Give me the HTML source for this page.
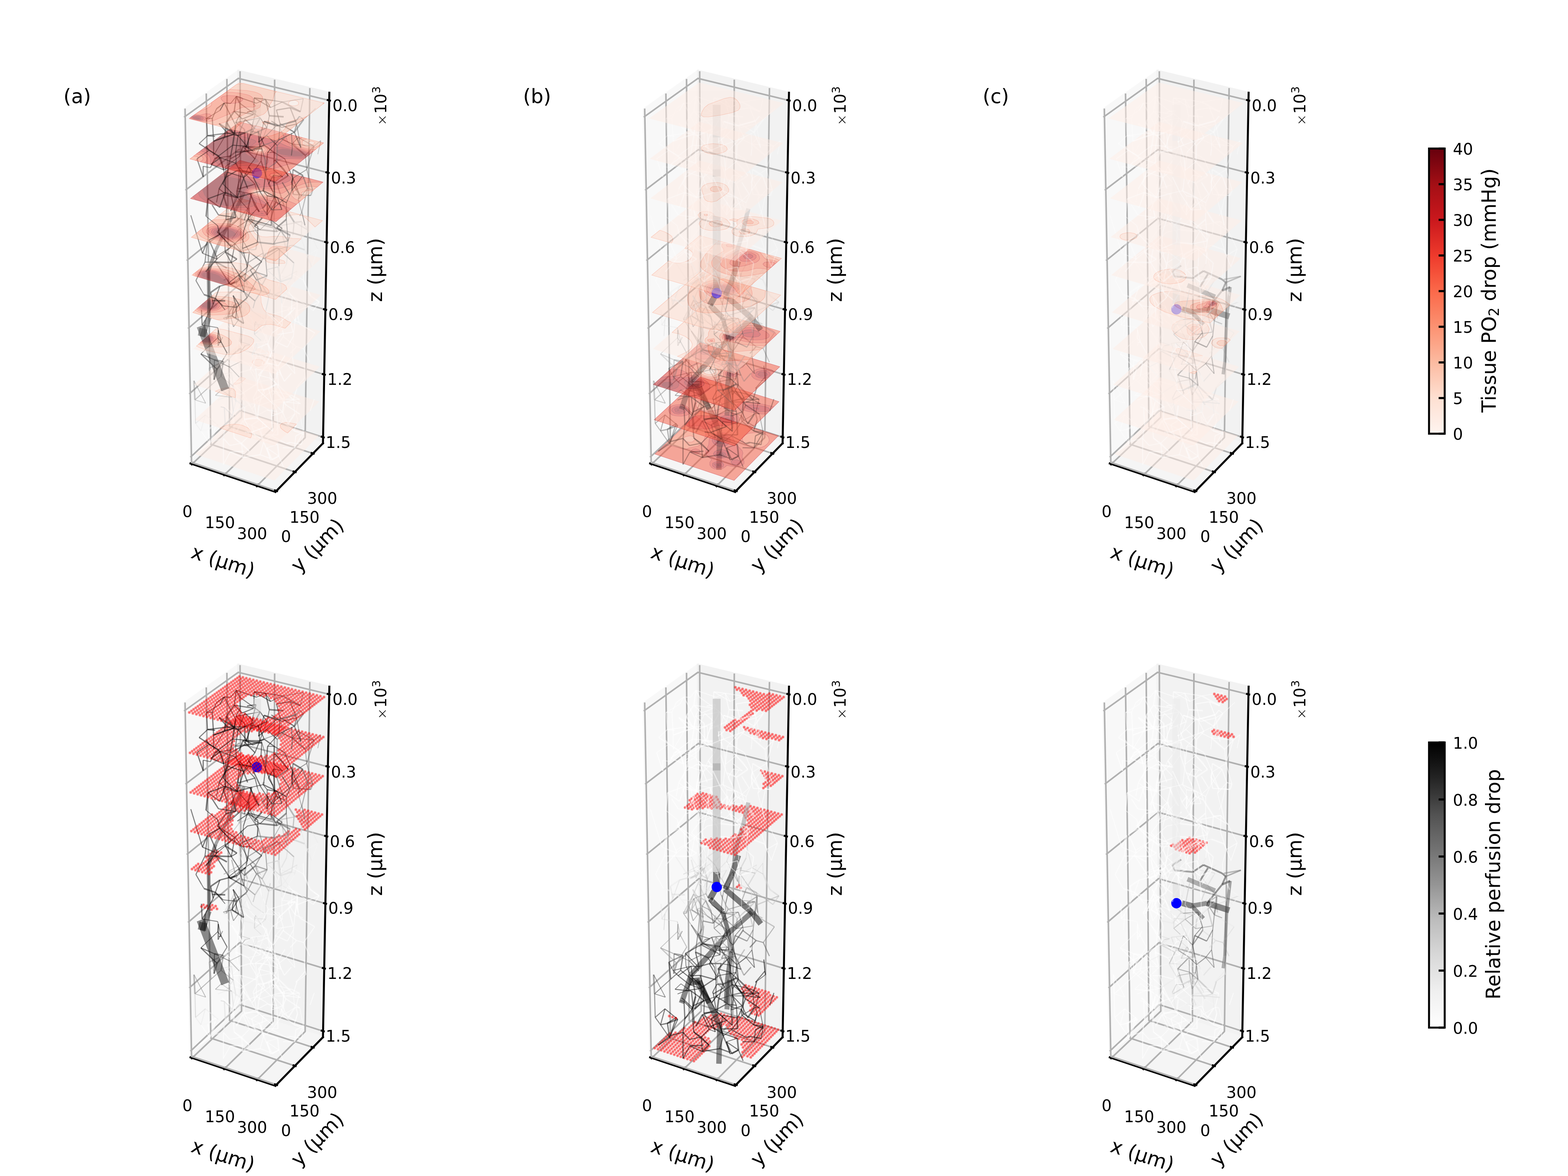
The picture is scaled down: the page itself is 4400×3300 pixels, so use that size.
<!DOCTYPE html>
<html><head><meta charset="utf-8"><title>figure</title><style>html,body{margin:0;padding:0;background:#fff}svg{display:block}</style></head><body>
<svg width="4400" height="3300" viewBox="0 0 4400 3300">
<rect width="4400" height="3300" fill="#fff"/>
<defs><marker id="dm" markerWidth="10" markerHeight="10" refX="5" refY="5" markerUnits="userSpaceOnUse" overflow="visible"><circle cx="5" cy="5" r="3.9" fill="#f00" fill-opacity="0.45"/><circle cx="5" cy="5" r="1.3" fill="#f00" fill-opacity="0.5"/></marker><g id="v0_8"><g fill="none" stroke-opacity="0.5"><g stroke="#959595" stroke-width="3.4"><path d="M592.5 1080.9L587.1 1033.3"/></g><g stroke="#7e7e7e" stroke-width="2.8"><path d="M592.5 1080.9L620.1 1056.3"/><path d="M592.5 1080.9L547 1122.1"/></g><g stroke="#ffffff" stroke-width="3.4"><path d="M674.8 1107.4L722.9 1075.6"/><path d="M674.8 1070.5L648.1 1071.7"/><path d="M742.7 1104.3L712 1122.3"/><path d="M679.9 976.7L730.7 1012.9"/><path d="M765.6 1108.3L765.5 1127.8"/><path d="M765.6 1108.3L757.9 1061.4"/><path d="M700.7 1037.6L733.8 1037.2"/><path d="M700.7 1037.6L669.6 1046.3"/><path d="M798.4 1117.8L763.2 1125.5"/><path d="M798.4 1117.8L792.6 1156.2"/><path d="M704.7 1213.1L734.7 1231.9"/><path d="M704.7 1213.1L748.7 1196.9"/><path d="M823.1 1122L833.7 1087.7"/><path d="M823.1 1122L803.2 1128.3"/><path d="M765.2 1210.5L761.8 1167.3"/><path d="M763.2 1125.5L761.8 1167.3"/><path d="M726.6 1138L738.3 1095.9"/><path d="M841.2 1161.9L802.1 1136.1"/><path d="M768.9 1135.9L761.8 1167.3"/><path d="M761.8 1167.3L792.6 1156.2"/><path d="M672.2 1048.5L648.1 1071.7"/><path d="M672.2 1048.5L661.9 1005.1"/><path d="M774.8 1097.4L793.2 1120.4"/><path d="M710.1 1117.8L712 1122.3"/></g><g stroke="#f5f5f5" stroke-width="2.8"><path d="M674.8 1107.4L634.6 1113.4"/><path d="M649.4 1044.6L669.6 1046.3"/><path d="M644.3 1095.7L613.2 1071.3"/></g><g stroke="#ffffff" stroke-width="2.8"><path d="M674.8 1107.4L644.3 1095.7"/><path d="M724.5 1125.5L765 1096.1"/><path d="M782.1 1081.9L765.6 1108.3"/><path d="M742.7 1104.3L725 1052.3"/><path d="M685.3 1176.2L686.7 1141.3"/><path d="M765.8 1074.6L774.8 1097.4"/><path d="M721.5 1096.1L738.3 1095.9"/><path d="M721.5 1096.1L710.1 1117.8"/><path d="M722.9 1075.6L700.7 1037.6"/><path d="M722.9 1075.6L733.8 1037.2"/><path d="M759 1041.6L765 1096.1"/><path d="M759 1041.6L730.1 989.6"/><path d="M759 1041.6L789.8 1053.5"/><path d="M685.8 1106.3L648.1 1071.7"/><path d="M715.4 1048.2L696.3 1020.7"/><path d="M765 1096.1L793.2 1120.4"/><path d="M749.5 1150.7L776.6 1154.5"/><path d="M730.1 989.6L730.7 1012.9"/><path d="M823.1 1122L843.4 1132.7"/><path d="M765.5 1127.8L776.6 1154.5"/><path d="M765.2 1210.5L722.3 1173"/><path d="M763.2 1125.5L792.6 1156.2"/><path d="M858.5 1068.2L856 1058.9"/><path d="M843.4 1132.7L803.2 1128.3"/><path d="M856 1058.9L830.1 1089.9"/><path d="M719.5 1167L712 1122.3"/><path d="M840.3 1120.5L793.2 1120.4"/><path d="M840.3 1120.5L817 1109"/><path d="M722.3 1173L748.7 1196.9"/><path d="M669.6 1046.3L633.3 1008.8"/><path d="M778.7 1189.5L776.6 1154.5"/><path d="M870.3 1153.4L881.8 1119.6"/></g><g stroke="#ffffff" stroke-width="2.2"><path d="M782.1 1081.9L775.6 1062.2"/><path d="M775.6 1062.2L765.8 1074.6"/><path d="M775.6 1062.2L727.4 1070.8"/><path d="M742.7 1104.3L727.4 1070.8"/><path d="M685.3 1176.2L704.7 1213.1"/><path d="M717.2 1073.2L719.7 1083"/><path d="M826.9 1161.7L823.1 1122"/><path d="M687.2 1212.3L704.7 1213.1"/><path d="M722.9 1075.6L727.4 1070.8"/><path d="M759 1041.6L733.8 1037.2"/><path d="M715.4 1048.2L719.7 1083"/><path d="M765 1096.1L817 1109"/><path d="M765.5 1127.8L803.2 1128.3"/><path d="M763.2 1125.5L726.6 1138"/><path d="M858.5 1068.2L830.1 1089.9"/><path d="M858.5 1068.2L853.5 1026.1"/><path d="M808.3 1189.5L792.6 1156.2"/><path d="M789.8 1053.5L766.7 998.5"/><path d="M856 1058.9L853.5 1026.1"/><path d="M696.3 1020.7L730.7 1012.9"/><path d="M648.1 1071.7L635.1 1043.2"/><path d="M633.3 1008.8L635.1 1043.2"/></g><g stroke="#ffffff" stroke-width="4.4"><path d="M782.1 1081.9L823.1 1122"/><path d="M685.3 1176.2L722.3 1173"/><path d="M826.9 1161.7L808.3 1189.5"/><path d="M726.6 1138L722.3 1173"/><path d="M802.1 1136.1L774.8 1097.4"/><path d="M696.3 1020.7L661.9 1005.1"/></g><g stroke="#c6c6c6" stroke-width="2.2"><path d="M587.1 1033.3L599 1056.8"/><path d="M629.6 1143.6L619.2 1141.6"/></g><g stroke="#d9d9d9" stroke-width="3.4"><path d="M654.6 1084.1L661.9 1127.2"/><path d="M629.6 1143.6L632 1192.4"/><path d="M654.9 1155.9L650.4 1114.7"/></g><g stroke="#d9d9d9" stroke-width="2.8"><path d="M654.6 1084.1L649.4 1044.6"/><path d="M651.6 1165.9L629.6 1143.6"/></g><g stroke="#959595" stroke-width="2.8"><path d="M654.6 1084.1L620.1 1056.3"/></g><g stroke="#d9d9d9" stroke-width="2.2"><path d="M654.6 1084.1L634.6 1113.4"/><path d="M649.4 1044.6L599 1056.8"/></g><g stroke="#e9e9e9" stroke-width="2.8"><path d="M651.6 1165.9L661.9 1127.2"/><path d="M649.4 1044.6L613.2 1071.3"/><path d="M613.2 1071.3L599 1056.8"/></g><g stroke="#e9e9e9" stroke-width="3.4"><path d="M651.6 1165.9L654.9 1155.9"/><path d="M651.6 1165.9L632 1192.4"/><path d="M686.7 1141.3L650.4 1114.7"/></g><g stroke="#e9e9e9" stroke-width="2.2"><path d="M611.5 1122.7L634.6 1113.4"/></g><g stroke="#b0b0b0" stroke-width="2.8"><path d="M604.5 1109.4L650.4 1114.7"/></g><g stroke="#7e7e7e" stroke-width="2.2"><path d="M604.5 1109.4L620.9 1094.1"/><path d="M544.3 1068.4L577.2 1131.5"/></g><g stroke="#f5f5f5" stroke-width="3.4"><path d="M686.7 1141.3L654.9 1155.9"/></g><g stroke="#7e7e7e" stroke-width="4.4"><path d="M547 1122.1L544.3 1068.4"/></g><g stroke="#959595" stroke-width="2.2"><path d="M547 1122.1L577.2 1131.5"/></g><g stroke="#c6c6c6" stroke-width="2.8"><path d="M547 1122.1L548.8 1188.3"/></g><g stroke="#b0b0b0" stroke-width="2.2"><path d="M650.4 1114.7L620.9 1094.1"/></g></g></g><g id="v0_4"><g fill="none" stroke-opacity="0.5"><g stroke="#333333" stroke-width="4.4"><path d="M685.5 790L716.6 763.1"/></g><g stroke="#515151" stroke-width="2.2"><path d="M685.5 790L694.2 749.2"/></g><g stroke="#333333" stroke-width="2.2"><path d="M685.5 790L669.4 772.1"/><path d="M694.3 738.2L676.6 707.8"/><path d="M749.2 603.2L766.3 634.4"/></g><g stroke="#d9d9d9" stroke-width="2.8"><path d="M807.8 707.9L803.9 740.8"/><path d="M774.7 780.9L786.8 790.5"/></g><g stroke="#000000" stroke-width="2.2"><path d="M675.5 664.8L701 708"/><path d="M645.7 686.1L610.1 651.7"/><path d="M759.3 616.5L730.1 644.5"/><path d="M680.6 710L659.4 683.4"/><path d="M607 719.6L648.6 692.8"/><path d="M632.1 707L608.7 727"/><path d="M640.8 794.6L669.4 772.1"/></g><g stroke="#000000" stroke-width="4.4"><path d="M645.7 686.1L676.6 707.8"/><path d="M600.5 735.7L649 736.8"/><path d="M664.8 727.4L632.1 707"/><path d="M607 719.6L608.7 727"/><path d="M610.1 651.7L634.1 616.7"/></g><g stroke="#515151" stroke-width="2.8"><path d="M744.2 713.6L716.6 763.1"/><path d="M695.6 585.1L711.4 631.3"/></g><g stroke="#515151" stroke-width="4.4"><path d="M744.2 713.6L778.1 695.5"/></g><g stroke="#686868" stroke-width="2.8"><path d="M744.2 713.6L749.5 774.1"/><path d="M725.2 658.1L738.4 709.9"/><path d="M682.2 597.2L652.3 584"/><path d="M694.3 738.2L738.4 709.9"/></g><g stroke="#333333" stroke-width="3.4"><path d="M759.3 616.5L777.6 649.6"/><path d="M702.2 757.8L734.6 734.7"/><path d="M652.3 584L669 615.8"/></g><g stroke="#b0b0b0" stroke-width="2.8"><path d="M650.4 670.6L670.8 643.6"/><path d="M794.5 666.8L789.8 632.8"/><path d="M846.4 621.7L825.3 623"/></g><g stroke="#181818" stroke-width="4.4"><path d="M777.6 649.6L730.1 644.5"/></g><g stroke="#515151" stroke-width="3.4"><path d="M777.6 649.6L791.8 641.3"/></g><g stroke="#333333" stroke-width="2.8"><path d="M702.2 757.8L719.9 785.7"/><path d="M695.6 585.1L669 615.8"/><path d="M696.7 617.2L725.2 658.1"/><path d="M694.2 749.2L669.4 772.1"/><path d="M652.3 584L644.7 637.6"/><path d="M685.1 819.4L669.4 772.1"/></g><g stroke="#000000" stroke-width="2.8"><path d="M674.9 777L649 736.8"/><path d="M730.1 644.5L694.3 651.4"/><path d="M696.7 617.2L666 637.5"/><path d="M680.6 710L701 708"/><path d="M568.1 710.5L547.1 642.1"/><path d="M568.1 710.5L608.7 727"/><path d="M629.9 662.5L632.1 707"/><path d="M600.5 735.7L575.2 735.6"/><path d="M694.3 651.4L659.4 683.4"/><path d="M649 736.8L664.8 727.4"/><path d="M649 736.8L632.1 707"/><path d="M649 736.8L659.4 683.4"/><path d="M582.1 677.3L575.2 735.6"/><path d="M632.1 707L659.4 683.4"/></g><g stroke="#959595" stroke-width="3.4"><path d="M782.7 746.9L784.3 698.4"/><path d="M682.2 597.2L670.8 643.6"/><path d="M778.1 695.5L824.9 738"/><path d="M822.2 658.4L825.3 623"/></g><g stroke="#e9e9e9" stroke-width="2.2"><path d="M892.1 699.2L866.4 646.9"/><path d="M818.4 780.1L793.4 815.2"/></g><g stroke="#f5f5f5" stroke-width="2.8"><path d="M892.1 699.2L874.6 748.2"/><path d="M892.1 699.2L861.9 717.2"/></g><g stroke="#686868" stroke-width="2.2"><path d="M695.6 585.1L682.2 597.2"/><path d="M725.2 658.1L711.4 631.3"/><path d="M784.3 698.4L778.1 695.5"/></g><g stroke="#7e7e7e" stroke-width="2.2"><path d="M695.6 585.1L715.6 621.8"/></g><g stroke="#000000" stroke-width="3.4"><path d="M577.2 762.5L608.7 727"/><path d="M568.1 710.5L582.1 677.3"/><path d="M586.7 673.5L607 719.6"/><path d="M610.1 651.7L659.4 683.4"/></g><g stroke="#7e7e7e" stroke-width="2.8"><path d="M716.6 763.1L733.7 815.9"/><path d="M740.5 727.1L784.3 698.4"/></g><g stroke="#686868" stroke-width="3.4"><path d="M716.6 763.1L749.5 774.1"/></g><g stroke="#7e7e7e" stroke-width="3.4"><path d="M725.2 658.1L717.9 699.9"/><path d="M749.5 774.1L719.9 785.7"/></g><g stroke="#e9e9e9" stroke-width="2.8"><path d="M845.5 668.9L861.9 717.2"/><path d="M874.6 748.2L854.7 701"/></g><g stroke="#c6c6c6" stroke-width="3.4"><path d="M845.5 668.9L846.4 621.7"/></g><g stroke="#d9d9d9" stroke-width="4.4"><path d="M818.4 780.1L786.8 790.5"/><path d="M786.8 790.5L780.2 748.8"/></g><g stroke="#d9d9d9" stroke-width="3.4"><path d="M818.4 780.1L824.9 738"/><path d="M804.8 705.3L773.2 688.8"/></g><g stroke="#181818" stroke-width="2.8"><path d="M694.2 749.2L680.5 697.4"/><path d="M694.2 749.2L699.7 708.2"/></g><g stroke="#e9e9e9" stroke-width="3.4"><path d="M790.5 851.2L786.8 790.5"/></g><g stroke="#959595" stroke-width="2.8"><path d="M682.2 597.2L715.6 621.8"/><path d="M672.4 701.2L717.9 699.9"/></g><g stroke="#b0b0b0" stroke-width="2.2"><path d="M715.6 621.8L670.8 643.6"/></g><g stroke="#181818" stroke-width="3.4"><path d="M734.6 734.7L701 708"/></g><g stroke="#7e7e7e" stroke-width="4.4"><path d="M740.5 727.1L738.4 709.9"/></g><g stroke="#959595" stroke-width="2.2"><path d="M819.5 688.1L784.3 698.4"/></g><g stroke="#c6c6c6" stroke-width="4.4"><path d="M819.5 688.1L854.7 701"/><path d="M804.8 705.3L794.5 666.8"/></g><g stroke="#d9d9d9" stroke-width="2.2"><path d="M786.8 790.5L748.9 756.7"/></g><g stroke="#c6c6c6" stroke-width="2.8"><path d="M866.4 646.9L846.4 621.7"/><path d="M748.9 756.7L780.2 748.8"/></g><g stroke="#b0b0b0" stroke-width="3.4"><path d="M866.4 646.9L825.3 623"/><path d="M789.8 632.8L846.4 621.7"/></g><g stroke="#181818" stroke-width="2.2"><path d="M644.7 637.6L669 615.8"/></g><g stroke="#515151" stroke-width="9"><path d="M644.8 622.1L605 702.9"/></g><g stroke="#181818" stroke-width="10"><path d="M605 702.9L585 760.4"/></g></g></g><g id="v0_5"><g fill="none" stroke-opacity="0.5"><g stroke="#333333" stroke-width="2.2"><path d="M685.5 790L685.1 819.4"/></g><g stroke="#000000" stroke-width="3.4"><path d="M617.1 802.9L665.8 790.2"/><path d="M605.3 838.1L625.3 858.4"/><path d="M646.4 798.9L604.6 734.3"/><path d="M654.1 829.3L670.5 854.8"/><path d="M685.1 819.4L640.8 794.6"/></g><g stroke="#000000" stroke-width="2.8"><path d="M617.1 802.9L598.2 854.1"/><path d="M674.9 777L689.6 767.8"/><path d="M565.1 814.3L549.7 787.3"/><path d="M600.5 735.7L604.6 734.3"/><path d="M654.1 829.3L663.8 862.3"/><path d="M575.2 735.6L549.7 787.3"/></g><g stroke="#000000" stroke-width="4.4"><path d="M617.1 802.9L591.2 820.6"/><path d="M595.7 843L632 844.4"/><path d="M665.8 790.2L646.4 798.9"/><path d="M572.4 826.7L605.3 838.1"/><path d="M636.7 752.1L604.6 734.3"/></g><g stroke="#f5f5f5" stroke-width="3.4"><path d="M825.9 789.8L809.2 818.2"/><path d="M825.9 789.8L829.4 783.5"/><path d="M743.8 817.7L765.1 778.9"/></g><g stroke="#e9e9e9" stroke-width="2.8"><path d="M825.9 789.8L833.7 760.4"/><path d="M809.2 818.2L787.5 786.1"/><path d="M765.4 710.5L749.2 750"/><path d="M786 774.9L829.4 783.5"/></g><g stroke="#d9d9d9" stroke-width="3.4"><path d="M790.3 817.5L753.8 834"/><path d="M803.9 740.8L786 774.9"/></g><g stroke="#d9d9d9" stroke-width="2.8"><path d="M790.3 817.5L787.5 786.1"/><path d="M758.4 811.9L750.3 854"/><path d="M657.5 776.9L695 799.1"/><path d="M657.5 776.9L688.4 772.7"/><path d="M746.4 868.8L745.9 873.1"/><path d="M746.4 868.8L750.3 854"/></g><g stroke="#e9e9e9" stroke-width="3.4"><path d="M790.3 817.5L819.7 834.1"/><path d="M665.9 684.8L698 697.2"/></g><g stroke="#ffffff" stroke-width="2.8"><path d="M779 911.3L817.7 872.9"/><path d="M851.4 786.1L851 755.5"/><path d="M791 768L779.9 807.1"/><path d="M817.7 872.9L819.7 834.1"/></g><g stroke="#f5f5f5" stroke-width="2.8"><path d="M779 911.3L745.9 873.1"/><path d="M791 768L765.1 778.9"/><path d="M820.3 768.3L804.8 705.3"/><path d="M779.9 807.1L765.1 778.9"/></g><g stroke="#e9e9e9" stroke-width="2.2"><path d="M784.1 813.9L772 777.1"/><path d="M784.1 813.9L786 774.9"/><path d="M670.7 808.6L688.4 772.7"/><path d="M765.1 778.9L772 777.1"/><path d="M665.9 684.8L671.6 734.6"/><path d="M695 799.1L688.4 772.7"/></g><g stroke="#333333" stroke-width="3.4"><path d="M693.5 835.3L663.8 862.3"/><path d="M694.3 738.2L689.6 767.8"/></g><g stroke="#515151" stroke-width="2.8"><path d="M693.5 835.3L685.1 819.4"/><path d="M693.5 835.3L719.9 785.7"/></g><g stroke="#181818" stroke-width="2.2"><path d="M661.8 891.8L663.8 862.3"/></g><g stroke="#ffffff" stroke-width="2.2"><path d="M792.1 913.3L762.7 935.1"/><path d="M792.1 913.3L760.1 884.2"/><path d="M792.1 913.3L790.5 851.2"/><path d="M834.5 849L809.2 818.2"/><path d="M851.4 786.1L820.3 768.3"/><path d="M817.7 872.9L809.9 884.1"/></g><g stroke="#c6c6c6" stroke-width="3.4"><path d="M650.4 670.6L665.9 684.8"/></g><g stroke="#000000" stroke-width="2.2"><path d="M702.2 757.8L674.9 777"/><path d="M565.1 814.3L572.4 826.7"/><path d="M605.3 838.1L631.7 869.5"/><path d="M646.4 798.9L689.6 767.8"/><path d="M663.8 862.3L625.3 858.4"/></g><g stroke="#d9d9d9" stroke-width="2.2"><path d="M705 704L698 697.2"/><path d="M753.8 834L746.4 868.8"/><path d="M833.7 760.4L787.5 786.1"/></g><g stroke="#b0b0b0" stroke-width="3.4"><path d="M705 704L717.9 699.9"/><path d="M733.7 815.9L715.6 844.4"/></g><g stroke="#ffffff" stroke-width="4.4"><path d="M851.4 786.1L870.7 829.7"/><path d="M703.2 783.6L671.6 734.6"/></g><g stroke="#c6c6c6" stroke-width="2.2"><path d="M782.7 746.9L787.5 786.1"/><path d="M753.8 834L758.4 811.9"/><path d="M657.5 776.9L650.1 746"/></g><g stroke="#b0b0b0" stroke-width="2.8"><path d="M753.8 834L735.5 799.9"/><path d="M710.2 864.6L715.6 844.4"/><path d="M716.5 760L730.4 787.7"/></g><g stroke="#181818" stroke-width="3.4"><path d="M665.8 790.2L689.6 767.8"/></g><g stroke="#f5f5f5" stroke-width="2.2"><path d="M790.5 851.2L793.4 815.2"/><path d="M765.1 778.9L749.2 750"/><path d="M728.9 771.9L749.2 750"/><path d="M861.9 717.2L851 755.5"/><path d="M829.4 783.5L851 755.5"/><path d="M698 697.2L671.6 734.6"/></g><g stroke="#959595" stroke-width="3.4"><path d="M735.5 799.9L749.5 774.1"/><path d="M663.6 798.1L650.1 746"/></g><g stroke="#7e7e7e" stroke-width="3.4"><path d="M735.5 799.9L719.9 785.7"/><path d="M694.3 738.2L716.5 760"/><path d="M715.6 844.4L685.1 819.4"/></g><g stroke="#959595" stroke-width="2.2"><path d="M663.6 798.1L676 759.5"/><path d="M676 759.5L627.6 786.5"/></g><g stroke="#7e7e7e" stroke-width="2.8"><path d="M672.4 701.2L676 759.5"/></g><g stroke="#ffffff" stroke-width="3.4"><path d="M828.1 864.3L809.9 884.1"/><path d="M703.2 783.6L728.9 771.9"/></g><g stroke="#d9d9d9" stroke-width="4.4"><path d="M765.4 710.5L773.2 688.8"/></g><g stroke="#b0b0b0" stroke-width="4.4"><path d="M676 759.5L695 799.1"/></g><g stroke="#b0b0b0" stroke-width="2.2"><path d="M627.6 786.5L657.5 776.9"/></g><g stroke="#181818" stroke-width="10"><path d="M585 760.4L586.2 835.4"/><path d="M586.2 835.4L586.2 890.4"/></g></g></g><g id="v0_7"><g fill="none" stroke-opacity="0.5"><g stroke="#959595" stroke-width="2.8"><path d="M671.4 1058.2L644.5 1029.9"/></g><g stroke="#f5f5f5" stroke-width="3.4"><path d="M717.3 1005.4L676.8 984"/></g><g stroke="#ffffff" stroke-width="2.8"><path d="M717.3 1005.4L701.9 1036.9"/><path d="M722.4 1070.3L717 1034.9"/><path d="M707.5 963.6L720.4 999.7"/><path d="M707.5 963.6L751.1 958.1"/><path d="M827.4 1048.5L820.3 998.9"/><path d="M869.2 1016.3L852 978.3"/><path d="M782.1 1081.9L777.8 1040.4"/><path d="M767.1 985.3L777.8 1040.4"/><path d="M803.6 1020.2L777.8 1040.4"/><path d="M852 978.3L883.3 934.1"/><path d="M852 978.3L831.9 972.6"/><path d="M747.8 940.9L730.1 989.6"/><path d="M747.8 940.9L751.1 958.1"/><path d="M777.8 1040.4L757.2 1019.6"/><path d="M753.7 1091.5L723.7 1093.8"/><path d="M757.9 1061.4L725 1052.3"/><path d="M726.9 1000.1L757.2 1019.6"/><path d="M773.3 1018.1L734.9 1022.8"/><path d="M650.1 929L668.6 952.2"/><path d="M768.9 1135.9L723.7 1093.8"/><path d="M766.7 998.5L720.4 999.7"/><path d="M766.7 998.5L751.1 958.1"/><path d="M694.9 903.9L676.7 880.6"/><path d="M720.4 999.7L701.9 1036.9"/><path d="M661.9 1005.1L668.6 952.2"/></g><g stroke="#ffffff" stroke-width="2.2"><path d="M722.4 1070.3L747.8 1018.3"/><path d="M722.4 1070.3L723.7 1093.8"/><path d="M701 889.3L733 922.9"/><path d="M681.6 981.9L668.6 952.2"/><path d="M827.4 1048.5L803.6 1020.2"/><path d="M823.5 942.5L820.3 998.9"/><path d="M767.1 985.3L741 959.6"/><path d="M753.3 1040.8L771.8 1074.1"/><path d="M753.3 1040.8L717 1034.9"/><path d="M803.6 1020.2L820.3 998.9"/><path d="M775.9 1077.7L798.4 1117.8"/><path d="M753.7 1091.5L763.2 1125.5"/><path d="M757.9 1061.4L757.2 1019.6"/><path d="M773.3 1018.1L788 1049.6"/><path d="M747.8 1018.3L788 1049.6"/><path d="M747.8 1018.3L717 1034.9"/><path d="M665.7 885.5L694.9 903.9"/></g><g stroke="#333333" stroke-width="2.8"><path d="M637.3 991L609.2 1036.3"/></g><g stroke="#ffffff" stroke-width="3.4"><path d="M707.5 963.6L676.8 984"/><path d="M681.6 981.9L676.8 984"/><path d="M681.6 981.9L650.1 929"/><path d="M681.6 981.9L633.3 1008.8"/><path d="M782.1 1081.9L757.9 1061.4"/><path d="M773 958.8L767.1 985.3"/><path d="M775.6 1062.2L777.8 1040.4"/><path d="M767.1 985.3L795.7 943.1"/><path d="M795.8 945.4L795.7 943.1"/><path d="M795.8 945.4L831.9 972.6"/><path d="M679.9 976.7L668.6 952.2"/><path d="M679.9 976.7L684.7 932.5"/><path d="M733 922.9L751.1 958.1"/><path d="M747.8 940.9L694.9 903.9"/><path d="M814.6 991.9L831.9 972.6"/><path d="M725 1052.3L757.2 1019.6"/><path d="M797.8 1070.1L817.8 1047.3"/><path d="M797.8 1070.1L788 1049.6"/><path d="M750.7 990.5L773.3 1018.1"/><path d="M750.7 990.5L734.9 1022.8"/><path d="M665.7 885.5L684.7 932.5"/><path d="M665.7 885.5L676.7 880.6"/><path d="M788 1049.6L781.2 1026.3"/><path d="M668.6 952.2L676.7 880.6"/></g><g stroke="#ffffff" stroke-width="4.4"><path d="M681.6 981.9L730.1 989.6"/><path d="M775.9 1077.7L753.7 1091.5"/><path d="M775.9 1077.7L738.3 1095.9"/></g><g stroke="#7e7e7e" stroke-width="3.4"><path d="M587.1 1033.3L626.7 1014.6"/></g><g stroke="#959595" stroke-width="2.2"><path d="M677.6 1013.4L644.5 1029.9"/><path d="M688 970.1L673.1 990"/></g><g stroke="#333333" stroke-width="2.2"><path d="M644.5 1029.9L601.7 1009.9"/></g><g stroke="#333333" stroke-width="4.4"><path d="M601.7 1009.9L626.7 1014.6"/><path d="M600.7 1065.7L609.2 1036.3"/></g><g stroke="#181818" stroke-width="2.8"><path d="M601.7 1009.9L600.7 1065.7"/></g><g stroke="#000000" stroke-width="2.8"><path d="M601.7 1009.9L563.7 993.3"/></g><g stroke="#d9d9d9" stroke-width="2.8"><path d="M682.9 917.7L680.1 940.1"/></g><g stroke="#f5f5f5" stroke-width="2.2"><path d="M741 959.6L726.9 1000.1"/><path d="M650.1 929L628 896.1"/></g><g stroke="#c6c6c6" stroke-width="2.8"><path d="M688 970.1L701.9 967.5"/></g><g stroke="#d9d9d9" stroke-width="4.4"><path d="M680.1 940.1L670.8 957.8"/></g><g stroke="#686868" stroke-width="3.4"><path d="M626.7 1014.6L620.1 1056.3"/></g><g stroke="#c6c6c6" stroke-width="2.2"><path d="M670.8 957.8L701.9 967.5"/></g><g stroke="#686868" stroke-width="2.8"><path d="M624.8 946L612.2 970.1"/></g><g stroke="#000000" stroke-width="3.4"><path d="M609.2 1036.3L563.7 993.3"/></g><g stroke="#000000" stroke-width="2.2"><path d="M563.7 993.3L611.1 947.9"/></g><g stroke="#181818" stroke-width="3.4"><path d="M612.5 926.3L612.2 970.1"/></g><g stroke="#181818" stroke-width="23"><path d="M586.3 975.4L609.3 1035.1"/><path d="M609.3 1035.1L632 1093.9"/></g></g></g><g id="v0_6"><g fill="none" stroke-opacity="0.5"><g stroke="#ffffff" stroke-width="3.4"><path d="M799.8 997.7L781.2 1026.3"/><path d="M701 889.3L690.6 860.6"/><path d="M751.2 964.4L721.4 976.9"/><path d="M773 958.8L806.5 974.2"/><path d="M834.5 849L807.1 866.9"/><path d="M834.5 849L833.6 872.5"/><path d="M762.5 988.8L759.1 1001.8"/><path d="M788.1 875.1L828.7 863.2"/><path d="M828.1 864.3L807.1 866.9"/><path d="M879 871.4L895.9 847.4"/><path d="M822.4 931.8L809.9 884.1"/><path d="M895.9 847.4L833.6 872.5"/><path d="M733.1 844.2L726.4 808.6"/><path d="M833.6 872.5L827.9 900.5"/><path d="M883.3 934.1L840.7 908.9"/></g><g stroke="#000000" stroke-width="2.8"><path d="M637.3 991L620.8 960.5"/><path d="M650.8 886.5L670.5 854.8"/><path d="M576.1 897.9L598.2 854.1"/><path d="M620.8 960.5L613.6 961.4"/></g><g stroke="#ffffff" stroke-width="4.4"><path d="M779 911.3L775.5 939.2"/><path d="M834.5 849L827.9 900.5"/><path d="M762.5 988.8L747.8 1018.3"/><path d="M870.7 829.7L895.9 847.4"/><path d="M728.9 771.9L726.4 808.6"/><path d="M805.3 824.4L833.9 839.1"/></g><g stroke="#ffffff" stroke-width="2.2"><path d="M779 911.3L809.9 884.1"/><path d="M751.2 964.4L762.7 935.1"/><path d="M773 958.8L794.6 933.6"/><path d="M733.2 895.8L766.2 899.4"/><path d="M792.1 860.2L828.7 863.2"/><path d="M879 871.4L833.9 839.1"/><path d="M733.1 844.2L753.1 885.5"/><path d="M795.7 943.1L794.6 933.6"/><path d="M828.7 863.2L840.7 908.9"/></g><g stroke="#d9d9d9" stroke-width="2.8"><path d="M746.2 912.9L714 938.4"/><path d="M746.2 912.9L714.7 910.3"/><path d="M746.2 912.9L746.4 868.8"/><path d="M707.4 872.5L740.9 896"/><path d="M733.6 930L717.3 902.2"/><path d="M656.5 842.6L680.6 876.5"/></g><g stroke="#f5f5f5" stroke-width="2.8"><path d="M746.2 912.9L775.5 939.2"/><path d="M707.1 995.1L750.7 990.5"/><path d="M705.1 888.6L690.6 860.6"/><path d="M705.1 888.6L711.6 924.1"/></g><g stroke="#f5f5f5" stroke-width="2.2"><path d="M746.2 912.9L781.2 892.9"/><path d="M733.2 895.8L737.2 855.5"/><path d="M782 892.9L740.9 896"/><path d="M707.1 995.1L717 1034.9"/><path d="M743.8 817.7L737.2 855.5"/><path d="M670.7 808.6L690.6 860.6"/><path d="M750.7 990.5L719.5 963.1"/></g><g stroke="#c6c6c6" stroke-width="2.8"><path d="M714 938.4L714.7 910.3"/><path d="M714.7 910.3L717.3 902.2"/><path d="M691.4 841.3L695 799.1"/></g><g stroke="#d9d9d9" stroke-width="2.2"><path d="M714 938.4L732.6 955.6"/><path d="M682.9 917.7L680.6 876.5"/></g><g stroke="#ffffff" stroke-width="2.8"><path d="M751.2 964.4L762.5 988.8"/><path d="M751.2 964.4L759.1 1001.8"/><path d="M823.5 942.5L806.5 974.2"/><path d="M823.5 942.5L827.9 900.5"/><path d="M733 922.9L753.1 885.5"/><path d="M782 892.9L794.6 933.6"/><path d="M836.6 894.1L833.6 872.5"/><path d="M836.6 894.1L833.9 839.1"/><path d="M788.1 875.1L753.1 885.5"/><path d="M792.1 860.2L805.3 824.4"/><path d="M703.2 783.6L687.4 819.3"/><path d="M822.4 931.8L775.5 939.2"/><path d="M895.9 847.4L880.4 836.7"/><path d="M747.8 1018.3L781.2 1026.3"/><path d="M807.1 866.9L827.9 900.5"/><path d="M827.9 900.5L849.8 909.1"/></g><g stroke="#e9e9e9" stroke-width="2.2"><path d="M736.2 844.9L737.2 855.5"/><path d="M705.1 888.6L680.6 876.5"/></g><g stroke="#f5f5f5" stroke-width="3.4"><path d="M733.2 895.8L711.6 924.1"/><path d="M690.6 860.6L656.5 842.6"/></g><g stroke="#181818" stroke-width="4.4"><path d="M683.9 907.7L650.8 886.5"/></g><g stroke="#333333" stroke-width="2.8"><path d="M683.9 907.7L670.5 854.8"/><path d="M657.4 855L669.6 897.2"/></g><g stroke="#000000" stroke-width="3.4"><path d="M567.2 912.2L576.1 897.9"/><path d="M567.2 912.2L565.4 869.7"/><path d="M650.8 886.5L657.4 855"/><path d="M598.2 854.1L591.2 820.6"/></g><g stroke="#000000" stroke-width="2.2"><path d="M567.2 912.2L610.8 919.3"/><path d="M626.5 893.2L650.8 886.5"/><path d="M576.1 897.9L573.3 942.9"/><path d="M620.8 960.5L610.8 919.3"/><path d="M620.8 960.5L611.1 947.9"/><path d="M612.5 926.3L611.1 947.9"/></g><g stroke="#c6c6c6" stroke-width="2.2"><path d="M707.4 872.5L691.4 841.3"/></g><g stroke="#e9e9e9" stroke-width="2.8"><path d="M707.1 995.1L719.5 963.1"/><path d="M690.6 860.6L680.6 876.5"/></g><g stroke="#e9e9e9" stroke-width="3.4"><path d="M707.1 995.1L721.4 976.9"/><path d="M682.9 917.7L711.6 924.1"/><path d="M670.7 808.6L656.5 842.6"/><path d="M719.5 963.1L721.4 976.9"/></g><g stroke="#181818" stroke-width="2.2"><path d="M650.8 886.5L669.6 897.2"/></g><g stroke="#7e7e7e" stroke-width="2.2"><path d="M691.4 841.3L657.4 855"/></g><g stroke="#515151" stroke-width="2.2"><path d="M655.2 917L669.6 897.2"/></g><g stroke="#686868" stroke-width="2.8"><path d="M655.2 917L643.7 875.7"/></g><g stroke="#c6c6c6" stroke-width="3.4"><path d="M628 896.1L635.7 896.2"/><path d="M635.7 896.2L656.5 842.6"/></g><g stroke="#d9d9d9" stroke-width="3.4"><path d="M628 896.1L656.5 842.6"/></g><g stroke="#515151" stroke-width="2.8"><path d="M657.4 855L643.7 875.7"/></g><g stroke="#7e7e7e" stroke-width="4.4"><path d="M635.7 896.2L643.7 875.7"/></g><g stroke="#181818" stroke-width="15"><path d="M586.2 890.4L567.5 945.4"/></g><g stroke="#181818" stroke-width="22"><path d="M557.5 930.4L580 935.4"/></g><g stroke="#181818" stroke-width="23"><path d="M563 914.9L586.3 975.4"/></g></g></g><g id="v0_1"><g fill="none" stroke-opacity="0.5"><g stroke="#181818" stroke-width="2.8"><path d="M740.9 340.8L774.4 353.7"/><path d="M778 408.2L747.9 379.8"/><path d="M695.1 371.9L638.5 373.5"/><path d="M695.1 371.9L697.3 424.7"/><path d="M844.3 414.4L826.1 371.3"/><path d="M792.6 286.2L745.1 278.8"/><path d="M672.7 289.7L730.2 331.1"/></g><g stroke="#000000" stroke-width="2.8"><path d="M740.9 340.8L725.4 399.4"/><path d="M832.2 347.9L790.5 357.7"/><path d="M761.5 339.7L790.5 357.7"/><path d="M723.9 367L741.3 407.6"/><path d="M723.9 367L729 411.8"/><path d="M661 427.2L668 380.8"/><path d="M661 427.2L697.3 424.7"/><path d="M713 274.7L759.4 301.7"/><path d="M663 270.4L719.4 289.8"/><path d="M679.6 334L712.5 320.9"/><path d="M668 380.8L638.5 373.5"/><path d="M668 380.8L693 410.5"/><path d="M595.7 332.1L579.3 332.5"/><path d="M595.7 332.1L607.9 304.9"/><path d="M785.8 346.8L782.5 392.7"/><path d="M785.8 346.8L775.7 308.7"/><path d="M629.2 289L647.2 290.4"/><path d="M629.2 289L661.4 351.8"/><path d="M656.2 377.1L661.4 351.8"/><path d="M656.2 377.1L599.4 396.4"/><path d="M693 410.5L704.1 368.5"/><path d="M728.1 373.1L704.1 368.5"/><path d="M653.1 407.3L688.2 410.2"/><path d="M653.1 407.3L613.7 437.5"/><path d="M749.1 358.3L730.2 331.1"/><path d="M661.5 343.8L674.3 320.1"/><path d="M657.3 312.4L712.5 320.9"/><path d="M582.6 380.7L558.8 402.9"/><path d="M704.1 368.5L718.3 310.5"/><path d="M577.1 410L587.1 421.6"/><path d="M587.1 421.6L613.7 437.5"/></g><g stroke="#515151" stroke-width="2.2"><path d="M832.2 347.9L851.9 335.4"/></g><g stroke="#333333" stroke-width="3.4"><path d="M832.2 347.9L814.3 302.4"/></g><g stroke="#333333" stroke-width="2.2"><path d="M832.2 347.9L844.3 414.4"/><path d="M774.4 353.7L781.3 352.9"/><path d="M732.9 410.2L744 448.7"/><path d="M818 373.1L820.2 416.3"/></g><g stroke="#333333" stroke-width="2.8"><path d="M832.2 347.9L826.1 371.3"/><path d="M817.7 436.5L820.2 416.3"/></g><g stroke="#000000" stroke-width="3.4"><path d="M702.8 379.3L749.1 358.3"/><path d="M702.8 379.3L730.2 331.1"/><path d="M713 274.7L712.5 320.9"/><path d="M713 274.7L745.1 278.8"/><path d="M647.2 437.7L653.1 407.3"/><path d="M663 270.4L657.3 312.4"/><path d="M679.6 334L657.3 312.4"/><path d="M595.7 332.1L599.4 396.4"/><path d="M785.8 346.8L826.1 371.3"/><path d="M630.3 383.8L656.2 377.1"/><path d="M630.3 383.8L599.4 396.4"/><path d="M629.2 289L607.9 304.9"/><path d="M638.5 373.5L582.6 380.7"/><path d="M638.5 373.5L614.8 346.8"/><path d="M661.7 458.1L662.8 452.1"/><path d="M710.1 424L688.2 410.2"/><path d="M755.8 324.8L745.1 278.8"/><path d="M582.6 380.7L603.4 382.6"/><path d="M747.9 379.8L725.4 399.4"/><path d="M693.3 314.6L718.3 310.5"/><path d="M618.5 442.7L587.1 421.6"/><path d="M618.5 442.7L592.4 461.3"/><path d="M558.8 402.9L587.1 421.6"/><path d="M687.2 334.9L715.3 359.6"/></g><g stroke="#000000" stroke-width="2.2"><path d="M774.4 353.7L747.9 379.8"/><path d="M661 427.2L662.8 452.1"/><path d="M663 270.4L647.2 290.4"/><path d="M552.8 445.5L587.1 421.6"/><path d="M668 380.8L687.2 334.9"/><path d="M661.7 458.1L618.5 442.7"/><path d="M719.4 289.8L745.1 278.8"/><path d="M749.1 358.3L755.8 324.8"/><path d="M661.5 343.8L730.2 331.1"/><path d="M579.3 332.5L582.6 380.7"/><path d="M579.3 332.5L617.4 309.6"/><path d="M782.5 392.7L751 427.5"/><path d="M782.5 392.7L826.1 371.3"/><path d="M745.1 278.8L759.4 301.7"/></g><g stroke="#515151" stroke-width="2.8"><path d="M774.4 353.7L831 338.8"/></g><g stroke="#686868" stroke-width="3.4"><path d="M778 408.2L776.6 453.2"/></g><g stroke="#686868" stroke-width="2.8"><path d="M778 408.2L798.8 386"/><path d="M732.9 410.2L798.8 386"/><path d="M851.9 335.4L840.6 326.4"/></g><g stroke="#686868" stroke-width="2.2"><path d="M776.6 453.2L745.7 478.1"/><path d="M792.6 286.2L851.1 276.8"/></g><g stroke="#181818" stroke-width="4.4"><path d="M663 270.4L672.7 289.7"/><path d="M755.8 324.8L796 327.7"/></g><g stroke="#000000" stroke-width="4.4"><path d="M668 380.8L614.8 346.8"/><path d="M668 380.8L715.3 359.6"/><path d="M630.3 383.8L635.6 342.9"/><path d="M656.2 377.1L635.6 342.9"/><path d="M693 410.5L688.2 410.2"/><path d="M653.1 407.3L661.4 351.8"/><path d="M657.3 312.4L635.6 342.9"/></g><g stroke="#181818" stroke-width="2.2"><path d="M732.9 410.2L697.3 424.7"/><path d="M792.6 286.2L759.4 301.7"/><path d="M672.7 289.7L674.3 320.1"/></g><g stroke="#515151" stroke-width="4.4"><path d="M851.9 335.4L826.1 371.3"/><path d="M814.3 302.4L843.1 313.4"/><path d="M792.6 286.2L843.1 313.4"/></g><g stroke="#959595" stroke-width="2.2"><path d="M851.9 335.4L885.7 304.1"/></g><g stroke="#181818" stroke-width="3.4"><path d="M814.3 302.4L775.7 308.7"/></g><g stroke="#7e7e7e" stroke-width="2.8"><path d="M843.1 313.4L851.1 276.8"/><path d="M781.3 352.9L798.8 386"/></g><g stroke="#515151" stroke-width="3.4"><path d="M745.7 478.1L744 448.7"/></g><g stroke="#d9d9d9" stroke-width="22"><path d="M721.2 294.2L721.2 365.4"/></g></g></g><g id="v0_0"><g fill="none" stroke-opacity="0.5"><g stroke="#333333" stroke-width="4.4"><path d="M740.9 340.8L781.3 352.9"/></g><g stroke="#000000" stroke-width="2.8"><path d="M629.2 289L617.4 309.6"/></g><g stroke="#7e7e7e" stroke-width="3.4"><path d="M840.6 326.4L831 338.8"/></g><g stroke="#686868" stroke-width="4.4"><path d="M781.3 352.9L831 338.8"/></g></g></g><g id="v0_3"><g fill="none" stroke-opacity="0.5"><g stroke="#686868" stroke-width="2.8"><path d="M808.4 676L803.4 615.6"/><path d="M862.9 529.2L847.5 593.2"/><path d="M862.9 529.2L877.3 533.2"/></g><g stroke="#7e7e7e" stroke-width="3.4"><path d="M808.4 676L774.6 682.6"/><path d="M808.4 676L788.1 647.8"/></g><g stroke="#7e7e7e" stroke-width="2.2"><path d="M808.4 676L814.3 660.2"/><path d="M847.5 593.2L855.9 632.1"/><path d="M767.4 684.7L788.1 647.8"/></g><g stroke="#959595" stroke-width="2.8"><path d="M808.4 676L803.9 705.8"/></g><g stroke="#000000" stroke-width="2.2"><path d="M665.3 555.2L663.9 535.7"/><path d="M665.3 555.2L668.8 516.8"/><path d="M695.6 586.6L666.1 554.1"/><path d="M695.6 586.6L685.3 618.3"/><path d="M749.4 595.1L749.6 549.4"/><path d="M720.7 586.5L695 614.1"/><path d="M666.1 554.1L647 592.1"/><path d="M654.7 574.8L647 592.1"/><path d="M730.1 644.5L714.3 635.1"/><path d="M578.3 607.3L610.5 633.2"/><path d="M663.9 535.7L701.7 543.4"/><path d="M663.9 535.7L668.8 516.8"/><path d="M680.5 697.4L683.1 650.9"/><path d="M765.6 537.5L752.9 516.8"/><path d="M668.8 516.8L671.3 468.8"/></g><g stroke="#000000" stroke-width="2.8"><path d="M665.3 555.2L626.4 545.6"/><path d="M749.4 595.1L770.9 551.2"/><path d="M759.3 616.5L773.9 567.5"/><path d="M715 577.1L701.7 543.4"/><path d="M695 614.1L723.6 635.3"/><path d="M695 614.1L683.1 650.9"/><path d="M696.7 617.2L699.1 582.5"/><path d="M727.4 594.6L701.7 543.4"/><path d="M770.9 551.2L780.8 575.1"/><path d="M633.5 544.6L634 497.3"/><path d="M633.5 544.6L614.8 529.8"/><path d="M661.5 610.3L613.1 603.1"/><path d="M616.7 658.1L610.5 633.2"/><path d="M616.7 658.1L586.7 673.5"/><path d="M616.7 658.1L648.6 692.8"/><path d="M547.1 642.1L535.4 604.1"/><path d="M680.9 478.9L668.8 516.8"/><path d="M680.9 478.9L671.3 468.8"/><path d="M636.3 578.6L634.1 616.7"/><path d="M607.6 568L614.8 529.8"/><path d="M671.3 468.8L715.5 516.8"/></g><g stroke="#515151" stroke-width="2.8"><path d="M862.9 529.2L836.8 559.6"/><path d="M652.3 584L668.2 530.5"/></g><g stroke="#181818" stroke-width="3.4"><path d="M840.5 546.8L821.8 500"/><path d="M695 614.1L761.3 632.5"/><path d="M668.2 530.5L668.8 516.8"/><path d="M668.2 530.5L715.5 516.8"/></g><g stroke="#686868" stroke-width="2.2"><path d="M840.5 546.8L872 548.6"/><path d="M847.5 593.2L841.3 605.9"/><path d="M788.1 647.8L761.3 632.5"/><path d="M836.8 559.6L855.9 632.1"/></g><g stroke="#333333" stroke-width="2.8"><path d="M840.5 546.8L836.8 559.6"/></g><g stroke="#333333" stroke-width="3.4"><path d="M840.5 546.8L818.3 513.2"/><path d="M797.5 578.3L773.9 567.5"/><path d="M823.1 545.6L818.3 513.2"/></g><g stroke="#000000" stroke-width="4.4"><path d="M695.6 586.6L706.2 542.4"/><path d="M749.2 502L776.4 514.2"/><path d="M715 577.1L727.4 594.6"/><path d="M578.3 607.3L583.6 557.8"/><path d="M636.3 578.6L626.4 545.6"/><path d="M735.8 611.2L714.3 635.1"/></g><g stroke="#000000" stroke-width="3.4"><path d="M646.6 537.5L654.7 574.8"/><path d="M749.2 502L765.6 537.5"/><path d="M654.7 574.8L661.5 610.3"/><path d="M616.9 582.1L583.6 557.8"/><path d="M661.5 610.3L634.1 616.7"/><path d="M613.1 603.1L595.1 574.9"/><path d="M765.6 537.5L773.9 567.5"/></g><g stroke="#181818" stroke-width="2.8"><path d="M759.3 616.5L791.8 641.3"/><path d="M803.4 615.6L803.8 568.9"/><path d="M723.6 635.3L722.6 679.8"/><path d="M680.5 697.4L722.6 679.8"/><path d="M773.9 567.5L749.2 603.2"/><path d="M722.7 545.3L715.5 516.8"/></g><g stroke="#333333" stroke-width="4.4"><path d="M803.4 615.6L776.3 639.2"/><path d="M776.4 514.2L808.8 492.8"/><path d="M751.9 567L737 584.3"/></g><g stroke="#515151" stroke-width="4.4"><path d="M762.7 589.1L761.3 632.5"/><path d="M788.1 647.8L776.3 639.2"/><path d="M814.3 660.2L776.3 639.2"/></g><g stroke="#7e7e7e" stroke-width="4.4"><path d="M877.3 533.2L872 548.6"/><path d="M774.6 682.6L767.4 684.7"/><path d="M797.5 578.3L825.3 623"/></g><g stroke="#515151" stroke-width="3.4"><path d="M797.5 578.3L776.4 514.2"/></g><g stroke="#686868" stroke-width="4.4"><path d="M722.6 679.8L767.4 684.7"/></g><g stroke="#515151" stroke-width="2.2"><path d="M722.7 545.3L737 584.3"/></g><g stroke="#181818" stroke-width="4.4"><path d="M749.2 603.2L751.9 567"/></g><g stroke="#333333" stroke-width="2.2"><path d="M749.2 603.2L737 584.3"/></g><g stroke="#686868" stroke-width="3.4"><path d="M872 548.6L823.1 545.6"/></g><g stroke="#515151" stroke-width="9"><path d="M685 540.4L644.8 622.1"/></g></g></g><g id="v0_2"><g fill="none" stroke-opacity="0.5"><g stroke="#181818" stroke-width="2.8"><path d="M836.8 385.8L819.7 404.1"/><path d="M795.3 472.9L808.8 492.8"/><path d="M762.7 589.1L731.9 541.6"/><path d="M818.7 535.1L822.2 475.7"/></g><g stroke="#515151" stroke-width="2.8"><path d="M836.8 385.8L881.3 410.2"/><path d="M819.7 404.1L881.3 410.2"/></g><g stroke="#000000" stroke-width="2.2"><path d="M713.3 486.7L709.8 484.9"/><path d="M702.8 379.3L686 423.8"/><path d="M738.6 535.2L749.6 549.4"/><path d="M738.6 535.2L706.2 542.4"/><path d="M646.6 537.5L666.1 554.1"/><path d="M628.1 476.8L661.7 458.1"/><path d="M630.3 383.8L599.3 436.2"/><path d="M741.3 407.6L710.1 424"/><path d="M749.1 358.3L729 411.8"/><path d="M590.5 470.7L570.2 466.6"/><path d="M671.1 439.9L633.4 466.5"/><path d="M767.6 477L769.6 427.8"/><path d="M709.8 484.9L732.6 451.8"/><path d="M767.6 491.1L793.2 496.4"/><path d="M769.6 427.8L751 427.5"/><path d="M697.6 468L684.3 498"/><path d="M613.7 437.5L592.4 461.3"/></g><g stroke="#000000" stroke-width="4.4"><path d="M713.3 486.7L666.4 477.9"/><path d="M631.6 540.1L666.1 554.1"/><path d="M738.6 535.2L740.5 527.8"/><path d="M625.5 516.1L638.4 483.3"/><path d="M628.1 476.8L618.5 442.7"/><path d="M647.2 437.7L638.4 483.3"/><path d="M687.4 412.7L734.6 417.5"/><path d="M741.3 407.6L729 411.8"/><path d="M821.8 500L818.3 513.2"/></g><g stroke="#000000" stroke-width="2.8"><path d="M713.3 486.7L697.6 468"/><path d="M795.3 472.9L771.6 448.9"/><path d="M631.6 540.1L630.8 499.9"/><path d="M646.6 537.5L625.5 516.1"/><path d="M790.6 389.9L819.7 404.1"/><path d="M715.5 445.5L697.6 468"/><path d="M715.5 445.5L729 411.8"/><path d="M628.1 476.8L630.8 499.9"/><path d="M628.1 476.8L613.7 437.5"/><path d="M647.2 437.7L602.4 444.9"/><path d="M768.2 452.8L771.6 448.9"/><path d="M747.9 462.7L740.5 527.8"/><path d="M638.4 483.3L684.3 498"/><path d="M590.5 470.7L602.4 444.9"/><path d="M704 480.2L684.3 498"/><path d="M771.6 448.9L808.8 492.8"/><path d="M821.8 500L799.1 445.7"/><path d="M767.6 477L793.2 496.4"/><path d="M709.8 484.9L680.9 478.9"/><path d="M749.6 549.4L778.5 554.6"/><path d="M767.6 491.1L752.9 516.8"/><path d="M769.6 427.8L799.1 445.7"/><path d="M732.6 451.8L734.6 417.5"/><path d="M778.5 554.6L790.9 588.2"/><path d="M778.5 554.6L803.8 568.9"/><path d="M681.7 411.2L729 411.8"/><path d="M602.4 444.9L613.7 437.5"/></g><g stroke="#000000" stroke-width="3.4"><path d="M631.6 540.1L616.9 582.1"/><path d="M631.6 540.1L583.6 557.8"/><path d="M738.6 535.2L778.5 554.6"/><path d="M749.2 502L732.6 451.8"/><path d="M715.5 445.5L681.7 411.2"/><path d="M628.1 476.8L592.4 461.3"/><path d="M694.9 528.8L680.1 491.3"/><path d="M666.1 554.1L706.2 542.4"/><path d="M666.1 554.1L684.3 498"/><path d="M747.9 462.7L751 427.5"/><path d="M552.8 445.5L570.1 496.2"/><path d="M741.3 407.6L769.6 427.8"/><path d="M661.7 458.1L680.1 491.3"/><path d="M770.9 551.2L767.6 491.1"/><path d="M731.9 541.6L710.7 496.9"/><path d="M661.5 343.8L686.1 363.1"/><path d="M704 480.2L697.6 468"/><path d="M671.1 439.9L681.7 411.2"/><path d="M634 497.3L666.4 477.9"/><path d="M634 497.3L633.4 466.5"/><path d="M634 497.3L614.8 529.8"/><path d="M570.1 496.2L570.2 466.6"/><path d="M646.8 445.5L686 423.8"/><path d="M599.3 436.2L599.4 396.4"/><path d="M734.6 417.5L686 423.8"/></g><g stroke="#515151" stroke-width="3.4"><path d="M862.9 529.2L849.6 492.4"/></g><g stroke="#333333" stroke-width="3.4"><path d="M791.9 511.7L812 544.5"/></g><g stroke="#686868" stroke-width="2.2"><path d="M784.5 493.4L771 513.1"/></g><g stroke="#333333" stroke-width="2.2"><path d="M762.7 589.1L812 544.5"/><path d="M762.7 589.1L790.9 588.2"/><path d="M821.8 500L860.5 475.7"/></g><g stroke="#515151" stroke-width="2.2"><path d="M762.7 589.1L762.5 576.5"/><path d="M860.5 475.7L857 436.2"/></g><g stroke="#181818" stroke-width="4.4"><path d="M687.4 412.7L686.1 363.1"/><path d="M822.2 475.7L849.6 492.4"/></g><g stroke="#686868" stroke-width="2.8"><path d="M877.3 533.2L860.5 475.7"/><path d="M860.5 475.7L881.3 410.2"/></g><g stroke="#181818" stroke-width="2.2"><path d="M818.7 535.1L849.6 492.4"/><path d="M818.7 535.1L803.8 568.9"/></g><g stroke="#333333" stroke-width="4.4"><path d="M819.7 404.1L857 436.2"/></g><g stroke="#7e7e7e" stroke-width="2.2"><path d="M891.8 432.8L900.1 394.8"/></g><g stroke="#7e7e7e" stroke-width="2.8"><path d="M900.1 394.8L881.3 410.2"/></g><g stroke="#686868" stroke-width="3.4"><path d="M881.3 410.2L857 436.2"/></g></g></g><g id="v0_9"><g fill="none" stroke-opacity="0.5"><g stroke="#ffffff" stroke-width="2.8"><path d="M758.5 1290.6L748.6 1256.7"/><path d="M763.4 1223.2L803.9 1244.9"/><path d="M681 1181L700 1221.7"/><path d="M724.5 1125.5L707.9 1146.6"/><path d="M830.3 1159.9L841.2 1161.9"/><path d="M830.3 1159.9L840.3 1120.5"/><path d="M763.9 1290.6L748.6 1256.7"/><path d="M678.1 1243.6L644.9 1250.2"/><path d="M678.1 1243.6L700 1221.7"/><path d="M678.1 1243.6L657.1 1229.3"/><path d="M678.1 1243.6L681.1 1284"/><path d="M678.1 1243.6L699.5 1266"/><path d="M829.8 1198.5L834.9 1177.3"/><path d="M830.1 1223L826.4 1257"/><path d="M738.1 1182.5L732.9 1220.7"/><path d="M738.1 1182.5L778.7 1189.5"/><path d="M685.8 1106.3L703.8 1142.3"/><path d="M764 1159.1L741.4 1142.5"/><path d="M626.8 1303.6L645.9 1268.4"/><path d="M785.5 1178.7L778.7 1189.5"/><path d="M826.4 1257L851.5 1212.9"/><path d="M826.4 1257L793.9 1256.4"/><path d="M732.9 1220.7L728.8 1205.4"/><path d="M739.8 1240.3L729.9 1276"/><path d="M834.9 1177.3L825.1 1209.1"/><path d="M795.5 1310.3L782.5 1279.9"/><path d="M645.9 1268.4L681.1 1284"/><path d="M748.6 1256.7L782.5 1279.9"/><path d="M589.1 1245.3L557.4 1266.6"/><path d="M589.1 1245.3L563.8 1209"/><path d="M825.1 1209.1L851.5 1212.9"/><path d="M654.9 1162.8L658.9 1206"/><path d="M719.7 1083L719.2 1129.6"/><path d="M725.6 1180.6L703.8 1142.3"/></g><g stroke="#ffffff" stroke-width="3.4"><path d="M758.5 1290.6L782.5 1279.9"/><path d="M681 1181L719.5 1167"/><path d="M724.5 1125.5L719.2 1129.6"/><path d="M683.5 1142.5L685.8 1106.3"/><path d="M814.5 1241.7L846.4 1247.6"/><path d="M674.8 1070.5L685.8 1106.3"/><path d="M674.8 1070.5L719.7 1083"/><path d="M659 1164.9L682.1 1113.3"/><path d="M830.3 1159.9L834.9 1177.3"/><path d="M652.4 1166.8L657.1 1229.3"/><path d="M652.4 1166.8L654.9 1162.8"/><path d="M763.9 1290.6L782.5 1279.9"/><path d="M790.5 1165.7L792.5 1182.4"/><path d="M790.5 1165.7L797.2 1178.5"/><path d="M792.5 1182.4L825.1 1209.1"/><path d="M829.8 1198.5L797.2 1178.5"/><path d="M830.1 1223L851.5 1212.9"/><path d="M749.5 1150.7L719.5 1167"/><path d="M626.8 1303.6L626.9 1230.2"/><path d="M785.5 1178.7L802.1 1136.1"/><path d="M732.9 1220.7L779.8 1220.3"/><path d="M644.9 1250.2L626.9 1230.2"/><path d="M739.8 1240.3L728.8 1205.4"/><path d="M739.8 1240.3L759 1286.7"/><path d="M741.4 1142.5L719.2 1129.6"/><path d="M684.4 1266.3L645.9 1268.4"/><path d="M583 1204.9L589.1 1245.3"/><path d="M583 1204.9L607.8 1188.2"/><path d="M852.8 1219.3L825.1 1209.1"/><path d="M623.2 1133.4L654.9 1162.8"/><path d="M591.9 1239L557.4 1266.6"/><path d="M706 1192.1L725.6 1180.6"/><path d="M706 1192.1L717.5 1229"/><path d="M734.7 1231.9L779.1 1247"/><path d="M657.1 1229.3L699.5 1266"/><path d="M589.1 1245.3L607.8 1188.2"/><path d="M759 1286.7L729.9 1276"/><path d="M681.1 1284L729.9 1276"/></g><g stroke="#ffffff" stroke-width="2.2"><path d="M763.4 1223.2L792.5 1182.4"/><path d="M763.4 1223.2L739.8 1240.3"/><path d="M681 1181L728.8 1205.4"/><path d="M683.5 1142.5L719.2 1129.6"/><path d="M830.3 1159.9L792.5 1182.4"/><path d="M790.5 1165.7L764 1159.1"/><path d="M846.4 1247.6L851.5 1212.9"/><path d="M700 1221.7L717.5 1229"/><path d="M841.2 1161.9L851.5 1212.9"/><path d="M748.6 1256.7L779.1 1247"/><path d="M797.2 1178.5L794 1116.3"/><path d="M817 1109L794 1116.3"/><path d="M707.9 1146.6L719.2 1129.6"/></g><g stroke="#ffffff" stroke-width="4.4"><path d="M681 1181L662.9 1213.4"/><path d="M683.5 1142.5L659 1164.9"/><path d="M814.5 1241.7L803.9 1244.9"/><path d="M662.4 1129.5L654.9 1162.8"/><path d="M732.9 1220.7L739.8 1240.3"/><path d="M779.1 1247L782.5 1279.9"/><path d="M682.1 1113.3L703.8 1142.3"/><path d="M778.7 1189.5L779.8 1220.3"/></g><g stroke="#f5f5f5" stroke-width="4.4"><path d="M583 1204.9L612.1 1193.6"/></g><g stroke="#f5f5f5" stroke-width="3.4"><path d="M583 1204.9L563.8 1209"/><path d="M626.9 1230.2L591.9 1239"/><path d="M626.9 1230.2L632 1192.4"/></g><g stroke="#e9e9e9" stroke-width="2.8"><path d="M576.1 1164.2L612.1 1193.6"/><path d="M576.1 1164.2L563.8 1209"/><path d="M563.8 1209L548.8 1188.3"/></g><g stroke="#d9d9d9" stroke-width="2.8"><path d="M576.1 1164.2L548.8 1188.3"/></g><g stroke="#f5f5f5" stroke-width="2.8"><path d="M591.9 1239L612.1 1193.6"/></g></g></g><g id="v0_10"><g fill="none" stroke-opacity="0.5"><g stroke="#ffffff" stroke-width="4.4"><path d="M681.1 1284L699.5 1266"/></g></g></g><g id="v1_8"><g fill="none" stroke-opacity="0.5"><g stroke="#181818" stroke-width="3.4"><path d="M592.5 1080.9L587.1 1033.3"/><path d="M798.4 1117.8L763.2 1125.5"/><path d="M798.4 1117.8L792.6 1156.2"/><path d="M765.2 1210.5L761.8 1167.3"/><path d="M763.2 1125.5L761.8 1167.3"/><path d="M726.6 1138L738.3 1095.9"/><path d="M761.8 1167.3L792.6 1156.2"/></g><g stroke="#181818" stroke-width="2.8"><path d="M592.5 1080.9L620.1 1056.3"/><path d="M730.1 989.6L730.7 1012.9"/><path d="M858.5 1068.2L856 1058.9"/></g><g stroke="#333333" stroke-width="2.8"><path d="M592.5 1080.9L547 1122.1"/><path d="M547 1122.1L548.8 1188.3"/></g><g stroke="#000000" stroke-width="3.4"><path d="M674.8 1107.4L722.9 1075.6"/><path d="M674.8 1070.5L648.1 1071.7"/><path d="M742.7 1104.3L712 1122.3"/><path d="M654.6 1084.1L661.9 1127.2"/><path d="M651.6 1165.9L654.9 1155.9"/><path d="M651.6 1165.9L632 1192.4"/><path d="M765.6 1108.3L765.5 1127.8"/><path d="M765.6 1108.3L757.9 1061.4"/><path d="M629.6 1143.6L632 1192.4"/><path d="M700.7 1037.6L733.8 1037.2"/><path d="M700.7 1037.6L669.6 1046.3"/><path d="M704.7 1213.1L734.7 1231.9"/><path d="M704.7 1213.1L748.7 1196.9"/><path d="M823.1 1122L833.7 1087.7"/><path d="M823.1 1122L803.2 1128.3"/><path d="M686.7 1141.3L654.9 1155.9"/><path d="M686.7 1141.3L650.4 1114.7"/><path d="M654.9 1155.9L650.4 1114.7"/><path d="M841.2 1161.9L802.1 1136.1"/><path d="M672.2 1048.5L648.1 1071.7"/><path d="M672.2 1048.5L661.9 1005.1"/><path d="M774.8 1097.4L793.2 1120.4"/><path d="M710.1 1117.8L712 1122.3"/></g><g stroke="#000000" stroke-width="2.8"><path d="M674.8 1107.4L634.6 1113.4"/><path d="M674.8 1107.4L644.3 1095.7"/><path d="M724.5 1125.5L765 1096.1"/><path d="M782.1 1081.9L765.6 1108.3"/><path d="M742.7 1104.3L725 1052.3"/><path d="M685.3 1176.2L686.7 1141.3"/><path d="M654.6 1084.1L649.4 1044.6"/><path d="M654.6 1084.1L620.1 1056.3"/><path d="M651.6 1165.9L661.9 1127.2"/><path d="M651.6 1165.9L629.6 1143.6"/><path d="M765.8 1074.6L774.8 1097.4"/><path d="M721.5 1096.1L738.3 1095.9"/><path d="M721.5 1096.1L710.1 1117.8"/><path d="M604.5 1109.4L650.4 1114.7"/><path d="M722.9 1075.6L700.7 1037.6"/><path d="M722.9 1075.6L733.8 1037.2"/><path d="M759 1041.6L765 1096.1"/><path d="M759 1041.6L730.1 989.6"/><path d="M759 1041.6L789.8 1053.5"/><path d="M685.8 1106.3L648.1 1071.7"/><path d="M715.4 1048.2L696.3 1020.7"/><path d="M765 1096.1L793.2 1120.4"/><path d="M749.5 1150.7L776.6 1154.5"/><path d="M823.1 1122L843.4 1132.7"/><path d="M765.5 1127.8L776.6 1154.5"/><path d="M765.2 1210.5L722.3 1173"/><path d="M763.2 1125.5L792.6 1156.2"/><path d="M843.4 1132.7L803.2 1128.3"/><path d="M856 1058.9L830.1 1089.9"/><path d="M719.5 1167L712 1122.3"/><path d="M649.4 1044.6L669.6 1046.3"/><path d="M649.4 1044.6L613.2 1071.3"/><path d="M840.3 1120.5L793.2 1120.4"/><path d="M840.3 1120.5L817 1109"/><path d="M722.3 1173L748.7 1196.9"/><path d="M669.6 1046.3L633.3 1008.8"/><path d="M778.7 1189.5L776.6 1154.5"/><path d="M870.3 1153.4L881.8 1119.6"/><path d="M644.3 1095.7L613.2 1071.3"/><path d="M613.2 1071.3L599 1056.8"/></g><g stroke="#000000" stroke-width="2.2"><path d="M782.1 1081.9L775.6 1062.2"/><path d="M775.6 1062.2L765.8 1074.6"/><path d="M775.6 1062.2L727.4 1070.8"/><path d="M742.7 1104.3L727.4 1070.8"/><path d="M685.3 1176.2L704.7 1213.1"/><path d="M654.6 1084.1L634.6 1113.4"/><path d="M717.2 1073.2L719.7 1083"/><path d="M611.5 1122.7L634.6 1113.4"/><path d="M826.9 1161.7L823.1 1122"/><path d="M687.2 1212.3L704.7 1213.1"/><path d="M722.9 1075.6L727.4 1070.8"/><path d="M759 1041.6L733.8 1037.2"/><path d="M715.4 1048.2L719.7 1083"/><path d="M765 1096.1L817 1109"/><path d="M629.6 1143.6L619.2 1141.6"/><path d="M765.5 1127.8L803.2 1128.3"/><path d="M858.5 1068.2L830.1 1089.9"/><path d="M808.3 1189.5L792.6 1156.2"/><path d="M789.8 1053.5L766.7 998.5"/><path d="M649.4 1044.6L599 1056.8"/><path d="M648.1 1071.7L635.1 1043.2"/></g><g stroke="#000000" stroke-width="4.4"><path d="M782.1 1081.9L823.1 1122"/><path d="M685.3 1176.2L722.3 1173"/><path d="M826.9 1161.7L808.3 1189.5"/><path d="M726.6 1138L722.3 1173"/><path d="M802.1 1136.1L774.8 1097.4"/></g><g stroke="#181818" stroke-width="2.2"><path d="M587.1 1033.3L599 1056.8"/><path d="M604.5 1109.4L620.9 1094.1"/><path d="M763.2 1125.5L726.6 1138"/><path d="M858.5 1068.2L853.5 1026.1"/><path d="M856 1058.9L853.5 1026.1"/><path d="M696.3 1020.7L730.7 1012.9"/><path d="M633.3 1008.8L635.1 1043.2"/><path d="M650.4 1114.7L620.9 1094.1"/></g><g stroke="#333333" stroke-width="3.4"><path d="M679.9 976.7L730.7 1012.9"/><path d="M768.9 1135.9L761.8 1167.3"/></g><g stroke="#515151" stroke-width="4.4"><path d="M547 1122.1L544.3 1068.4"/></g><g stroke="#333333" stroke-width="2.2"><path d="M547 1122.1L577.2 1131.5"/><path d="M544.3 1068.4L577.2 1131.5"/></g><g stroke="#181818" stroke-width="4.4"><path d="M696.3 1020.7L661.9 1005.1"/></g><g stroke="#181818" stroke-width="13"><path d="M751.2 1083.4L747.5 1148.2"/></g><g stroke="#181818" stroke-width="15"><path d="M650 1068.4L622.5 1148.2"/><path d="M662.5 1083.4L700 1145.9"/></g><g stroke="#000000" stroke-width="20"><path d="M645 1088.4L675 1085.9"/></g><g stroke="#000000" stroke-width="15"><path d="M672.5 1085.9L700 1148.1"/></g><g stroke="#333333" stroke-width="14"><path d="M757.5 1083.4L750 1165.9"/></g></g></g><g id="v1_4"><g fill="none" stroke-opacity="0.5"><g stroke="#ffffff" stroke-width="4.4"><path d="M685.5 790L716.6 763.1"/><path d="M744.2 713.6L778.1 695.5"/><path d="M777.6 649.6L730.1 644.5"/><path d="M818.4 780.1L786.8 790.5"/><path d="M600.5 735.7L649 736.8"/><path d="M819.5 688.1L854.7 701"/><path d="M786.8 790.5L780.2 748.8"/><path d="M664.8 727.4L632.1 707"/><path d="M607 719.6L608.7 727"/><path d="M610.1 651.7L634.1 616.7"/></g><g stroke="#ffffff" stroke-width="2.2"><path d="M685.5 790L694.2 749.2"/><path d="M685.5 790L669.4 772.1"/><path d="M675.5 664.8L701 708"/><path d="M645.7 686.1L610.1 651.7"/><path d="M759.3 616.5L730.1 644.5"/><path d="M892.1 699.2L866.4 646.9"/><path d="M695.6 585.1L682.2 597.2"/><path d="M695.6 585.1L715.6 621.8"/><path d="M680.6 710L659.4 683.4"/><path d="M725.2 658.1L711.4 631.3"/><path d="M715.6 621.8L670.8 643.6"/><path d="M749.2 603.2L766.3 634.4"/><path d="M786.8 790.5L748.9 756.7"/><path d="M784.3 698.4L778.1 695.5"/><path d="M644.7 637.6L669 615.8"/><path d="M607 719.6L648.6 692.8"/><path d="M632.1 707L608.7 727"/><path d="M640.8 794.6L669.4 772.1"/></g><g stroke="#d9d9d9" stroke-width="2.8"><path d="M807.8 707.9L803.9 740.8"/><path d="M694.3 738.2L738.4 709.9"/></g><g stroke="#f5f5f5" stroke-width="4.4"><path d="M645.7 686.1L676.6 707.8"/><path d="M804.8 705.3L794.5 666.8"/></g><g stroke="#ffffff" stroke-width="2.8"><path d="M744.2 713.6L716.6 763.1"/><path d="M650.4 670.6L670.8 643.6"/><path d="M774.7 780.9L786.8 790.5"/><path d="M892.1 699.2L874.6 748.2"/><path d="M892.1 699.2L861.9 717.2"/><path d="M730.1 644.5L694.3 651.4"/><path d="M695.6 585.1L711.4 631.3"/><path d="M695.6 585.1L669 615.8"/><path d="M696.7 617.2L725.2 658.1"/><path d="M696.7 617.2L666 637.5"/><path d="M680.6 710L701 708"/><path d="M568.1 710.5L547.1 642.1"/><path d="M568.1 710.5L608.7 727"/><path d="M716.6 763.1L733.7 815.9"/><path d="M845.5 668.9L861.9 717.2"/><path d="M694.2 749.2L680.5 697.4"/><path d="M694.2 749.2L699.7 708.2"/><path d="M694.2 749.2L669.4 772.1"/><path d="M682.2 597.2L715.6 621.8"/><path d="M682.2 597.2L652.3 584"/><path d="M629.9 662.5L632.1 707"/><path d="M600.5 735.7L575.2 735.6"/><path d="M694.3 651.4L659.4 683.4"/><path d="M652.3 584L644.7 637.6"/><path d="M649 736.8L664.8 727.4"/><path d="M649 736.8L632.1 707"/><path d="M649 736.8L659.4 683.4"/><path d="M866.4 646.9L846.4 621.7"/><path d="M874.6 748.2L854.7 701"/><path d="M582.1 677.3L575.2 735.6"/><path d="M632.1 707L659.4 683.4"/><path d="M685.1 819.4L669.4 772.1"/><path d="M794.5 666.8L789.8 632.8"/><path d="M748.9 756.7L780.2 748.8"/><path d="M846.4 621.7L825.3 623"/></g><g stroke="#f5f5f5" stroke-width="2.8"><path d="M744.2 713.6L749.5 774.1"/><path d="M725.2 658.1L738.4 709.9"/><path d="M672.4 701.2L717.9 699.9"/></g><g stroke="#ffffff" stroke-width="3.4"><path d="M759.3 616.5L777.6 649.6"/><path d="M777.6 649.6L791.8 641.3"/><path d="M577.2 762.5L608.7 727"/><path d="M568.1 710.5L582.1 677.3"/><path d="M845.5 668.9L846.4 621.7"/><path d="M818.4 780.1L824.9 738"/><path d="M790.5 851.2L786.8 790.5"/><path d="M682.2 597.2L670.8 643.6"/><path d="M652.3 584L669 615.8"/><path d="M866.4 646.9L825.3 623"/><path d="M586.7 673.5L607 719.6"/><path d="M778.1 695.5L824.9 738"/><path d="M822.2 658.4L825.3 623"/><path d="M610.1 651.7L659.4 683.4"/><path d="M789.8 632.8L846.4 621.7"/></g><g stroke="#e9e9e9" stroke-width="3.4"><path d="M702.2 757.8L734.6 734.7"/><path d="M782.7 746.9L784.3 698.4"/><path d="M749.5 774.1L719.9 785.7"/><path d="M804.8 705.3L773.2 688.8"/></g><g stroke="#e9e9e9" stroke-width="2.8"><path d="M702.2 757.8L719.9 785.7"/><path d="M674.9 777L649 736.8"/><path d="M740.5 727.1L784.3 698.4"/></g><g stroke="#f5f5f5" stroke-width="3.4"><path d="M716.6 763.1L749.5 774.1"/><path d="M725.2 658.1L717.9 699.9"/><path d="M734.6 734.7L701 708"/></g><g stroke="#f5f5f5" stroke-width="2.2"><path d="M818.4 780.1L793.4 815.2"/><path d="M819.5 688.1L784.3 698.4"/></g><g stroke="#e9e9e9" stroke-width="2.2"><path d="M694.3 738.2L676.6 707.8"/></g><g stroke="#d9d9d9" stroke-width="4.4"><path d="M740.5 727.1L738.4 709.9"/></g><g stroke="#b0b0b0" stroke-width="22"><path d="M721.2 687.1L721.2 780.4"/></g><g stroke="#7e7e7e" stroke-width="12"><path d="M795 650.4L775 715.4"/></g></g></g><g id="v1_5"><g fill="none" stroke-opacity="0.5"><g stroke="#f5f5f5" stroke-width="2.2"><path d="M685.5 790L685.1 819.4"/><path d="M792.1 913.3L790.5 851.2"/><path d="M705 704L698 697.2"/><path d="M790.5 851.2L793.4 815.2"/></g><g stroke="#d9d9d9" stroke-width="3.4"><path d="M617.1 802.9L665.8 790.2"/><path d="M790.3 817.5L819.7 834.1"/><path d="M693.5 835.3L663.8 862.3"/><path d="M735.5 799.9L749.5 774.1"/><path d="M663.6 798.1L650.1 746"/><path d="M703.2 783.6L728.9 771.9"/></g><g stroke="#d9d9d9" stroke-width="2.8"><path d="M617.1 802.9L598.2 854.1"/><path d="M693.5 835.3L719.9 785.7"/><path d="M851.4 786.1L851 755.5"/><path d="M817.7 872.9L819.7 834.1"/><path d="M820.3 768.3L804.8 705.3"/><path d="M765.4 710.5L749.2 750"/><path d="M654.1 829.3L663.8 862.3"/><path d="M657.5 776.9L688.4 772.7"/></g><g stroke="#e9e9e9" stroke-width="4.4"><path d="M617.1 802.9L591.2 820.6"/><path d="M765.4 710.5L773.2 688.8"/><path d="M703.2 783.6L671.6 734.6"/></g><g stroke="#c6c6c6" stroke-width="3.4"><path d="M825.9 789.8L809.2 818.2"/><path d="M825.9 789.8L829.4 783.5"/><path d="M803.9 740.8L786 774.9"/><path d="M665.8 790.2L689.6 767.8"/><path d="M735.5 799.9L719.9 785.7"/><path d="M694.3 738.2L689.6 767.8"/><path d="M694.3 738.2L716.5 760"/><path d="M654.1 829.3L670.5 854.8"/></g><g stroke="#e9e9e9" stroke-width="2.8"><path d="M825.9 789.8L833.7 760.4"/><path d="M693.5 835.3L685.1 819.4"/><path d="M672.4 701.2L676 759.5"/><path d="M710.2 864.6L715.6 844.4"/></g><g stroke="#b0b0b0" stroke-width="3.4"><path d="M790.3 817.5L753.8 834"/><path d="M828.1 864.3L809.9 884.1"/></g><g stroke="#c6c6c6" stroke-width="2.8"><path d="M790.3 817.5L787.5 786.1"/><path d="M779 911.3L817.7 872.9"/><path d="M674.9 777L689.6 767.8"/><path d="M657.5 776.9L695 799.1"/></g><g stroke="#b0b0b0" stroke-width="2.8"><path d="M779 911.3L745.9 873.1"/><path d="M791 768L779.9 807.1"/><path d="M791 768L765.1 778.9"/><path d="M753.8 834L735.5 799.9"/><path d="M809.2 818.2L787.5 786.1"/><path d="M786 774.9L829.4 783.5"/></g><g stroke="#7e7e7e" stroke-width="2.2"><path d="M784.1 813.9L772 777.1"/></g><g stroke="#959595" stroke-width="2.2"><path d="M784.1 813.9L786 774.9"/><path d="M834.5 849L809.2 818.2"/><path d="M753.8 834L758.4 811.9"/><path d="M753.8 834L746.4 868.8"/><path d="M765.1 778.9L772 777.1"/></g><g stroke="#d9d9d9" stroke-width="2.2"><path d="M661.8 891.8L663.8 862.3"/><path d="M702.2 757.8L674.9 777"/><path d="M782.7 746.9L787.5 786.1"/><path d="M833.7 760.4L787.5 786.1"/><path d="M676 759.5L627.6 786.5"/><path d="M728.9 771.9L749.2 750"/><path d="M627.6 786.5L657.5 776.9"/><path d="M829.4 783.5L851 755.5"/></g><g stroke="#e9e9e9" stroke-width="2.2"><path d="M792.1 913.3L762.7 935.1"/><path d="M792.1 913.3L760.1 884.2"/><path d="M605.3 838.1L631.7 869.5"/><path d="M663.8 862.3L625.3 858.4"/><path d="M861.9 717.2L851 755.5"/><path d="M657.5 776.9L650.1 746"/></g><g stroke="#ffffff" stroke-width="3.4"><path d="M650.4 670.6L665.9 684.8"/><path d="M665.9 684.8L698 697.2"/></g><g stroke="#e9e9e9" stroke-width="3.4"><path d="M705 704L717.9 699.9"/><path d="M646.4 798.9L604.6 734.3"/><path d="M715.6 844.4L685.1 819.4"/></g><g stroke="#c6c6c6" stroke-width="2.2"><path d="M851.4 786.1L820.3 768.3"/><path d="M817.7 872.9L809.9 884.1"/><path d="M670.7 808.6L688.4 772.7"/><path d="M663.6 798.1L676 759.5"/><path d="M646.4 798.9L689.6 767.8"/><path d="M765.1 778.9L749.2 750"/><path d="M695 799.1L688.4 772.7"/></g><g stroke="#d9d9d9" stroke-width="4.4"><path d="M851.4 786.1L870.7 829.7"/><path d="M595.7 843L632 844.4"/></g><g stroke="#ffffff" stroke-width="2.2"><path d="M565.1 814.3L572.4 826.7"/><path d="M665.9 684.8L671.6 734.6"/><path d="M698 697.2L671.6 734.6"/></g><g stroke="#ffffff" stroke-width="2.8"><path d="M565.1 814.3L549.7 787.3"/><path d="M600.5 735.7L604.6 734.3"/><path d="M575.2 735.6L549.7 787.3"/></g><g stroke="#c6c6c6" stroke-width="4.4"><path d="M665.8 790.2L646.4 798.9"/><path d="M676 759.5L695 799.1"/></g><g stroke="#f5f5f5" stroke-width="4.4"><path d="M572.4 826.7L605.3 838.1"/><path d="M636.7 752.1L604.6 734.3"/></g><g stroke="#686868" stroke-width="2.8"><path d="M758.4 811.9L750.3 854"/><path d="M746.4 868.8L750.3 854"/></g><g stroke="#959595" stroke-width="3.4"><path d="M743.8 817.7L765.1 778.9"/></g><g stroke="#959595" stroke-width="2.8"><path d="M779.9 807.1L765.1 778.9"/><path d="M716.5 760L730.4 787.7"/><path d="M746.4 868.8L745.9 873.1"/></g><g stroke="#f5f5f5" stroke-width="3.4"><path d="M605.3 838.1L625.3 858.4"/><path d="M733.7 815.9L715.6 844.4"/><path d="M685.1 819.4L640.8 794.6"/></g><g stroke="#000000" stroke-width="20"><path d="M721.2 780.4L721.2 810.4"/></g><g stroke="#000000" stroke-width="17"><path d="M715 833.4L702.5 855.9"/></g><g stroke="#000000" stroke-width="15"><path d="M782.5 733.4L762.5 790.9"/><path d="M762.5 790.9L745 828.4"/></g><g stroke="#7e7e7e" stroke-width="12"><path d="M775 715.4L767.5 780.4"/></g></g></g><g id="v1_7"><g fill="none" stroke-opacity="0.5"><g stroke="#333333" stroke-width="2.8"><path d="M671.4 1058.2L644.5 1029.9"/><path d="M707.5 963.6L751.1 958.1"/><path d="M827.4 1048.5L820.3 998.9"/><path d="M747.8 940.9L730.1 989.6"/><path d="M688 970.1L701.9 967.5"/><path d="M661.9 1005.1L668.6 952.2"/></g><g stroke="#181818" stroke-width="3.4"><path d="M717.3 1005.4L676.8 984"/><path d="M681.6 981.9L676.8 984"/><path d="M681.6 981.9L633.3 1008.8"/><path d="M626.7 1014.6L620.1 1056.3"/></g><g stroke="#000000" stroke-width="2.8"><path d="M717.3 1005.4L701.9 1036.9"/><path d="M782.1 1081.9L777.8 1040.4"/><path d="M803.6 1020.2L777.8 1040.4"/><path d="M777.8 1040.4L757.2 1019.6"/><path d="M757.9 1061.4L725 1052.3"/><path d="M766.7 998.5L720.4 999.7"/><path d="M720.4 999.7L701.9 1036.9"/></g><g stroke="#7e7e7e" stroke-width="2.2"><path d="M722.4 1070.3L747.8 1018.3"/><path d="M650.1 929L628 896.1"/></g><g stroke="#686868" stroke-width="2.2"><path d="M722.4 1070.3L723.7 1093.8"/><path d="M701 889.3L733 922.9"/><path d="M773.3 1018.1L788 1049.6"/></g><g stroke="#7e7e7e" stroke-width="2.8"><path d="M722.4 1070.3L717 1034.9"/><path d="M637.3 991L609.2 1036.3"/><path d="M601.7 1009.9L563.7 993.3"/><path d="M852 978.3L883.3 934.1"/></g><g stroke="#333333" stroke-width="3.4"><path d="M707.5 963.6L676.8 984"/><path d="M587.1 1033.3L626.7 1014.6"/><path d="M773 958.8L767.1 985.3"/><path d="M767.1 985.3L795.7 943.1"/><path d="M733 922.9L751.1 958.1"/><path d="M814.6 991.9L831.9 972.6"/></g><g stroke="#181818" stroke-width="2.8"><path d="M707.5 963.6L720.4 999.7"/><path d="M767.1 985.3L777.8 1040.4"/><path d="M726.9 1000.1L757.2 1019.6"/><path d="M766.7 998.5L751.1 958.1"/></g><g stroke="#181818" stroke-width="4.4"><path d="M681.6 981.9L730.1 989.6"/><path d="M775.9 1077.7L738.3 1095.9"/></g><g stroke="#515151" stroke-width="3.4"><path d="M681.6 981.9L650.1 929"/><path d="M795.8 945.4L795.7 943.1"/><path d="M795.8 945.4L831.9 972.6"/><path d="M679.9 976.7L668.6 952.2"/></g><g stroke="#333333" stroke-width="2.2"><path d="M681.6 981.9L668.6 952.2"/><path d="M677.6 1013.4L644.5 1029.9"/><path d="M803.6 1020.2L820.3 998.9"/><path d="M753.7 1091.5L763.2 1125.5"/><path d="M670.8 957.8L701.9 967.5"/></g><g stroke="#181818" stroke-width="2.2"><path d="M827.4 1048.5L803.6 1020.2"/><path d="M767.1 985.3L741 959.6"/><path d="M775.9 1077.7L798.4 1117.8"/><path d="M741 959.6L726.9 1000.1"/></g><g stroke="#515151" stroke-width="2.8"><path d="M869.2 1016.3L852 978.3"/><path d="M601.7 1009.9L600.7 1065.7"/><path d="M852 978.3L831.9 972.6"/><path d="M747.8 940.9L751.1 958.1"/><path d="M682.9 917.7L680.1 940.1"/><path d="M753.7 1091.5L723.7 1093.8"/><path d="M773.3 1018.1L734.9 1022.8"/><path d="M768.9 1135.9L723.7 1093.8"/></g><g stroke="#000000" stroke-width="3.4"><path d="M782.1 1081.9L757.9 1061.4"/><path d="M775.6 1062.2L777.8 1040.4"/><path d="M725 1052.3L757.2 1019.6"/></g><g stroke="#515151" stroke-width="2.2"><path d="M823.5 942.5L820.3 998.9"/><path d="M644.5 1029.9L601.7 1009.9"/><path d="M688 970.1L673.1 990"/></g><g stroke="#b0b0b0" stroke-width="2.2"><path d="M753.3 1040.8L771.8 1074.1"/></g><g stroke="#959595" stroke-width="2.2"><path d="M753.3 1040.8L717 1034.9"/><path d="M747.8 1018.3L788 1049.6"/><path d="M747.8 1018.3L717 1034.9"/><path d="M665.7 885.5L694.9 903.9"/><path d="M563.7 993.3L611.1 947.9"/></g><g stroke="#686868" stroke-width="3.4"><path d="M679.9 976.7L684.7 932.5"/><path d="M747.8 940.9L694.9 903.9"/><path d="M797.8 1070.1L817.8 1047.3"/><path d="M750.7 990.5L773.3 1018.1"/><path d="M750.7 990.5L734.9 1022.8"/></g><g stroke="#515151" stroke-width="4.4"><path d="M601.7 1009.9L626.7 1014.6"/><path d="M680.1 940.1L670.8 957.8"/></g><g stroke="#333333" stroke-width="4.4"><path d="M775.9 1077.7L753.7 1091.5"/></g><g stroke="#000000" stroke-width="2.2"><path d="M757.9 1061.4L757.2 1019.6"/></g><g stroke="#686868" stroke-width="2.8"><path d="M624.8 946L612.2 970.1"/><path d="M650.1 929L668.6 952.2"/></g><g stroke="#7e7e7e" stroke-width="3.4"><path d="M797.8 1070.1L788 1049.6"/><path d="M612.5 926.3L612.2 970.1"/><path d="M668.6 952.2L676.7 880.6"/></g><g stroke="#686868" stroke-width="4.4"><path d="M600.7 1065.7L609.2 1036.3"/></g><g stroke="#959595" stroke-width="3.4"><path d="M665.7 885.5L684.7 932.5"/><path d="M609.2 1036.3L563.7 993.3"/><path d="M788 1049.6L781.2 1026.3"/></g><g stroke="#b0b0b0" stroke-width="3.4"><path d="M665.7 885.5L676.7 880.6"/></g><g stroke="#959595" stroke-width="2.8"><path d="M694.9 903.9L676.7 880.6"/></g><g stroke="#181818" stroke-width="13"><path d="M755 950.9L761.2 1008.4"/><path d="M761.2 1008.4L751.2 1083.4"/></g><g stroke="#181818" stroke-width="15"><path d="M755 950.9L702.3 1009.8"/><path d="M702.3 1009.8L650 1068.4"/></g></g></g><g id="v1_6"><g fill="none" stroke-opacity="0.5"><g stroke="#959595" stroke-width="3.4"><path d="M799.8 997.7L781.2 1026.3"/><path d="M701 889.3L690.6 860.6"/><path d="M834.5 849L833.6 872.5"/><path d="M707.1 995.1L721.4 976.9"/><path d="M788.1 875.1L828.7 863.2"/><path d="M650.8 886.5L657.4 855"/><path d="M733.1 844.2L726.4 808.6"/><path d="M628 896.1L635.7 896.2"/><path d="M719.5 963.1L721.4 976.9"/><path d="M883.3 934.1L840.7 908.9"/></g><g stroke="#959595" stroke-width="2.8"><path d="M637.3 991L620.8 960.5"/><path d="M683.9 907.7L670.5 854.8"/><path d="M707.1 995.1L719.5 963.1"/><path d="M836.6 894.1L833.9 839.1"/><path d="M691.4 841.3L695 799.1"/><path d="M747.8 1018.3L781.2 1026.3"/><path d="M657.4 855L643.7 875.7"/><path d="M827.9 900.5L849.8 909.1"/><path d="M656.5 842.6L680.6 876.5"/></g><g stroke="#959595" stroke-width="4.4"><path d="M779 911.3L775.5 939.2"/><path d="M683.9 907.7L650.8 886.5"/><path d="M635.7 896.2L643.7 875.7"/><path d="M805.3 824.4L833.9 839.1"/></g><g stroke="#b0b0b0" stroke-width="2.2"><path d="M779 911.3L809.9 884.1"/><path d="M626.5 893.2L650.8 886.5"/><path d="M670.7 808.6L690.6 860.6"/><path d="M879 871.4L833.9 839.1"/><path d="M620.8 960.5L610.8 919.3"/></g><g stroke="#686868" stroke-width="2.8"><path d="M746.2 912.9L714 938.4"/><path d="M746.2 912.9L775.5 939.2"/><path d="M823.5 942.5L806.5 974.2"/><path d="M823.5 942.5L827.9 900.5"/><path d="M733 922.9L753.1 885.5"/></g><g stroke="#7e7e7e" stroke-width="2.8"><path d="M746.2 912.9L714.7 910.3"/><path d="M746.2 912.9L746.4 868.8"/><path d="M714 938.4L714.7 910.3"/><path d="M707.1 995.1L750.7 990.5"/><path d="M705.1 888.6L690.6 860.6"/><path d="M836.6 894.1L833.6 872.5"/><path d="M788.1 875.1L753.1 885.5"/><path d="M792.1 860.2L805.3 824.4"/><path d="M655.2 917L643.7 875.7"/><path d="M822.4 931.8L775.5 939.2"/><path d="M690.6 860.6L680.6 876.5"/><path d="M807.1 866.9L827.9 900.5"/><path d="M657.4 855L669.6 897.2"/></g><g stroke="#686868" stroke-width="2.2"><path d="M746.2 912.9L781.2 892.9"/><path d="M707.4 872.5L691.4 841.3"/><path d="M682.9 917.7L680.6 876.5"/><path d="M705.1 888.6L680.6 876.5"/><path d="M743.8 817.7L737.2 855.5"/></g><g stroke="#515151" stroke-width="2.2"><path d="M714 938.4L732.6 955.6"/><path d="M736.2 844.9L737.2 855.5"/><path d="M733.2 895.8L766.2 899.4"/><path d="M733.2 895.8L737.2 855.5"/><path d="M782 892.9L740.9 896"/><path d="M795.7 943.1L794.6 933.6"/></g><g stroke="#c6c6c6" stroke-width="2.8"><path d="M751.2 964.4L762.5 988.8"/><path d="M733.6 930L717.3 902.2"/></g><g stroke="#e9e9e9" stroke-width="2.2"><path d="M751.2 964.4L762.7 935.1"/></g><g stroke="#d9d9d9" stroke-width="2.8"><path d="M751.2 964.4L759.1 1001.8"/><path d="M703.2 783.6L687.4 819.3"/><path d="M895.9 847.4L880.4 836.7"/><path d="M576.1 897.9L598.2 854.1"/></g><g stroke="#c6c6c6" stroke-width="3.4"><path d="M751.2 964.4L721.4 976.9"/><path d="M762.5 988.8L759.1 1001.8"/><path d="M670.7 808.6L656.5 842.6"/><path d="M879 871.4L895.9 847.4"/></g><g stroke="#515151" stroke-width="3.4"><path d="M773 958.8L806.5 974.2"/><path d="M733.2 895.8L711.6 924.1"/><path d="M682.9 917.7L711.6 924.1"/></g><g stroke="#333333" stroke-width="2.2"><path d="M773 958.8L794.6 933.6"/></g><g stroke="#7e7e7e" stroke-width="3.4"><path d="M834.5 849L807.1 866.9"/><path d="M828.1 864.3L807.1 866.9"/><path d="M833.6 872.5L827.9 900.5"/></g><g stroke="#7e7e7e" stroke-width="4.4"><path d="M834.5 849L827.9 900.5"/></g><g stroke="#b0b0b0" stroke-width="4.4"><path d="M762.5 988.8L747.8 1018.3"/></g><g stroke="#d9d9d9" stroke-width="3.4"><path d="M567.2 912.2L576.1 897.9"/><path d="M598.2 854.1L591.2 820.6"/></g><g stroke="#e9e9e9" stroke-width="3.4"><path d="M567.2 912.2L565.4 869.7"/></g><g stroke="#d9d9d9" stroke-width="2.2"><path d="M567.2 912.2L610.8 919.3"/></g><g stroke="#515151" stroke-width="2.8"><path d="M707.4 872.5L740.9 896"/><path d="M782 892.9L794.6 933.6"/><path d="M705.1 888.6L711.6 924.1"/></g><g stroke="#959595" stroke-width="2.2"><path d="M707.1 995.1L717 1034.9"/><path d="M620.8 960.5L611.1 947.9"/><path d="M612.5 926.3L611.1 947.9"/><path d="M828.7 863.2L840.7 908.9"/></g><g stroke="#d9d9d9" stroke-width="4.4"><path d="M870.7 829.7L895.9 847.4"/></g><g stroke="#b0b0b0" stroke-width="2.8"><path d="M650.8 886.5L670.5 854.8"/><path d="M714.7 910.3L717.3 902.2"/><path d="M620.8 960.5L613.6 961.4"/></g><g stroke="#7e7e7e" stroke-width="2.2"><path d="M650.8 886.5L669.6 897.2"/><path d="M792.1 860.2L828.7 863.2"/><path d="M750.7 990.5L719.5 963.1"/><path d="M691.4 841.3L657.4 855"/><path d="M655.2 917L669.6 897.2"/><path d="M733.1 844.2L753.1 885.5"/></g><g stroke="#b0b0b0" stroke-width="3.4"><path d="M822.4 931.8L809.9 884.1"/><path d="M895.9 847.4L833.6 872.5"/><path d="M690.6 860.6L656.5 842.6"/><path d="M628 896.1L656.5 842.6"/><path d="M635.7 896.2L656.5 842.6"/></g><g stroke="#c6c6c6" stroke-width="2.2"><path d="M576.1 897.9L573.3 942.9"/></g><g stroke="#c6c6c6" stroke-width="4.4"><path d="M728.9 771.9L726.4 808.6"/></g><g stroke="#000000" stroke-width="15"><path d="M702.5 855.9L737.5 890.9"/></g><g stroke="#000000" stroke-width="12"><path d="M737.5 890.9L755 950.9"/></g><g stroke="#000000" stroke-width="16"><path d="M745 828.4L820 893.4"/><path d="M820 893.4L845 925.9"/></g><g stroke="#181818" stroke-width="15"><path d="M820 893.4L755 950.9"/></g></g></g><g id="v1_1"><g fill="none" stroke-opacity="0.5"><g stroke="#ffffff" stroke-width="2.8"><path d="M740.9 340.8L774.4 353.7"/><path d="M740.9 340.8L725.4 399.4"/><path d="M832.2 347.9L790.5 357.7"/><path d="M832.2 347.9L826.1 371.3"/><path d="M761.5 339.7L790.5 357.7"/><path d="M774.4 353.7L831 338.8"/><path d="M723.9 367L741.3 407.6"/><path d="M723.9 367L729 411.8"/><path d="M661 427.2L668 380.8"/><path d="M661 427.2L697.3 424.7"/><path d="M778 408.2L747.9 379.8"/><path d="M778 408.2L798.8 386"/><path d="M713 274.7L759.4 301.7"/><path d="M663 270.4L719.4 289.8"/><path d="M679.6 334L712.5 320.9"/><path d="M668 380.8L638.5 373.5"/><path d="M668 380.8L693 410.5"/><path d="M595.7 332.1L579.3 332.5"/><path d="M595.7 332.1L607.9 304.9"/><path d="M785.8 346.8L782.5 392.7"/><path d="M785.8 346.8L775.7 308.7"/><path d="M629.2 289L647.2 290.4"/><path d="M629.2 289L661.4 351.8"/><path d="M732.9 410.2L798.8 386"/><path d="M851.9 335.4L840.6 326.4"/><path d="M695.1 371.9L638.5 373.5"/><path d="M695.1 371.9L697.3 424.7"/><path d="M656.2 377.1L661.4 351.8"/><path d="M656.2 377.1L599.4 396.4"/><path d="M693 410.5L704.1 368.5"/><path d="M728.1 373.1L704.1 368.5"/><path d="M653.1 407.3L688.2 410.2"/><path d="M653.1 407.3L613.7 437.5"/><path d="M749.1 358.3L730.2 331.1"/><path d="M661.5 343.8L674.3 320.1"/><path d="M844.3 414.4L826.1 371.3"/><path d="M817.7 436.5L820.2 416.3"/><path d="M657.3 312.4L712.5 320.9"/><path d="M582.6 380.7L558.8 402.9"/><path d="M792.6 286.2L745.1 278.8"/><path d="M843.1 313.4L851.1 276.8"/><path d="M704.1 368.5L718.3 310.5"/><path d="M577.1 410L587.1 421.6"/><path d="M672.7 289.7L730.2 331.1"/><path d="M587.1 421.6L613.7 437.5"/><path d="M781.3 352.9L798.8 386"/></g><g stroke="#ffffff" stroke-width="2.2"><path d="M832.2 347.9L851.9 335.4"/><path d="M832.2 347.9L844.3 414.4"/><path d="M774.4 353.7L747.9 379.8"/><path d="M774.4 353.7L781.3 352.9"/><path d="M661 427.2L662.8 452.1"/><path d="M776.6 453.2L745.7 478.1"/><path d="M663 270.4L647.2 290.4"/><path d="M552.8 445.5L587.1 421.6"/><path d="M668 380.8L687.2 334.9"/><path d="M732.9 410.2L697.3 424.7"/><path d="M732.9 410.2L744 448.7"/><path d="M851.9 335.4L885.7 304.1"/><path d="M661.7 458.1L618.5 442.7"/><path d="M719.4 289.8L745.1 278.8"/><path d="M749.1 358.3L755.8 324.8"/><path d="M661.5 343.8L730.2 331.1"/><path d="M579.3 332.5L582.6 380.7"/><path d="M579.3 332.5L617.4 309.6"/><path d="M792.6 286.2L759.4 301.7"/><path d="M792.6 286.2L851.1 276.8"/><path d="M782.5 392.7L751 427.5"/><path d="M782.5 392.7L826.1 371.3"/><path d="M745.1 278.8L759.4 301.7"/><path d="M672.7 289.7L674.3 320.1"/><path d="M818 373.1L820.2 416.3"/></g><g stroke="#ffffff" stroke-width="3.4"><path d="M832.2 347.9L814.3 302.4"/><path d="M702.8 379.3L749.1 358.3"/><path d="M702.8 379.3L730.2 331.1"/><path d="M778 408.2L776.6 453.2"/><path d="M713 274.7L712.5 320.9"/><path d="M713 274.7L745.1 278.8"/><path d="M647.2 437.7L653.1 407.3"/><path d="M663 270.4L657.3 312.4"/><path d="M679.6 334L657.3 312.4"/><path d="M595.7 332.1L599.4 396.4"/><path d="M785.8 346.8L826.1 371.3"/><path d="M630.3 383.8L656.2 377.1"/><path d="M630.3 383.8L599.4 396.4"/><path d="M629.2 289L607.9 304.9"/><path d="M638.5 373.5L582.6 380.7"/><path d="M638.5 373.5L614.8 346.8"/><path d="M661.7 458.1L662.8 452.1"/><path d="M710.1 424L688.2 410.2"/><path d="M814.3 302.4L775.7 308.7"/><path d="M755.8 324.8L745.1 278.8"/><path d="M582.6 380.7L603.4 382.6"/><path d="M747.9 379.8L725.4 399.4"/><path d="M693.3 314.6L718.3 310.5"/><path d="M618.5 442.7L587.1 421.6"/><path d="M618.5 442.7L592.4 461.3"/><path d="M558.8 402.9L587.1 421.6"/><path d="M745.7 478.1L744 448.7"/><path d="M687.2 334.9L715.3 359.6"/></g><g stroke="#ffffff" stroke-width="4.4"><path d="M663 270.4L672.7 289.7"/><path d="M668 380.8L614.8 346.8"/><path d="M668 380.8L715.3 359.6"/><path d="M630.3 383.8L635.6 342.9"/><path d="M851.9 335.4L826.1 371.3"/><path d="M656.2 377.1L635.6 342.9"/><path d="M693 410.5L688.2 410.2"/><path d="M814.3 302.4L843.1 313.4"/><path d="M653.1 407.3L661.4 351.8"/><path d="M755.8 324.8L796 327.7"/><path d="M657.3 312.4L635.6 342.9"/><path d="M792.6 286.2L843.1 313.4"/></g><g stroke="#b0b0b0" stroke-width="22"><path d="M721.2 294.2L721.2 385.5"/></g></g></g><g id="v1_0"><g fill="none" stroke-opacity="0.5"><g stroke="#ffffff" stroke-width="4.4"><path d="M740.9 340.8L781.3 352.9"/><path d="M781.3 352.9L831 338.8"/></g><g stroke="#ffffff" stroke-width="2.8"><path d="M629.2 289L617.4 309.6"/></g><g stroke="#ffffff" stroke-width="3.4"><path d="M840.6 326.4L831 338.8"/></g></g></g><g id="v1_3"><g fill="none" stroke-opacity="0.5"><g stroke="#ffffff" stroke-width="2.8"><path d="M808.4 676L803.4 615.6"/><path d="M808.4 676L803.9 705.8"/><path d="M665.3 555.2L626.4 545.6"/><path d="M862.9 529.2L847.5 593.2"/><path d="M862.9 529.2L877.3 533.2"/><path d="M862.9 529.2L836.8 559.6"/><path d="M840.5 546.8L836.8 559.6"/><path d="M749.4 595.1L770.9 551.2"/><path d="M759.3 616.5L791.8 641.3"/><path d="M759.3 616.5L773.9 567.5"/><path d="M803.4 615.6L803.8 568.9"/><path d="M715 577.1L701.7 543.4"/><path d="M695 614.1L723.6 635.3"/><path d="M695 614.1L683.1 650.9"/><path d="M696.7 617.2L699.1 582.5"/><path d="M727.4 594.6L701.7 543.4"/><path d="M770.9 551.2L780.8 575.1"/><path d="M723.6 635.3L722.6 679.8"/><path d="M633.5 544.6L634 497.3"/><path d="M633.5 544.6L614.8 529.8"/><path d="M680.5 697.4L722.6 679.8"/><path d="M661.5 610.3L613.1 603.1"/><path d="M616.7 658.1L610.5 633.2"/><path d="M616.7 658.1L586.7 673.5"/><path d="M616.7 658.1L648.6 692.8"/><path d="M547.1 642.1L535.4 604.1"/><path d="M773.9 567.5L749.2 603.2"/><path d="M722.7 545.3L715.5 516.8"/><path d="M652.3 584L668.2 530.5"/><path d="M680.9 478.9L668.8 516.8"/><path d="M680.9 478.9L671.3 468.8"/><path d="M636.3 578.6L634.1 616.7"/><path d="M607.6 568L614.8 529.8"/><path d="M671.3 468.8L715.5 516.8"/></g><g stroke="#ffffff" stroke-width="3.4"><path d="M808.4 676L774.6 682.6"/><path d="M808.4 676L788.1 647.8"/><path d="M840.5 546.8L821.8 500"/><path d="M840.5 546.8L818.3 513.2"/><path d="M646.6 537.5L654.7 574.8"/><path d="M749.2 502L765.6 537.5"/><path d="M695 614.1L761.3 632.5"/><path d="M654.7 574.8L661.5 610.3"/><path d="M616.9 582.1L583.6 557.8"/><path d="M661.5 610.3L634.1 616.7"/><path d="M613.1 603.1L595.1 574.9"/><path d="M765.6 537.5L773.9 567.5"/><path d="M797.5 578.3L776.4 514.2"/><path d="M797.5 578.3L773.9 567.5"/><path d="M668.2 530.5L668.8 516.8"/><path d="M668.2 530.5L715.5 516.8"/><path d="M872 548.6L823.1 545.6"/><path d="M823.1 545.6L818.3 513.2"/></g><g stroke="#ffffff" stroke-width="2.2"><path d="M808.4 676L814.3 660.2"/><path d="M665.3 555.2L663.9 535.7"/><path d="M665.3 555.2L668.8 516.8"/><path d="M840.5 546.8L872 548.6"/><path d="M695.6 586.6L666.1 554.1"/><path d="M695.6 586.6L685.3 618.3"/><path d="M749.4 595.1L749.6 549.4"/><path d="M720.7 586.5L695 614.1"/><path d="M666.1 554.1L647 592.1"/><path d="M654.7 574.8L647 592.1"/><path d="M730.1 644.5L714.3 635.1"/><path d="M578.3 607.3L610.5 633.2"/><path d="M847.5 593.2L841.3 605.9"/><path d="M847.5 593.2L855.9 632.1"/><path d="M663.9 535.7L701.7 543.4"/><path d="M663.9 535.7L668.8 516.8"/><path d="M680.5 697.4L683.1 650.9"/><path d="M765.6 537.5L752.9 516.8"/><path d="M722.7 545.3L737 584.3"/><path d="M749.2 603.2L737 584.3"/><path d="M767.4 684.7L788.1 647.8"/><path d="M788.1 647.8L761.3 632.5"/><path d="M836.8 559.6L855.9 632.1"/><path d="M668.8 516.8L671.3 468.8"/></g><g stroke="#ffffff" stroke-width="4.4"><path d="M695.6 586.6L706.2 542.4"/><path d="M749.2 502L776.4 514.2"/><path d="M803.4 615.6L776.3 639.2"/><path d="M715 577.1L727.4 594.6"/><path d="M762.7 589.1L761.3 632.5"/><path d="M578.3 607.3L583.6 557.8"/><path d="M877.3 533.2L872 548.6"/><path d="M774.6 682.6L767.4 684.7"/><path d="M797.5 578.3L825.3 623"/><path d="M722.6 679.8L767.4 684.7"/><path d="M776.4 514.2L808.8 492.8"/><path d="M749.2 603.2L751.9 567"/><path d="M751.9 567L737 584.3"/><path d="M636.3 578.6L626.4 545.6"/><path d="M735.8 611.2L714.3 635.1"/><path d="M788.1 647.8L776.3 639.2"/><path d="M814.3 660.2L776.3 639.2"/></g><g stroke="#b0b0b0" stroke-width="22"><path d="M721.2 495.4L721.2 592.1"/><path d="M721.2 592.1L721.2 687.1"/></g><g stroke="#959595" stroke-width="12"><path d="M810 585.4L795 650.4"/></g></g></g><g id="v1_2"><g fill="none" stroke-opacity="0.5"><g stroke="#ffffff" stroke-width="2.8"><path d="M836.8 385.8L819.7 404.1"/><path d="M836.8 385.8L881.3 410.2"/><path d="M713.3 486.7L697.6 468"/><path d="M795.3 472.9L771.6 448.9"/><path d="M795.3 472.9L808.8 492.8"/><path d="M631.6 540.1L630.8 499.9"/><path d="M646.6 537.5L625.5 516.1"/><path d="M790.6 389.9L819.7 404.1"/><path d="M715.5 445.5L697.6 468"/><path d="M715.5 445.5L729 411.8"/><path d="M628.1 476.8L630.8 499.9"/><path d="M628.1 476.8L613.7 437.5"/><path d="M647.2 437.7L602.4 444.9"/><path d="M768.2 452.8L771.6 448.9"/><path d="M762.7 589.1L731.9 541.6"/><path d="M747.9 462.7L740.5 527.8"/><path d="M638.4 483.3L684.3 498"/><path d="M877.3 533.2L860.5 475.7"/><path d="M590.5 470.7L602.4 444.9"/><path d="M704 480.2L684.3 498"/><path d="M818.7 535.1L822.2 475.7"/><path d="M771.6 448.9L808.8 492.8"/><path d="M819.7 404.1L881.3 410.2"/><path d="M821.8 500L799.1 445.7"/><path d="M767.6 477L793.2 496.4"/><path d="M709.8 484.9L680.9 478.9"/><path d="M749.6 549.4L778.5 554.6"/><path d="M767.6 491.1L752.9 516.8"/><path d="M769.6 427.8L799.1 445.7"/><path d="M732.6 451.8L734.6 417.5"/><path d="M778.5 554.6L790.9 588.2"/><path d="M778.5 554.6L803.8 568.9"/><path d="M860.5 475.7L881.3 410.2"/><path d="M681.7 411.2L729 411.8"/><path d="M602.4 444.9L613.7 437.5"/><path d="M900.1 394.8L881.3 410.2"/></g><g stroke="#ffffff" stroke-width="2.2"><path d="M713.3 486.7L709.8 484.9"/><path d="M702.8 379.3L686 423.8"/><path d="M738.6 535.2L749.6 549.4"/><path d="M738.6 535.2L706.2 542.4"/><path d="M646.6 537.5L666.1 554.1"/><path d="M784.5 493.4L771 513.1"/><path d="M628.1 476.8L661.7 458.1"/><path d="M762.7 589.1L812 544.5"/><path d="M762.7 589.1L790.9 588.2"/><path d="M762.7 589.1L762.5 576.5"/><path d="M630.3 383.8L599.3 436.2"/><path d="M741.3 407.6L710.1 424"/><path d="M749.1 358.3L729 411.8"/><path d="M590.5 470.7L570.2 466.6"/><path d="M818.7 535.1L849.6 492.4"/><path d="M818.7 535.1L803.8 568.9"/><path d="M671.1 439.9L633.4 466.5"/><path d="M821.8 500L860.5 475.7"/><path d="M891.8 432.8L900.1 394.8"/><path d="M767.6 477L769.6 427.8"/><path d="M709.8 484.9L732.6 451.8"/><path d="M767.6 491.1L793.2 496.4"/><path d="M769.6 427.8L751 427.5"/><path d="M860.5 475.7L857 436.2"/><path d="M697.6 468L684.3 498"/><path d="M613.7 437.5L592.4 461.3"/></g><g stroke="#ffffff" stroke-width="4.4"><path d="M713.3 486.7L666.4 477.9"/><path d="M631.6 540.1L666.1 554.1"/><path d="M738.6 535.2L740.5 527.8"/><path d="M625.5 516.1L638.4 483.3"/><path d="M628.1 476.8L618.5 442.7"/><path d="M647.2 437.7L638.4 483.3"/><path d="M687.4 412.7L686.1 363.1"/><path d="M687.4 412.7L734.6 417.5"/><path d="M741.3 407.6L729 411.8"/><path d="M819.7 404.1L857 436.2"/><path d="M821.8 500L818.3 513.2"/><path d="M822.2 475.7L849.6 492.4"/></g><g stroke="#ffffff" stroke-width="3.4"><path d="M631.6 540.1L616.9 582.1"/><path d="M631.6 540.1L583.6 557.8"/><path d="M862.9 529.2L849.6 492.4"/><path d="M738.6 535.2L778.5 554.6"/><path d="M791.9 511.7L812 544.5"/><path d="M749.2 502L732.6 451.8"/><path d="M715.5 445.5L681.7 411.2"/><path d="M628.1 476.8L592.4 461.3"/><path d="M694.9 528.8L680.1 491.3"/><path d="M666.1 554.1L706.2 542.4"/><path d="M666.1 554.1L684.3 498"/><path d="M747.9 462.7L751 427.5"/><path d="M552.8 445.5L570.1 496.2"/><path d="M741.3 407.6L769.6 427.8"/><path d="M661.7 458.1L680.1 491.3"/><path d="M770.9 551.2L767.6 491.1"/><path d="M731.9 541.6L710.7 496.9"/><path d="M661.5 343.8L686.1 363.1"/><path d="M704 480.2L697.6 468"/><path d="M671.1 439.9L681.7 411.2"/><path d="M634 497.3L666.4 477.9"/><path d="M634 497.3L633.4 466.5"/><path d="M634 497.3L614.8 529.8"/><path d="M570.1 496.2L570.2 466.6"/><path d="M646.8 445.5L686 423.8"/><path d="M881.3 410.2L857 436.2"/><path d="M599.3 436.2L599.4 396.4"/><path d="M734.6 417.5L686 423.8"/></g><g stroke="#b0b0b0" stroke-width="22"><path d="M721.2 385.5L721.2 475.4"/></g><g stroke="#7e7e7e" stroke-width="22"><path d="M721.2 475.4L721.2 495.4"/></g></g></g><g id="v1_9"><g fill="none" stroke-opacity="0.5"><g stroke="#000000" stroke-width="2.8"><path d="M758.5 1290.6L748.6 1256.7"/><path d="M763.4 1223.2L803.9 1244.9"/><path d="M681 1181L700 1221.7"/><path d="M724.5 1125.5L707.9 1146.6"/><path d="M830.3 1159.9L841.2 1161.9"/><path d="M830.3 1159.9L840.3 1120.5"/><path d="M763.9 1290.6L748.6 1256.7"/><path d="M678.1 1243.6L644.9 1250.2"/><path d="M678.1 1243.6L700 1221.7"/><path d="M678.1 1243.6L657.1 1229.3"/><path d="M678.1 1243.6L681.1 1284"/><path d="M678.1 1243.6L699.5 1266"/><path d="M829.8 1198.5L834.9 1177.3"/><path d="M830.1 1223L826.4 1257"/><path d="M738.1 1182.5L732.9 1220.7"/><path d="M738.1 1182.5L778.7 1189.5"/><path d="M685.8 1106.3L703.8 1142.3"/><path d="M764 1159.1L741.4 1142.5"/><path d="M626.8 1303.6L645.9 1268.4"/><path d="M785.5 1178.7L778.7 1189.5"/><path d="M826.4 1257L851.5 1212.9"/><path d="M826.4 1257L793.9 1256.4"/><path d="M732.9 1220.7L728.8 1205.4"/><path d="M739.8 1240.3L729.9 1276"/><path d="M834.9 1177.3L825.1 1209.1"/><path d="M576.1 1164.2L612.1 1193.6"/><path d="M576.1 1164.2L563.8 1209"/><path d="M795.5 1310.3L782.5 1279.9"/><path d="M645.9 1268.4L681.1 1284"/><path d="M748.6 1256.7L782.5 1279.9"/><path d="M591.9 1239L612.1 1193.6"/><path d="M825.1 1209.1L851.5 1212.9"/><path d="M654.9 1162.8L658.9 1206"/><path d="M719.7 1083L719.2 1129.6"/><path d="M725.6 1180.6L703.8 1142.3"/></g><g stroke="#000000" stroke-width="3.4"><path d="M758.5 1290.6L782.5 1279.9"/><path d="M681 1181L719.5 1167"/><path d="M724.5 1125.5L719.2 1129.6"/><path d="M683.5 1142.5L685.8 1106.3"/><path d="M814.5 1241.7L846.4 1247.6"/><path d="M674.8 1070.5L685.8 1106.3"/><path d="M674.8 1070.5L719.7 1083"/><path d="M830.3 1159.9L834.9 1177.3"/><path d="M652.4 1166.8L657.1 1229.3"/><path d="M652.4 1166.8L654.9 1162.8"/><path d="M763.9 1290.6L782.5 1279.9"/><path d="M790.5 1165.7L792.5 1182.4"/><path d="M790.5 1165.7L797.2 1178.5"/><path d="M792.5 1182.4L825.1 1209.1"/><path d="M829.8 1198.5L797.2 1178.5"/><path d="M830.1 1223L851.5 1212.9"/><path d="M749.5 1150.7L719.5 1167"/><path d="M626.8 1303.6L626.9 1230.2"/><path d="M785.5 1178.7L802.1 1136.1"/><path d="M732.9 1220.7L779.8 1220.3"/><path d="M644.9 1250.2L626.9 1230.2"/><path d="M739.8 1240.3L728.8 1205.4"/><path d="M739.8 1240.3L759 1286.7"/><path d="M741.4 1142.5L719.2 1129.6"/><path d="M684.4 1266.3L645.9 1268.4"/><path d="M583 1204.9L589.1 1245.3"/><path d="M583 1204.9L607.8 1188.2"/><path d="M583 1204.9L563.8 1209"/><path d="M852.8 1219.3L825.1 1209.1"/><path d="M626.9 1230.2L591.9 1239"/><path d="M626.9 1230.2L632 1192.4"/><path d="M623.2 1133.4L654.9 1162.8"/><path d="M706 1192.1L725.6 1180.6"/><path d="M706 1192.1L717.5 1229"/><path d="M734.7 1231.9L779.1 1247"/><path d="M657.1 1229.3L699.5 1266"/><path d="M589.1 1245.3L607.8 1188.2"/><path d="M759 1286.7L729.9 1276"/><path d="M681.1 1284L729.9 1276"/></g><g stroke="#000000" stroke-width="2.2"><path d="M763.4 1223.2L792.5 1182.4"/><path d="M763.4 1223.2L739.8 1240.3"/><path d="M681 1181L728.8 1205.4"/><path d="M683.5 1142.5L719.2 1129.6"/><path d="M830.3 1159.9L792.5 1182.4"/><path d="M790.5 1165.7L764 1159.1"/><path d="M846.4 1247.6L851.5 1212.9"/><path d="M700 1221.7L717.5 1229"/><path d="M841.2 1161.9L851.5 1212.9"/><path d="M748.6 1256.7L779.1 1247"/><path d="M797.2 1178.5L794 1116.3"/><path d="M817 1109L794 1116.3"/><path d="M707.9 1146.6L719.2 1129.6"/></g><g stroke="#000000" stroke-width="4.4"><path d="M681 1181L662.9 1213.4"/><path d="M683.5 1142.5L659 1164.9"/><path d="M814.5 1241.7L803.9 1244.9"/><path d="M662.4 1129.5L654.9 1162.8"/><path d="M732.9 1220.7L739.8 1240.3"/><path d="M583 1204.9L612.1 1193.6"/><path d="M779.1 1247L782.5 1279.9"/><path d="M778.7 1189.5L779.8 1220.3"/></g><g stroke="#181818" stroke-width="3.4"><path d="M659 1164.9L682.1 1113.3"/><path d="M591.9 1239L557.4 1266.6"/></g><g stroke="#181818" stroke-width="2.8"><path d="M576.1 1164.2L548.8 1188.3"/><path d="M589.1 1245.3L557.4 1266.6"/><path d="M589.1 1245.3L563.8 1209"/><path d="M563.8 1209L548.8 1188.3"/></g><g stroke="#181818" stroke-width="4.4"><path d="M682.1 1113.3L703.8 1142.3"/></g><g stroke="#181818" stroke-width="15"><path d="M700 1145.9L730 1213.4"/><path d="M730 1213.4L728.7 1266.2"/></g></g></g><g id="v1_10"><g fill="none" stroke-opacity="0.5"><g stroke="#000000" stroke-width="4.4"><path d="M681.1 1284L699.5 1266"/></g><g stroke="#181818" stroke-width="15"><path d="M728.7 1266.2L727.5 1318.4"/></g></g></g><g id="v2_8"><g fill="none" stroke-opacity="0.5"><g stroke="#ffffff" stroke-width="3.4"><path d="M592.5 1080.9L587.1 1033.3"/><path d="M674.8 1070.5L648.1 1071.7"/><path d="M679.9 976.7L730.7 1012.9"/><path d="M651.6 1165.9L654.9 1155.9"/><path d="M651.6 1165.9L632 1192.4"/><path d="M629.6 1143.6L632 1192.4"/><path d="M704.7 1213.1L734.7 1231.9"/><path d="M704.7 1213.1L748.7 1196.9"/><path d="M765.2 1210.5L761.8 1167.3"/><path d="M686.7 1141.3L654.9 1155.9"/><path d="M686.7 1141.3L650.4 1114.7"/><path d="M763.2 1125.5L761.8 1167.3"/><path d="M654.9 1155.9L650.4 1114.7"/><path d="M768.9 1135.9L761.8 1167.3"/><path d="M761.8 1167.3L792.6 1156.2"/><path d="M672.2 1048.5L648.1 1071.7"/><path d="M672.2 1048.5L661.9 1005.1"/></g><g stroke="#ffffff" stroke-width="2.8"><path d="M592.5 1080.9L620.1 1056.3"/><path d="M592.5 1080.9L547 1122.1"/><path d="M674.8 1107.4L634.6 1113.4"/><path d="M674.8 1107.4L644.3 1095.7"/><path d="M724.5 1125.5L765 1096.1"/><path d="M685.3 1176.2L686.7 1141.3"/><path d="M654.6 1084.1L620.1 1056.3"/><path d="M651.6 1165.9L661.9 1127.2"/><path d="M651.6 1165.9L629.6 1143.6"/><path d="M604.5 1109.4L650.4 1114.7"/><path d="M685.8 1106.3L648.1 1071.7"/><path d="M715.4 1048.2L696.3 1020.7"/><path d="M730.1 989.6L730.7 1012.9"/><path d="M765.2 1210.5L722.3 1173"/><path d="M649.4 1044.6L669.6 1046.3"/><path d="M649.4 1044.6L613.2 1071.3"/><path d="M547 1122.1L548.8 1188.3"/><path d="M840.3 1120.5L793.2 1120.4"/><path d="M840.3 1120.5L817 1109"/><path d="M722.3 1173L748.7 1196.9"/><path d="M669.6 1046.3L633.3 1008.8"/><path d="M870.3 1153.4L881.8 1119.6"/><path d="M644.3 1095.7L613.2 1071.3"/><path d="M613.2 1071.3L599 1056.8"/></g><g stroke="#e9e9e9" stroke-width="3.4"><path d="M674.8 1107.4L722.9 1075.6"/><path d="M798.4 1117.8L763.2 1125.5"/><path d="M774.8 1097.4L793.2 1120.4"/></g><g stroke="#7e7e7e" stroke-width="2.2"><path d="M782.1 1081.9L775.6 1062.2"/></g><g stroke="#959595" stroke-width="2.8"><path d="M782.1 1081.9L765.6 1108.3"/><path d="M742.7 1104.3L725 1052.3"/></g><g stroke="#b0b0b0" stroke-width="4.4"><path d="M782.1 1081.9L823.1 1122"/></g><g stroke="#ffffff" stroke-width="2.2"><path d="M587.1 1033.3L599 1056.8"/><path d="M685.3 1176.2L704.7 1213.1"/><path d="M654.6 1084.1L634.6 1113.4"/><path d="M717.2 1073.2L719.7 1083"/><path d="M611.5 1122.7L634.6 1113.4"/><path d="M604.5 1109.4L620.9 1094.1"/><path d="M687.2 1212.3L704.7 1213.1"/><path d="M715.4 1048.2L719.7 1083"/><path d="M765 1096.1L817 1109"/><path d="M629.6 1143.6L619.2 1141.6"/><path d="M808.3 1189.5L792.6 1156.2"/><path d="M649.4 1044.6L599 1056.8"/><path d="M547 1122.1L577.2 1131.5"/><path d="M544.3 1068.4L577.2 1131.5"/><path d="M696.3 1020.7L730.7 1012.9"/><path d="M648.1 1071.7L635.1 1043.2"/><path d="M633.3 1008.8L635.1 1043.2"/><path d="M650.4 1114.7L620.9 1094.1"/></g><g stroke="#959595" stroke-width="2.2"><path d="M775.6 1062.2L765.8 1074.6"/><path d="M775.6 1062.2L727.4 1070.8"/></g><g stroke="#b0b0b0" stroke-width="2.2"><path d="M742.7 1104.3L727.4 1070.8"/></g><g stroke="#c6c6c6" stroke-width="3.4"><path d="M742.7 1104.3L712 1122.3"/><path d="M765.6 1108.3L765.5 1127.8"/><path d="M823.1 1122L833.7 1087.7"/></g><g stroke="#ffffff" stroke-width="4.4"><path d="M685.3 1176.2L722.3 1173"/><path d="M826.9 1161.7L808.3 1189.5"/><path d="M726.6 1138L722.3 1173"/><path d="M547 1122.1L544.3 1068.4"/><path d="M696.3 1020.7L661.9 1005.1"/></g><g stroke="#f5f5f5" stroke-width="3.4"><path d="M654.6 1084.1L661.9 1127.2"/><path d="M700.7 1037.6L669.6 1046.3"/><path d="M798.4 1117.8L792.6 1156.2"/><path d="M726.6 1138L738.3 1095.9"/><path d="M841.2 1161.9L802.1 1136.1"/></g><g stroke="#f5f5f5" stroke-width="2.8"><path d="M654.6 1084.1L649.4 1044.6"/><path d="M759 1041.6L765 1096.1"/><path d="M759 1041.6L730.1 989.6"/><path d="M765 1096.1L793.2 1120.4"/><path d="M763.2 1125.5L792.6 1156.2"/><path d="M778.7 1189.5L776.6 1154.5"/></g><g stroke="#c6c6c6" stroke-width="2.8"><path d="M765.8 1074.6L774.8 1097.4"/><path d="M721.5 1096.1L738.3 1095.9"/><path d="M721.5 1096.1L710.1 1117.8"/></g><g stroke="#959595" stroke-width="3.4"><path d="M765.6 1108.3L757.9 1061.4"/></g><g stroke="#e9e9e9" stroke-width="2.2"><path d="M826.9 1161.7L823.1 1122"/><path d="M759 1041.6L733.8 1037.2"/><path d="M858.5 1068.2L853.5 1026.1"/></g><g stroke="#d9d9d9" stroke-width="2.8"><path d="M722.9 1075.6L700.7 1037.6"/><path d="M722.9 1075.6L733.8 1037.2"/><path d="M765.5 1127.8L776.6 1154.5"/><path d="M843.4 1132.7L803.2 1128.3"/></g><g stroke="#c6c6c6" stroke-width="2.2"><path d="M722.9 1075.6L727.4 1070.8"/><path d="M765.5 1127.8L803.2 1128.3"/></g><g stroke="#e9e9e9" stroke-width="2.8"><path d="M759 1041.6L789.8 1053.5"/><path d="M749.5 1150.7L776.6 1154.5"/><path d="M823.1 1122L843.4 1132.7"/><path d="M858.5 1068.2L856 1058.9"/><path d="M856 1058.9L830.1 1089.9"/><path d="M719.5 1167L712 1122.3"/></g><g stroke="#d9d9d9" stroke-width="3.4"><path d="M700.7 1037.6L733.8 1037.2"/><path d="M823.1 1122L803.2 1128.3"/><path d="M710.1 1117.8L712 1122.3"/></g><g stroke="#f5f5f5" stroke-width="2.2"><path d="M763.2 1125.5L726.6 1138"/><path d="M856 1058.9L853.5 1026.1"/></g><g stroke="#d9d9d9" stroke-width="2.2"><path d="M858.5 1068.2L830.1 1089.9"/><path d="M789.8 1053.5L766.7 998.5"/></g><g stroke="#d9d9d9" stroke-width="4.4"><path d="M802.1 1136.1L774.8 1097.4"/></g></g></g><g id="v2_4"><g fill="none" stroke-opacity="0.5"><g stroke="#ffffff" stroke-width="4.4"><path d="M685.5 790L716.6 763.1"/><path d="M645.7 686.1L676.6 707.8"/><path d="M744.2 713.6L778.1 695.5"/><path d="M777.6 649.6L730.1 644.5"/><path d="M818.4 780.1L786.8 790.5"/><path d="M740.5 727.1L738.4 709.9"/><path d="M600.5 735.7L649 736.8"/><path d="M819.5 688.1L854.7 701"/><path d="M786.8 790.5L780.2 748.8"/><path d="M664.8 727.4L632.1 707"/><path d="M607 719.6L608.7 727"/><path d="M610.1 651.7L634.1 616.7"/><path d="M804.8 705.3L794.5 666.8"/></g><g stroke="#ffffff" stroke-width="2.2"><path d="M685.5 790L694.2 749.2"/><path d="M685.5 790L669.4 772.1"/><path d="M675.5 664.8L701 708"/><path d="M645.7 686.1L610.1 651.7"/><path d="M759.3 616.5L730.1 644.5"/><path d="M892.1 699.2L866.4 646.9"/><path d="M695.6 585.1L682.2 597.2"/><path d="M695.6 585.1L715.6 621.8"/><path d="M680.6 710L659.4 683.4"/><path d="M725.2 658.1L711.4 631.3"/><path d="M818.4 780.1L793.4 815.2"/><path d="M715.6 621.8L670.8 643.6"/><path d="M694.3 738.2L676.6 707.8"/><path d="M819.5 688.1L784.3 698.4"/><path d="M749.2 603.2L766.3 634.4"/><path d="M786.8 790.5L748.9 756.7"/><path d="M784.3 698.4L778.1 695.5"/><path d="M644.7 637.6L669 615.8"/><path d="M607 719.6L648.6 692.8"/><path d="M632.1 707L608.7 727"/><path d="M640.8 794.6L669.4 772.1"/></g><g stroke="#ffffff" stroke-width="2.8"><path d="M807.8 707.9L803.9 740.8"/><path d="M744.2 713.6L716.6 763.1"/><path d="M744.2 713.6L749.5 774.1"/><path d="M650.4 670.6L670.8 643.6"/><path d="M774.7 780.9L786.8 790.5"/><path d="M702.2 757.8L719.9 785.7"/><path d="M674.9 777L649 736.8"/><path d="M892.1 699.2L874.6 748.2"/><path d="M892.1 699.2L861.9 717.2"/><path d="M730.1 644.5L694.3 651.4"/><path d="M695.6 585.1L711.4 631.3"/><path d="M695.6 585.1L669 615.8"/><path d="M696.7 617.2L725.2 658.1"/><path d="M696.7 617.2L666 637.5"/><path d="M680.6 710L701 708"/><path d="M568.1 710.5L547.1 642.1"/><path d="M568.1 710.5L608.7 727"/><path d="M716.6 763.1L733.7 815.9"/><path d="M725.2 658.1L738.4 709.9"/><path d="M845.5 668.9L861.9 717.2"/><path d="M694.2 749.2L680.5 697.4"/><path d="M694.2 749.2L699.7 708.2"/><path d="M694.2 749.2L669.4 772.1"/><path d="M682.2 597.2L715.6 621.8"/><path d="M682.2 597.2L652.3 584"/><path d="M672.4 701.2L717.9 699.9"/><path d="M694.3 738.2L738.4 709.9"/><path d="M740.5 727.1L784.3 698.4"/><path d="M629.9 662.5L632.1 707"/><path d="M600.5 735.7L575.2 735.6"/><path d="M694.3 651.4L659.4 683.4"/><path d="M652.3 584L644.7 637.6"/><path d="M649 736.8L664.8 727.4"/><path d="M649 736.8L632.1 707"/><path d="M649 736.8L659.4 683.4"/><path d="M866.4 646.9L846.4 621.7"/><path d="M874.6 748.2L854.7 701"/><path d="M582.1 677.3L575.2 735.6"/><path d="M632.1 707L659.4 683.4"/><path d="M685.1 819.4L669.4 772.1"/><path d="M794.5 666.8L789.8 632.8"/><path d="M748.9 756.7L780.2 748.8"/><path d="M846.4 621.7L825.3 623"/></g><g stroke="#ffffff" stroke-width="3.4"><path d="M759.3 616.5L777.6 649.6"/><path d="M777.6 649.6L791.8 641.3"/><path d="M702.2 757.8L734.6 734.7"/><path d="M782.7 746.9L784.3 698.4"/><path d="M577.2 762.5L608.7 727"/><path d="M568.1 710.5L582.1 677.3"/><path d="M716.6 763.1L749.5 774.1"/><path d="M725.2 658.1L717.9 699.9"/><path d="M845.5 668.9L846.4 621.7"/><path d="M818.4 780.1L824.9 738"/><path d="M790.5 851.2L786.8 790.5"/><path d="M682.2 597.2L670.8 643.6"/><path d="M734.6 734.7L701 708"/><path d="M652.3 584L669 615.8"/><path d="M866.4 646.9L825.3 623"/><path d="M586.7 673.5L607 719.6"/><path d="M778.1 695.5L824.9 738"/><path d="M749.5 774.1L719.9 785.7"/><path d="M822.2 658.4L825.3 623"/><path d="M610.1 651.7L659.4 683.4"/><path d="M804.8 705.3L773.2 688.8"/><path d="M789.8 632.8L846.4 621.7"/></g><g stroke="#e9e9e9" stroke-width="22"><path d="M721.2 686.6L721.2 780.4"/></g></g></g><g id="v2_5"><g fill="none" stroke-opacity="0.5"><g stroke="#ffffff" stroke-width="2.2"><path d="M685.5 790L685.1 819.4"/><path d="M661.8 891.8L663.8 862.3"/><path d="M792.1 913.3L762.7 935.1"/><path d="M792.1 913.3L760.1 884.2"/><path d="M792.1 913.3L790.5 851.2"/><path d="M702.2 757.8L674.9 777"/><path d="M705 704L698 697.2"/><path d="M851.4 786.1L820.3 768.3"/><path d="M565.1 814.3L572.4 826.7"/><path d="M790.5 851.2L793.4 815.2"/><path d="M670.7 808.6L688.4 772.7"/><path d="M663.6 798.1L676 759.5"/><path d="M605.3 838.1L631.7 869.5"/><path d="M646.4 798.9L689.6 767.8"/><path d="M765.1 778.9L749.2 750"/><path d="M676 759.5L627.6 786.5"/><path d="M665.9 684.8L671.6 734.6"/><path d="M728.9 771.9L749.2 750"/><path d="M663.8 862.3L625.3 858.4"/><path d="M627.6 786.5L657.5 776.9"/><path d="M861.9 717.2L851 755.5"/><path d="M657.5 776.9L650.1 746"/><path d="M698 697.2L671.6 734.6"/><path d="M695 799.1L688.4 772.7"/></g><g stroke="#ffffff" stroke-width="3.4"><path d="M617.1 802.9L665.8 790.2"/><path d="M693.5 835.3L663.8 862.3"/><path d="M650.4 670.6L665.9 684.8"/><path d="M705 704L717.9 699.9"/><path d="M665.8 790.2L689.6 767.8"/><path d="M735.5 799.9L749.5 774.1"/><path d="M735.5 799.9L719.9 785.7"/><path d="M663.6 798.1L650.1 746"/><path d="M605.3 838.1L625.3 858.4"/><path d="M646.4 798.9L604.6 734.3"/><path d="M694.3 738.2L689.6 767.8"/><path d="M694.3 738.2L716.5 760"/><path d="M703.2 783.6L728.9 771.9"/><path d="M733.7 815.9L715.6 844.4"/><path d="M665.9 684.8L698 697.2"/><path d="M654.1 829.3L670.5 854.8"/><path d="M715.6 844.4L685.1 819.4"/><path d="M685.1 819.4L640.8 794.6"/></g><g stroke="#ffffff" stroke-width="2.8"><path d="M617.1 802.9L598.2 854.1"/><path d="M693.5 835.3L685.1 819.4"/><path d="M693.5 835.3L719.9 785.7"/><path d="M851.4 786.1L851 755.5"/><path d="M674.9 777L689.6 767.8"/><path d="M791 768L779.9 807.1"/><path d="M791 768L765.1 778.9"/><path d="M565.1 814.3L549.7 787.3"/><path d="M820.3 768.3L804.8 705.3"/><path d="M672.4 701.2L676 759.5"/><path d="M765.4 710.5L749.2 750"/><path d="M710.2 864.6L715.6 844.4"/><path d="M600.5 735.7L604.6 734.3"/><path d="M654.1 829.3L663.8 862.3"/><path d="M575.2 735.6L549.7 787.3"/><path d="M716.5 760L730.4 787.7"/><path d="M657.5 776.9L695 799.1"/><path d="M657.5 776.9L688.4 772.7"/></g><g stroke="#ffffff" stroke-width="4.4"><path d="M617.1 802.9L591.2 820.6"/><path d="M595.7 843L632 844.4"/><path d="M665.8 790.2L646.4 798.9"/><path d="M572.4 826.7L605.3 838.1"/><path d="M765.4 710.5L773.2 688.8"/><path d="M703.2 783.6L671.6 734.6"/><path d="M676 759.5L695 799.1"/><path d="M636.7 752.1L604.6 734.3"/></g><g stroke="#d9d9d9" stroke-width="3.4"><path d="M825.9 789.8L809.2 818.2"/><path d="M825.9 789.8L829.4 783.5"/></g><g stroke="#f5f5f5" stroke-width="2.8"><path d="M825.9 789.8L833.7 760.4"/><path d="M817.7 872.9L819.7 834.1"/><path d="M779.9 807.1L765.1 778.9"/></g><g stroke="#e9e9e9" stroke-width="3.4"><path d="M790.3 817.5L753.8 834"/><path d="M803.9 740.8L786 774.9"/></g><g stroke="#e9e9e9" stroke-width="2.8"><path d="M790.3 817.5L787.5 786.1"/><path d="M779 911.3L817.7 872.9"/><path d="M779 911.3L745.9 873.1"/><path d="M753.8 834L735.5 799.9"/><path d="M746.4 868.8L745.9 873.1"/></g><g stroke="#f5f5f5" stroke-width="3.4"><path d="M790.3 817.5L819.7 834.1"/><path d="M743.8 817.7L765.1 778.9"/></g><g stroke="#d9d9d9" stroke-width="2.2"><path d="M784.1 813.9L772 777.1"/><path d="M784.1 813.9L786 774.9"/><path d="M753.8 834L758.4 811.9"/><path d="M753.8 834L746.4 868.8"/><path d="M817.7 872.9L809.9 884.1"/></g><g stroke="#b0b0b0" stroke-width="2.2"><path d="M834.5 849L809.2 818.2"/></g><g stroke="#f5f5f5" stroke-width="4.4"><path d="M851.4 786.1L870.7 829.7"/></g><g stroke="#f5f5f5" stroke-width="2.2"><path d="M782.7 746.9L787.5 786.1"/><path d="M765.1 778.9L772 777.1"/><path d="M829.4 783.5L851 755.5"/></g><g stroke="#d9d9d9" stroke-width="2.8"><path d="M809.2 818.2L787.5 786.1"/><path d="M786 774.9L829.4 783.5"/></g><g stroke="#e9e9e9" stroke-width="2.2"><path d="M833.7 760.4L787.5 786.1"/></g><g stroke="#c6c6c6" stroke-width="2.8"><path d="M758.4 811.9L750.3 854"/><path d="M746.4 868.8L750.3 854"/></g><g stroke="#b0b0b0" stroke-width="3.4"><path d="M828.1 864.3L809.9 884.1"/></g><g stroke="#d9d9d9" stroke-width="20"><path d="M721.2 812.9L721.2 852.9"/></g><g stroke="#686868" stroke-width="13"><path d="M752.5 800.4L830 832.9"/></g><g stroke="#333333" stroke-width="5"><path d="M850 815.4L860 792.9"/><path d="M860 792.9L850 784.1"/><path d="M850 784.1L797.5 760.4"/><path d="M797.5 760.4L767.5 780.4"/><path d="M787.5 805.4L810 769.1"/></g><g stroke="#515151" stroke-width="5"><path d="M767.5 780.4L715 775.4"/></g><g stroke="#686868" stroke-width="5"><path d="M715 775.4L711.2 760.4"/><path d="M711.2 760.4L735 745.4"/></g><g stroke="#686868" stroke-width="4"><path d="M860 792.9L902.5 775.4"/></g><g stroke="#7e7e7e" stroke-width="4"><path d="M902.5 775.4L855 784.1"/></g><g stroke="#333333" stroke-width="6"><path d="M850 815.4L872.5 805.4"/></g></g></g><g id="v2_7"><g fill="none" stroke-opacity="0.5"><g stroke="#f5f5f5" stroke-width="2.8"><path d="M671.4 1058.2L644.5 1029.9"/><path d="M747.8 940.9L751.1 958.1"/><path d="M682.9 917.7L680.1 940.1"/></g><g stroke="#c6c6c6" stroke-width="3.4"><path d="M717.3 1005.4L676.8 984"/><path d="M750.7 990.5L734.9 1022.8"/></g><g stroke="#b0b0b0" stroke-width="2.8"><path d="M717.3 1005.4L701.9 1036.9"/><path d="M773.3 1018.1L734.9 1022.8"/></g><g stroke="#ffffff" stroke-width="2.2"><path d="M722.4 1070.3L747.8 1018.3"/><path d="M722.4 1070.3L723.7 1093.8"/><path d="M701 889.3L733 922.9"/><path d="M681.6 981.9L668.6 952.2"/><path d="M753.3 1040.8L771.8 1074.1"/><path d="M753.3 1040.8L717 1034.9"/><path d="M644.5 1029.9L601.7 1009.9"/><path d="M650.1 929L628 896.1"/><path d="M747.8 1018.3L717 1034.9"/><path d="M665.7 885.5L694.9 903.9"/><path d="M563.7 993.3L611.1 947.9"/></g><g stroke="#ffffff" stroke-width="2.8"><path d="M722.4 1070.3L717 1034.9"/><path d="M637.3 991L609.2 1036.3"/><path d="M601.7 1009.9L600.7 1065.7"/><path d="M601.7 1009.9L563.7 993.3"/><path d="M747.8 940.9L730.1 989.6"/><path d="M753.7 1091.5L723.7 1093.8"/><path d="M624.8 946L612.2 970.1"/><path d="M650.1 929L668.6 952.2"/><path d="M768.9 1135.9L723.7 1093.8"/><path d="M694.9 903.9L676.7 880.6"/><path d="M661.9 1005.1L668.6 952.2"/></g><g stroke="#e9e9e9" stroke-width="3.4"><path d="M707.5 963.6L676.8 984"/></g><g stroke="#d9d9d9" stroke-width="2.8"><path d="M707.5 963.6L720.4 999.7"/><path d="M707.5 963.6L751.1 958.1"/><path d="M852 978.3L883.3 934.1"/></g><g stroke="#f5f5f5" stroke-width="3.4"><path d="M681.6 981.9L676.8 984"/><path d="M797.8 1070.1L788 1049.6"/><path d="M788 1049.6L781.2 1026.3"/></g><g stroke="#ffffff" stroke-width="4.4"><path d="M681.6 981.9L730.1 989.6"/><path d="M601.7 1009.9L626.7 1014.6"/><path d="M600.7 1065.7L609.2 1036.3"/></g><g stroke="#ffffff" stroke-width="3.4"><path d="M681.6 981.9L650.1 929"/><path d="M681.6 981.9L633.3 1008.8"/><path d="M587.1 1033.3L626.7 1014.6"/><path d="M679.9 976.7L668.6 952.2"/><path d="M679.9 976.7L684.7 932.5"/><path d="M747.8 940.9L694.9 903.9"/><path d="M626.7 1014.6L620.1 1056.3"/><path d="M665.7 885.5L684.7 932.5"/><path d="M665.7 885.5L676.7 880.6"/><path d="M609.2 1036.3L563.7 993.3"/><path d="M612.5 926.3L612.2 970.1"/><path d="M668.6 952.2L676.7 880.6"/></g><g stroke="#686868" stroke-width="2.2"><path d="M827.4 1048.5L803.6 1020.2"/><path d="M741 959.6L726.9 1000.1"/><path d="M757.9 1061.4L757.2 1019.6"/></g><g stroke="#686868" stroke-width="2.8"><path d="M827.4 1048.5L820.3 998.9"/><path d="M782.1 1081.9L777.8 1040.4"/><path d="M726.9 1000.1L757.2 1019.6"/></g><g stroke="#c6c6c6" stroke-width="2.8"><path d="M869.2 1016.3L852 978.3"/><path d="M852 978.3L831.9 972.6"/><path d="M688 970.1L701.9 967.5"/><path d="M766.7 998.5L720.4 999.7"/><path d="M766.7 998.5L751.1 958.1"/><path d="M720.4 999.7L701.9 1036.9"/></g><g stroke="#7e7e7e" stroke-width="3.4"><path d="M782.1 1081.9L757.9 1061.4"/></g><g stroke="#333333" stroke-width="3.4"><path d="M773 958.8L767.1 985.3"/></g><g stroke="#686868" stroke-width="3.4"><path d="M775.6 1062.2L777.8 1040.4"/><path d="M725 1052.3L757.2 1019.6"/></g><g stroke="#515151" stroke-width="2.2"><path d="M823.5 942.5L820.3 998.9"/><path d="M767.1 985.3L741 959.6"/><path d="M803.6 1020.2L820.3 998.9"/></g><g stroke="#e9e9e9" stroke-width="2.2"><path d="M677.6 1013.4L644.5 1029.9"/></g><g stroke="#333333" stroke-width="2.8"><path d="M767.1 985.3L777.8 1040.4"/></g><g stroke="#515151" stroke-width="3.4"><path d="M767.1 985.3L795.7 943.1"/></g><g stroke="#515151" stroke-width="2.8"><path d="M803.6 1020.2L777.8 1040.4"/><path d="M777.8 1040.4L757.2 1019.6"/></g><g stroke="#b0b0b0" stroke-width="3.4"><path d="M795.8 945.4L795.7 943.1"/><path d="M750.7 990.5L773.3 1018.1"/></g><g stroke="#d9d9d9" stroke-width="3.4"><path d="M795.8 945.4L831.9 972.6"/><path d="M733 922.9L751.1 958.1"/><path d="M814.6 991.9L831.9 972.6"/><path d="M797.8 1070.1L817.8 1047.3"/></g><g stroke="#d9d9d9" stroke-width="2.2"><path d="M775.9 1077.7L798.4 1117.8"/><path d="M688 970.1L673.1 990"/><path d="M670.8 957.8L701.9 967.5"/><path d="M773.3 1018.1L788 1049.6"/></g><g stroke="#d9d9d9" stroke-width="4.4"><path d="M775.9 1077.7L753.7 1091.5"/></g><g stroke="#c6c6c6" stroke-width="4.4"><path d="M775.9 1077.7L738.3 1095.9"/></g><g stroke="#f5f5f5" stroke-width="2.2"><path d="M753.7 1091.5L763.2 1125.5"/><path d="M747.8 1018.3L788 1049.6"/></g><g stroke="#e9e9e9" stroke-width="4.4"><path d="M680.1 940.1L670.8 957.8"/></g><g stroke="#7e7e7e" stroke-width="2.8"><path d="M757.9 1061.4L725 1052.3"/></g><g stroke="#515151" stroke-width="9"><path d="M860 953.3L857.5 1015.4"/></g><g stroke="#686868" stroke-width="9"><path d="M857.5 1015.4L852.5 1050.4"/></g></g></g><g id="v2_6"><g fill="none" stroke-opacity="0.5"><g stroke="#f5f5f5" stroke-width="3.4"><path d="M799.8 997.7L781.2 1026.3"/><path d="M788.1 875.1L828.7 863.2"/><path d="M879 871.4L895.9 847.4"/></g><g stroke="#ffffff" stroke-width="2.8"><path d="M637.3 991L620.8 960.5"/><path d="M751.2 964.4L762.5 988.8"/><path d="M751.2 964.4L759.1 1001.8"/><path d="M683.9 907.7L670.5 854.8"/><path d="M705.1 888.6L690.6 860.6"/><path d="M650.8 886.5L670.5 854.8"/><path d="M714.7 910.3L717.3 902.2"/><path d="M691.4 841.3L695 799.1"/><path d="M655.2 917L643.7 875.7"/><path d="M733.6 930L717.3 902.2"/><path d="M703.2 783.6L687.4 819.3"/><path d="M576.1 897.9L598.2 854.1"/><path d="M747.8 1018.3L781.2 1026.3"/><path d="M690.6 860.6L680.6 876.5"/><path d="M620.8 960.5L613.6 961.4"/><path d="M657.4 855L669.6 897.2"/><path d="M657.4 855L643.7 875.7"/><path d="M656.5 842.6L680.6 876.5"/></g><g stroke="#ffffff" stroke-width="3.4"><path d="M701 889.3L690.6 860.6"/><path d="M751.2 964.4L721.4 976.9"/><path d="M762.5 988.8L759.1 1001.8"/><path d="M567.2 912.2L576.1 897.9"/><path d="M567.2 912.2L565.4 869.7"/><path d="M707.1 995.1L721.4 976.9"/><path d="M670.7 808.6L656.5 842.6"/><path d="M650.8 886.5L657.4 855"/><path d="M733.1 844.2L726.4 808.6"/><path d="M690.6 860.6L656.5 842.6"/><path d="M628 896.1L635.7 896.2"/><path d="M628 896.1L656.5 842.6"/><path d="M719.5 963.1L721.4 976.9"/><path d="M635.7 896.2L656.5 842.6"/><path d="M598.2 854.1L591.2 820.6"/></g><g stroke="#c6c6c6" stroke-width="4.4"><path d="M779 911.3L775.5 939.2"/><path d="M805.3 824.4L833.9 839.1"/></g><g stroke="#d9d9d9" stroke-width="2.2"><path d="M779 911.3L809.9 884.1"/><path d="M736.2 844.9L737.2 855.5"/><path d="M733.2 895.8L737.2 855.5"/><path d="M792.1 860.2L828.7 863.2"/><path d="M750.7 990.5L719.5 963.1"/></g><g stroke="#b0b0b0" stroke-width="2.8"><path d="M746.2 912.9L714 938.4"/></g><g stroke="#d9d9d9" stroke-width="2.8"><path d="M746.2 912.9L714.7 910.3"/><path d="M714 938.4L714.7 910.3"/></g><g stroke="#959595" stroke-width="2.8"><path d="M746.2 912.9L775.5 939.2"/><path d="M836.6 894.1L833.6 872.5"/><path d="M822.4 931.8L775.5 939.2"/></g><g stroke="#959595" stroke-width="2.2"><path d="M746.2 912.9L781.2 892.9"/></g><g stroke="#c6c6c6" stroke-width="2.8"><path d="M746.2 912.9L746.4 868.8"/><path d="M707.4 872.5L740.9 896"/><path d="M836.6 894.1L833.9 839.1"/><path d="M792.1 860.2L805.3 824.4"/></g><g stroke="#b0b0b0" stroke-width="2.2"><path d="M714 938.4L732.6 955.6"/></g><g stroke="#ffffff" stroke-width="2.2"><path d="M751.2 964.4L762.7 935.1"/><path d="M567.2 912.2L610.8 919.3"/><path d="M626.5 893.2L650.8 886.5"/><path d="M707.1 995.1L717 1034.9"/><path d="M705.1 888.6L680.6 876.5"/><path d="M670.7 808.6L690.6 860.6"/><path d="M650.8 886.5L669.6 897.2"/><path d="M691.4 841.3L657.4 855"/><path d="M655.2 917L669.6 897.2"/><path d="M733.1 844.2L753.1 885.5"/><path d="M576.1 897.9L573.3 942.9"/><path d="M620.8 960.5L610.8 919.3"/><path d="M620.8 960.5L611.1 947.9"/><path d="M612.5 926.3L611.1 947.9"/></g><g stroke="#333333" stroke-width="3.4"><path d="M773 958.8L806.5 974.2"/></g><g stroke="#333333" stroke-width="2.2"><path d="M773 958.8L794.6 933.6"/></g><g stroke="#959595" stroke-width="3.4"><path d="M834.5 849L807.1 866.9"/><path d="M834.5 849L833.6 872.5"/></g><g stroke="#7e7e7e" stroke-width="4.4"><path d="M834.5 849L827.9 900.5"/></g><g stroke="#515151" stroke-width="2.8"><path d="M823.5 942.5L806.5 974.2"/><path d="M782 892.9L794.6 933.6"/></g><g stroke="#686868" stroke-width="2.8"><path d="M823.5 942.5L827.9 900.5"/><path d="M807.1 866.9L827.9 900.5"/></g><g stroke="#ffffff" stroke-width="4.4"><path d="M762.5 988.8L747.8 1018.3"/><path d="M683.9 907.7L650.8 886.5"/><path d="M728.9 771.9L726.4 808.6"/><path d="M635.7 896.2L643.7 875.7"/></g><g stroke="#c6c6c6" stroke-width="2.2"><path d="M733.2 895.8L766.2 899.4"/></g><g stroke="#d9d9d9" stroke-width="3.4"><path d="M733.2 895.8L711.6 924.1"/><path d="M895.9 847.4L833.6 872.5"/></g><g stroke="#f5f5f5" stroke-width="2.2"><path d="M707.4 872.5L691.4 841.3"/><path d="M682.9 917.7L680.6 876.5"/></g><g stroke="#e9e9e9" stroke-width="2.8"><path d="M733 922.9L753.1 885.5"/><path d="M707.1 995.1L750.7 990.5"/><path d="M705.1 888.6L711.6 924.1"/></g><g stroke="#686868" stroke-width="2.2"><path d="M782 892.9L740.9 896"/></g><g stroke="#f5f5f5" stroke-width="2.8"><path d="M707.1 995.1L719.5 963.1"/><path d="M788.1 875.1L753.1 885.5"/><path d="M895.9 847.4L880.4 836.7"/></g><g stroke="#e9e9e9" stroke-width="3.4"><path d="M682.9 917.7L711.6 924.1"/><path d="M883.3 934.1L840.7 908.9"/></g><g stroke="#f5f5f5" stroke-width="4.4"><path d="M870.7 829.7L895.9 847.4"/></g><g stroke="#e9e9e9" stroke-width="2.2"><path d="M743.8 817.7L737.2 855.5"/><path d="M879 871.4L833.9 839.1"/><path d="M828.7 863.2L840.7 908.9"/></g><g stroke="#7e7e7e" stroke-width="3.4"><path d="M828.1 864.3L807.1 866.9"/><path d="M833.6 872.5L827.9 900.5"/></g><g stroke="#b0b0b0" stroke-width="3.4"><path d="M822.4 931.8L809.9 884.1"/></g><g stroke="#515151" stroke-width="2.2"><path d="M795.7 943.1L794.6 933.6"/></g><g stroke="#7e7e7e" stroke-width="2.8"><path d="M827.9 900.5L849.8 909.1"/></g><g stroke="#181818" stroke-width="16"><path d="M737.5 867.9L765 875.4"/></g><g stroke="#333333" stroke-width="13"><path d="M765 875.4L807.5 867.9"/></g><g stroke="#181818" stroke-width="17"><path d="M807.5 867.9L870 887.9"/></g><g stroke="#333333" stroke-width="11"><path d="M765 875.4L797.5 910.4"/></g><g stroke="#515151" stroke-width="9"><path d="M872.5 805.4L862.5 890.4"/><path d="M862.5 890.4L860 953.3"/></g><g stroke="#333333" stroke-width="5"><path d="M807.5 867.9L850 815.4"/></g></g></g><g id="v2_1"><g fill="none" stroke-opacity="0.5"><g stroke="#ffffff" stroke-width="2.8"><path d="M740.9 340.8L774.4 353.7"/><path d="M740.9 340.8L725.4 399.4"/><path d="M832.2 347.9L790.5 357.7"/><path d="M832.2 347.9L826.1 371.3"/><path d="M761.5 339.7L790.5 357.7"/><path d="M774.4 353.7L831 338.8"/><path d="M723.9 367L741.3 407.6"/><path d="M723.9 367L729 411.8"/><path d="M661 427.2L668 380.8"/><path d="M661 427.2L697.3 424.7"/><path d="M778 408.2L747.9 379.8"/><path d="M778 408.2L798.8 386"/><path d="M713 274.7L759.4 301.7"/><path d="M663 270.4L719.4 289.8"/><path d="M679.6 334L712.5 320.9"/><path d="M668 380.8L638.5 373.5"/><path d="M668 380.8L693 410.5"/><path d="M595.7 332.1L579.3 332.5"/><path d="M595.7 332.1L607.9 304.9"/><path d="M785.8 346.8L782.5 392.7"/><path d="M785.8 346.8L775.7 308.7"/><path d="M629.2 289L647.2 290.4"/><path d="M629.2 289L661.4 351.8"/><path d="M732.9 410.2L798.8 386"/><path d="M851.9 335.4L840.6 326.4"/><path d="M695.1 371.9L638.5 373.5"/><path d="M695.1 371.9L697.3 424.7"/><path d="M656.2 377.1L661.4 351.8"/><path d="M656.2 377.1L599.4 396.4"/><path d="M693 410.5L704.1 368.5"/><path d="M728.1 373.1L704.1 368.5"/><path d="M653.1 407.3L688.2 410.2"/><path d="M653.1 407.3L613.7 437.5"/><path d="M749.1 358.3L730.2 331.1"/><path d="M661.5 343.8L674.3 320.1"/><path d="M844.3 414.4L826.1 371.3"/><path d="M817.7 436.5L820.2 416.3"/><path d="M657.3 312.4L712.5 320.9"/><path d="M582.6 380.7L558.8 402.9"/><path d="M792.6 286.2L745.1 278.8"/><path d="M843.1 313.4L851.1 276.8"/><path d="M704.1 368.5L718.3 310.5"/><path d="M577.1 410L587.1 421.6"/><path d="M672.7 289.7L730.2 331.1"/><path d="M587.1 421.6L613.7 437.5"/><path d="M781.3 352.9L798.8 386"/></g><g stroke="#ffffff" stroke-width="2.2"><path d="M832.2 347.9L851.9 335.4"/><path d="M832.2 347.9L844.3 414.4"/><path d="M774.4 353.7L747.9 379.8"/><path d="M774.4 353.7L781.3 352.9"/><path d="M661 427.2L662.8 452.1"/><path d="M776.6 453.2L745.7 478.1"/><path d="M663 270.4L647.2 290.4"/><path d="M552.8 445.5L587.1 421.6"/><path d="M668 380.8L687.2 334.9"/><path d="M732.9 410.2L697.3 424.7"/><path d="M732.9 410.2L744 448.7"/><path d="M851.9 335.4L885.7 304.1"/><path d="M661.7 458.1L618.5 442.7"/><path d="M719.4 289.8L745.1 278.8"/><path d="M749.1 358.3L755.8 324.8"/><path d="M661.5 343.8L730.2 331.1"/><path d="M579.3 332.5L582.6 380.7"/><path d="M579.3 332.5L617.4 309.6"/><path d="M792.6 286.2L759.4 301.7"/><path d="M792.6 286.2L851.1 276.8"/><path d="M782.5 392.7L751 427.5"/><path d="M782.5 392.7L826.1 371.3"/><path d="M745.1 278.8L759.4 301.7"/><path d="M672.7 289.7L674.3 320.1"/><path d="M818 373.1L820.2 416.3"/></g><g stroke="#ffffff" stroke-width="3.4"><path d="M832.2 347.9L814.3 302.4"/><path d="M702.8 379.3L749.1 358.3"/><path d="M702.8 379.3L730.2 331.1"/><path d="M778 408.2L776.6 453.2"/><path d="M713 274.7L712.5 320.9"/><path d="M713 274.7L745.1 278.8"/><path d="M647.2 437.7L653.1 407.3"/><path d="M663 270.4L657.3 312.4"/><path d="M679.6 334L657.3 312.4"/><path d="M595.7 332.1L599.4 396.4"/><path d="M785.8 346.8L826.1 371.3"/><path d="M630.3 383.8L656.2 377.1"/><path d="M630.3 383.8L599.4 396.4"/><path d="M629.2 289L607.9 304.9"/><path d="M638.5 373.5L582.6 380.7"/><path d="M638.5 373.5L614.8 346.8"/><path d="M661.7 458.1L662.8 452.1"/><path d="M710.1 424L688.2 410.2"/><path d="M814.3 302.4L775.7 308.7"/><path d="M755.8 324.8L745.1 278.8"/><path d="M582.6 380.7L603.4 382.6"/><path d="M747.9 379.8L725.4 399.4"/><path d="M693.3 314.6L718.3 310.5"/><path d="M618.5 442.7L587.1 421.6"/><path d="M618.5 442.7L592.4 461.3"/><path d="M558.8 402.9L587.1 421.6"/><path d="M745.7 478.1L744 448.7"/><path d="M687.2 334.9L715.3 359.6"/></g><g stroke="#ffffff" stroke-width="4.4"><path d="M663 270.4L672.7 289.7"/><path d="M668 380.8L614.8 346.8"/><path d="M668 380.8L715.3 359.6"/><path d="M630.3 383.8L635.6 342.9"/><path d="M851.9 335.4L826.1 371.3"/><path d="M656.2 377.1L635.6 342.9"/><path d="M693 410.5L688.2 410.2"/><path d="M814.3 302.4L843.1 313.4"/><path d="M653.1 407.3L661.4 351.8"/><path d="M755.8 324.8L796 327.7"/><path d="M657.3 312.4L635.6 342.9"/><path d="M792.6 286.2L843.1 313.4"/></g><g stroke="#e9e9e9" stroke-width="22"><path d="M721.2 294.2L721.2 394.9"/></g></g></g><g id="v2_0"><g fill="none" stroke-opacity="0.5"><g stroke="#ffffff" stroke-width="4.4"><path d="M740.9 340.8L781.3 352.9"/><path d="M781.3 352.9L831 338.8"/></g><g stroke="#ffffff" stroke-width="2.8"><path d="M629.2 289L617.4 309.6"/></g><g stroke="#ffffff" stroke-width="3.4"><path d="M840.6 326.4L831 338.8"/></g></g></g><g id="v2_3"><g fill="none" stroke-opacity="0.5"><g stroke="#ffffff" stroke-width="2.8"><path d="M808.4 676L803.4 615.6"/><path d="M808.4 676L803.9 705.8"/><path d="M665.3 555.2L626.4 545.6"/><path d="M862.9 529.2L847.5 593.2"/><path d="M862.9 529.2L877.3 533.2"/><path d="M862.9 529.2L836.8 559.6"/><path d="M840.5 546.8L836.8 559.6"/><path d="M749.4 595.1L770.9 551.2"/><path d="M759.3 616.5L791.8 641.3"/><path d="M759.3 616.5L773.9 567.5"/><path d="M803.4 615.6L803.8 568.9"/><path d="M715 577.1L701.7 543.4"/><path d="M695 614.1L723.6 635.3"/><path d="M695 614.1L683.1 650.9"/><path d="M696.7 617.2L699.1 582.5"/><path d="M727.4 594.6L701.7 543.4"/><path d="M770.9 551.2L780.8 575.1"/><path d="M723.6 635.3L722.6 679.8"/><path d="M633.5 544.6L634 497.3"/><path d="M633.5 544.6L614.8 529.8"/><path d="M680.5 697.4L722.6 679.8"/><path d="M661.5 610.3L613.1 603.1"/><path d="M616.7 658.1L610.5 633.2"/><path d="M616.7 658.1L586.7 673.5"/><path d="M616.7 658.1L648.6 692.8"/><path d="M547.1 642.1L535.4 604.1"/><path d="M773.9 567.5L749.2 603.2"/><path d="M722.7 545.3L715.5 516.8"/><path d="M652.3 584L668.2 530.5"/><path d="M680.9 478.9L668.8 516.8"/><path d="M680.9 478.9L671.3 468.8"/><path d="M636.3 578.6L634.1 616.7"/><path d="M607.6 568L614.8 529.8"/><path d="M671.3 468.8L715.5 516.8"/></g><g stroke="#ffffff" stroke-width="3.4"><path d="M808.4 676L774.6 682.6"/><path d="M808.4 676L788.1 647.8"/><path d="M840.5 546.8L821.8 500"/><path d="M840.5 546.8L818.3 513.2"/><path d="M646.6 537.5L654.7 574.8"/><path d="M749.2 502L765.6 537.5"/><path d="M695 614.1L761.3 632.5"/><path d="M654.7 574.8L661.5 610.3"/><path d="M616.9 582.1L583.6 557.8"/><path d="M661.5 610.3L634.1 616.7"/><path d="M613.1 603.1L595.1 574.9"/><path d="M765.6 537.5L773.9 567.5"/><path d="M797.5 578.3L776.4 514.2"/><path d="M797.5 578.3L773.9 567.5"/><path d="M668.2 530.5L668.8 516.8"/><path d="M668.2 530.5L715.5 516.8"/><path d="M872 548.6L823.1 545.6"/><path d="M823.1 545.6L818.3 513.2"/></g><g stroke="#ffffff" stroke-width="2.2"><path d="M808.4 676L814.3 660.2"/><path d="M665.3 555.2L663.9 535.7"/><path d="M665.3 555.2L668.8 516.8"/><path d="M840.5 546.8L872 548.6"/><path d="M695.6 586.6L666.1 554.1"/><path d="M695.6 586.6L685.3 618.3"/><path d="M749.4 595.1L749.6 549.4"/><path d="M720.7 586.5L695 614.1"/><path d="M666.1 554.1L647 592.1"/><path d="M654.7 574.8L647 592.1"/><path d="M730.1 644.5L714.3 635.1"/><path d="M578.3 607.3L610.5 633.2"/><path d="M847.5 593.2L841.3 605.9"/><path d="M847.5 593.2L855.9 632.1"/><path d="M663.9 535.7L701.7 543.4"/><path d="M663.9 535.7L668.8 516.8"/><path d="M680.5 697.4L683.1 650.9"/><path d="M765.6 537.5L752.9 516.8"/><path d="M722.7 545.3L737 584.3"/><path d="M749.2 603.2L737 584.3"/><path d="M767.4 684.7L788.1 647.8"/><path d="M788.1 647.8L761.3 632.5"/><path d="M836.8 559.6L855.9 632.1"/><path d="M668.8 516.8L671.3 468.8"/></g><g stroke="#ffffff" stroke-width="4.4"><path d="M695.6 586.6L706.2 542.4"/><path d="M749.2 502L776.4 514.2"/><path d="M803.4 615.6L776.3 639.2"/><path d="M715 577.1L727.4 594.6"/><path d="M762.7 589.1L761.3 632.5"/><path d="M578.3 607.3L583.6 557.8"/><path d="M877.3 533.2L872 548.6"/><path d="M774.6 682.6L767.4 684.7"/><path d="M797.5 578.3L825.3 623"/><path d="M722.6 679.8L767.4 684.7"/><path d="M776.4 514.2L808.8 492.8"/><path d="M749.2 603.2L751.9 567"/><path d="M751.9 567L737 584.3"/><path d="M636.3 578.6L626.4 545.6"/><path d="M735.8 611.2L714.3 635.1"/><path d="M788.1 647.8L776.3 639.2"/><path d="M814.3 660.2L776.3 639.2"/></g><g stroke="#e9e9e9" stroke-width="22"><path d="M721.2 493.9L721.2 591.1"/><path d="M721.2 591.1L721.2 686.6"/></g></g></g><g id="v2_2"><g fill="none" stroke-opacity="0.5"><g stroke="#ffffff" stroke-width="2.8"><path d="M836.8 385.8L819.7 404.1"/><path d="M836.8 385.8L881.3 410.2"/><path d="M713.3 486.7L697.6 468"/><path d="M795.3 472.9L771.6 448.9"/><path d="M795.3 472.9L808.8 492.8"/><path d="M631.6 540.1L630.8 499.9"/><path d="M646.6 537.5L625.5 516.1"/><path d="M790.6 389.9L819.7 404.1"/><path d="M715.5 445.5L697.6 468"/><path d="M715.5 445.5L729 411.8"/><path d="M628.1 476.8L630.8 499.9"/><path d="M628.1 476.8L613.7 437.5"/><path d="M647.2 437.7L602.4 444.9"/><path d="M768.2 452.8L771.6 448.9"/><path d="M762.7 589.1L731.9 541.6"/><path d="M747.9 462.7L740.5 527.8"/><path d="M638.4 483.3L684.3 498"/><path d="M877.3 533.2L860.5 475.7"/><path d="M590.5 470.7L602.4 444.9"/><path d="M704 480.2L684.3 498"/><path d="M818.7 535.1L822.2 475.7"/><path d="M771.6 448.9L808.8 492.8"/><path d="M819.7 404.1L881.3 410.2"/><path d="M821.8 500L799.1 445.7"/><path d="M767.6 477L793.2 496.4"/><path d="M709.8 484.9L680.9 478.9"/><path d="M749.6 549.4L778.5 554.6"/><path d="M767.6 491.1L752.9 516.8"/><path d="M769.6 427.8L799.1 445.7"/><path d="M732.6 451.8L734.6 417.5"/><path d="M778.5 554.6L790.9 588.2"/><path d="M778.5 554.6L803.8 568.9"/><path d="M860.5 475.7L881.3 410.2"/><path d="M681.7 411.2L729 411.8"/><path d="M602.4 444.9L613.7 437.5"/><path d="M900.1 394.8L881.3 410.2"/></g><g stroke="#ffffff" stroke-width="2.2"><path d="M713.3 486.7L709.8 484.9"/><path d="M702.8 379.3L686 423.8"/><path d="M738.6 535.2L749.6 549.4"/><path d="M738.6 535.2L706.2 542.4"/><path d="M646.6 537.5L666.1 554.1"/><path d="M784.5 493.4L771 513.1"/><path d="M628.1 476.8L661.7 458.1"/><path d="M762.7 589.1L812 544.5"/><path d="M762.7 589.1L790.9 588.2"/><path d="M762.7 589.1L762.5 576.5"/><path d="M630.3 383.8L599.3 436.2"/><path d="M741.3 407.6L710.1 424"/><path d="M749.1 358.3L729 411.8"/><path d="M590.5 470.7L570.2 466.6"/><path d="M818.7 535.1L849.6 492.4"/><path d="M818.7 535.1L803.8 568.9"/><path d="M671.1 439.9L633.4 466.5"/><path d="M821.8 500L860.5 475.7"/><path d="M891.8 432.8L900.1 394.8"/><path d="M767.6 477L769.6 427.8"/><path d="M709.8 484.9L732.6 451.8"/><path d="M767.6 491.1L793.2 496.4"/><path d="M769.6 427.8L751 427.5"/><path d="M860.5 475.7L857 436.2"/><path d="M697.6 468L684.3 498"/><path d="M613.7 437.5L592.4 461.3"/></g><g stroke="#ffffff" stroke-width="4.4"><path d="M713.3 486.7L666.4 477.9"/><path d="M631.6 540.1L666.1 554.1"/><path d="M738.6 535.2L740.5 527.8"/><path d="M625.5 516.1L638.4 483.3"/><path d="M628.1 476.8L618.5 442.7"/><path d="M647.2 437.7L638.4 483.3"/><path d="M687.4 412.7L686.1 363.1"/><path d="M687.4 412.7L734.6 417.5"/><path d="M741.3 407.6L729 411.8"/><path d="M819.7 404.1L857 436.2"/><path d="M821.8 500L818.3 513.2"/><path d="M822.2 475.7L849.6 492.4"/></g><g stroke="#ffffff" stroke-width="3.4"><path d="M631.6 540.1L616.9 582.1"/><path d="M631.6 540.1L583.6 557.8"/><path d="M862.9 529.2L849.6 492.4"/><path d="M738.6 535.2L778.5 554.6"/><path d="M791.9 511.7L812 544.5"/><path d="M749.2 502L732.6 451.8"/><path d="M715.5 445.5L681.7 411.2"/><path d="M628.1 476.8L592.4 461.3"/><path d="M694.9 528.8L680.1 491.3"/><path d="M666.1 554.1L706.2 542.4"/><path d="M666.1 554.1L684.3 498"/><path d="M747.9 462.7L751 427.5"/><path d="M552.8 445.5L570.1 496.2"/><path d="M741.3 407.6L769.6 427.8"/><path d="M661.7 458.1L680.1 491.3"/><path d="M770.9 551.2L767.6 491.1"/><path d="M731.9 541.6L710.7 496.9"/><path d="M661.5 343.8L686.1 363.1"/><path d="M704 480.2L697.6 468"/><path d="M671.1 439.9L681.7 411.2"/><path d="M634 497.3L666.4 477.9"/><path d="M634 497.3L633.4 466.5"/><path d="M634 497.3L614.8 529.8"/><path d="M570.1 496.2L570.2 466.6"/><path d="M646.8 445.5L686 423.8"/><path d="M881.3 410.2L857 436.2"/><path d="M599.3 436.2L599.4 396.4"/><path d="M734.6 417.5L686 423.8"/></g><g stroke="#e9e9e9" stroke-width="22"><path d="M721.2 394.9L721.2 493.9"/></g></g></g><g id="v2_9"><g fill="none" stroke-opacity="0.5"><g stroke="#ffffff" stroke-width="2.8"><path d="M758.5 1290.6L748.6 1256.7"/><path d="M763.4 1223.2L803.9 1244.9"/><path d="M681 1181L700 1221.7"/><path d="M724.5 1125.5L707.9 1146.6"/><path d="M830.3 1159.9L841.2 1161.9"/><path d="M830.3 1159.9L840.3 1120.5"/><path d="M763.9 1290.6L748.6 1256.7"/><path d="M678.1 1243.6L644.9 1250.2"/><path d="M678.1 1243.6L700 1221.7"/><path d="M678.1 1243.6L657.1 1229.3"/><path d="M678.1 1243.6L681.1 1284"/><path d="M678.1 1243.6L699.5 1266"/><path d="M829.8 1198.5L834.9 1177.3"/><path d="M830.1 1223L826.4 1257"/><path d="M738.1 1182.5L732.9 1220.7"/><path d="M685.8 1106.3L703.8 1142.3"/><path d="M764 1159.1L741.4 1142.5"/><path d="M626.8 1303.6L645.9 1268.4"/><path d="M785.5 1178.7L778.7 1189.5"/><path d="M826.4 1257L851.5 1212.9"/><path d="M826.4 1257L793.9 1256.4"/><path d="M732.9 1220.7L728.8 1205.4"/><path d="M739.8 1240.3L729.9 1276"/><path d="M834.9 1177.3L825.1 1209.1"/><path d="M576.1 1164.2L612.1 1193.6"/><path d="M576.1 1164.2L563.8 1209"/><path d="M576.1 1164.2L548.8 1188.3"/><path d="M795.5 1310.3L782.5 1279.9"/><path d="M645.9 1268.4L681.1 1284"/><path d="M748.6 1256.7L782.5 1279.9"/><path d="M591.9 1239L612.1 1193.6"/><path d="M589.1 1245.3L557.4 1266.6"/><path d="M589.1 1245.3L563.8 1209"/><path d="M825.1 1209.1L851.5 1212.9"/><path d="M654.9 1162.8L658.9 1206"/><path d="M563.8 1209L548.8 1188.3"/><path d="M719.7 1083L719.2 1129.6"/><path d="M725.6 1180.6L703.8 1142.3"/></g><g stroke="#ffffff" stroke-width="3.4"><path d="M758.5 1290.6L782.5 1279.9"/><path d="M681 1181L719.5 1167"/><path d="M724.5 1125.5L719.2 1129.6"/><path d="M683.5 1142.5L685.8 1106.3"/><path d="M814.5 1241.7L846.4 1247.6"/><path d="M674.8 1070.5L685.8 1106.3"/><path d="M674.8 1070.5L719.7 1083"/><path d="M659 1164.9L682.1 1113.3"/><path d="M830.3 1159.9L834.9 1177.3"/><path d="M652.4 1166.8L657.1 1229.3"/><path d="M652.4 1166.8L654.9 1162.8"/><path d="M763.9 1290.6L782.5 1279.9"/><path d="M790.5 1165.7L792.5 1182.4"/><path d="M790.5 1165.7L797.2 1178.5"/><path d="M792.5 1182.4L825.1 1209.1"/><path d="M829.8 1198.5L797.2 1178.5"/><path d="M830.1 1223L851.5 1212.9"/><path d="M626.8 1303.6L626.9 1230.2"/><path d="M732.9 1220.7L779.8 1220.3"/><path d="M644.9 1250.2L626.9 1230.2"/><path d="M739.8 1240.3L728.8 1205.4"/><path d="M739.8 1240.3L759 1286.7"/><path d="M741.4 1142.5L719.2 1129.6"/><path d="M684.4 1266.3L645.9 1268.4"/><path d="M583 1204.9L589.1 1245.3"/><path d="M583 1204.9L607.8 1188.2"/><path d="M583 1204.9L563.8 1209"/><path d="M852.8 1219.3L825.1 1209.1"/><path d="M626.9 1230.2L591.9 1239"/><path d="M626.9 1230.2L632 1192.4"/><path d="M623.2 1133.4L654.9 1162.8"/><path d="M591.9 1239L557.4 1266.6"/><path d="M706 1192.1L725.6 1180.6"/><path d="M706 1192.1L717.5 1229"/><path d="M734.7 1231.9L779.1 1247"/><path d="M657.1 1229.3L699.5 1266"/><path d="M589.1 1245.3L607.8 1188.2"/><path d="M759 1286.7L729.9 1276"/><path d="M681.1 1284L729.9 1276"/></g><g stroke="#ffffff" stroke-width="2.2"><path d="M763.4 1223.2L792.5 1182.4"/><path d="M763.4 1223.2L739.8 1240.3"/><path d="M681 1181L728.8 1205.4"/><path d="M683.5 1142.5L719.2 1129.6"/><path d="M830.3 1159.9L792.5 1182.4"/><path d="M790.5 1165.7L764 1159.1"/><path d="M846.4 1247.6L851.5 1212.9"/><path d="M700 1221.7L717.5 1229"/><path d="M841.2 1161.9L851.5 1212.9"/><path d="M748.6 1256.7L779.1 1247"/><path d="M797.2 1178.5L794 1116.3"/><path d="M817 1109L794 1116.3"/><path d="M707.9 1146.6L719.2 1129.6"/></g><g stroke="#ffffff" stroke-width="4.4"><path d="M681 1181L662.9 1213.4"/><path d="M683.5 1142.5L659 1164.9"/><path d="M814.5 1241.7L803.9 1244.9"/><path d="M662.4 1129.5L654.9 1162.8"/><path d="M732.9 1220.7L739.8 1240.3"/><path d="M583 1204.9L612.1 1193.6"/><path d="M779.1 1247L782.5 1279.9"/><path d="M682.1 1113.3L703.8 1142.3"/><path d="M778.7 1189.5L779.8 1220.3"/></g><g stroke="#f5f5f5" stroke-width="2.8"><path d="M738.1 1182.5L778.7 1189.5"/></g><g stroke="#f5f5f5" stroke-width="3.4"><path d="M749.5 1150.7L719.5 1167"/><path d="M785.5 1178.7L802.1 1136.1"/></g></g></g><g id="v2_10"><g fill="none" stroke-opacity="0.5"><g stroke="#ffffff" stroke-width="4.4"><path d="M681.1 1284L699.5 1266"/></g></g></g></defs>
<g transform="translate(0,0)">
<g opacity="0.5" stroke-width="5.6" stroke-linejoin="miter">
<polygon points="516.1,306.9 668.6,198.8 673.3,1169.3 534.6,1300.4" fill="#f2f2f2" stroke="#f2f2f2"/>
<polygon points="668.6,198.8 924.2,260.2 906.3,1243.9 673.3,1169.3" fill="#e6e6e6" stroke="#e6e6e6"/>
<polygon points="534.6,1300.4 772.9,1380.2 906.3,1243.9 673.3,1169.3" fill="#ececec" stroke="#ececec"/>
</g>
<polyline points="534.6,1300.4 772.9,1380.2" fill="none" stroke="#000" stroke-width="5.6" stroke-linecap="square"/>
<g fill="none" stroke="#b0b0b0" stroke-width="4.4" stroke-linejoin="round"><polyline points="539.3,1302 677.8,1170.8 673.6,200"/><polyline points="629.9,1332.3 766.4,1199.2 770.7,223.4"/><polyline points="721.8,1363.1 856.3,1227.9 869.4,247.1"/></g>
<g fill="none" stroke="#000" stroke-width="5.6" stroke-linecap="square"><polyline points="538.2,1303 541.6,1299.8"/><polyline points="628.7,1333.4 632.1,1330.1"/><polyline points="720.7,1364.2 724,1360.8"/></g>
<polyline points="906.3,1243.9 772.9,1380.2" fill="none" stroke="#000" stroke-width="5.6" stroke-linecap="square"/>
<g fill="none" stroke="#b0b0b0" stroke-width="4.4" stroke-linejoin="round"><polyline points="519.3,304.6 537.5,1297.7 775.7,1377.4"/><polyline points="578.8,262.4 591.5,1246.6 827.6,1324.3"/><polyline points="636.7,221.4 644.2,1196.8 878.3,1272.5"/></g>
<g fill="none" stroke="#000" stroke-width="5.6" stroke-linecap="square"><polyline points="777.6,1378 771.8,1376.1"/><polyline points="829.6,1324.9 823.8,1323"/><polyline points="880.2,1273.1 874.5,1271.3"/></g>
<polyline points="906.3,1243.9 924.2,260.2" fill="none" stroke="#000" stroke-width="5.6" stroke-linecap="square"/>
<g fill="none" stroke="#b0b0b0" stroke-width="4.4" stroke-linejoin="round"><polyline points="923.8,281.8 668.7,220 516.5,328.7"/><polyline points="920.1,484.7 669.7,419.9 520.4,533.8"/><polyline points="916.6,680.2 670.6,612.8 524,731.4"/><polyline points="913.1,868.9 671.5,798.9 527.6,921.9"/><polyline points="909.8,1051 672.4,978.7 531,1105.7"/><polyline points="906.6,1226.9 673.2,1152.4 534.3,1283.2"/></g>
<g fill="none" stroke="#000" stroke-width="5.6" stroke-linecap="square"><polyline points="925.9,282.3 919.7,280.8"/><polyline points="922.2,485.2 916,483.6"/><polyline points="918.6,680.8 912.5,679.1"/><polyline points="915.1,869.5 909.2,867.8"/><polyline points="911.7,1051.6 905.9,1049.8"/><polyline points="908.5,1227.5 902.8,1225.6"/></g>

<g font-family="'DejaVu Sans','Liberation Sans',sans-serif" font-size="44.4" text-anchor="middle" fill="#000">
<text x="525.8" y="1451.1">0</text>
<text x="617.1" y="1482">150</text>
<text x="707.4" y="1512.9">300</text>
<text x="802.5" y="1521.1">0</text>
<text x="854.5" y="1466.9">150</text>
<text x="904.1" y="1414">300</text>
<text x="968.2" y="311.9">0.0</text>
<text x="964.1" y="515">0.3</text>
<text x="960.8" y="710.3">0.6</text>
<text x="956.5" y="897.5">0.9</text>
<text x="953.8" y="1080.1">1.2</text>
<text x="949.2" y="1256.9">1.5</text>
</g>
<g font-family="'DejaVu Sans','Liberation Sans',sans-serif" font-size="55.6" text-anchor="middle" fill="#000">
<text transform="translate(623.7,1582.4) rotate(17.9)" y="11.1">x (µm)</text>
<text transform="translate(896,1535.7) rotate(-45.4)" y="11.1">y (µm)</text>
<text transform="translate(1061,757.5) rotate(-90)" y="11.1">z (µm)</text>
</g>
<g transform="translate(1083.5,347) rotate(-90)" font-family="'DejaVu Sans','Liberation Sans',sans-serif" fill="#000"><text x="-5.2" y="1.5" font-size="38" font-weight="200">×</text><text x="27.7" y="0" font-size="44.4">10</text><text x="85" y="-16.8" font-size="31.1">3</text></g>
<use href="#v0_10" opacity="0.8"/>
<g opacity="0.5" fill-rule="evenodd" stroke-width="1.2" stroke-linejoin="round"><path d="M547.5 1274.5 770.2 1348.5 894.3 1222.7 676.3 1153.2z" fill="#ffede5"/></g>
<use href="#v0_9" opacity="0.8"/>
<g opacity="0.5" fill-rule="evenodd" stroke-width="1.2" stroke-linejoin="round"><path d="M545.9 1177.9 770.6 1250.8 896 1126.8 675.9 1058.4z" fill="#ffede5"/><path d="M617 1201l86 28 3 -6 0 -7 -4 -9 -6 -6 -8 -4 -9 -4 -10 -2 -11 -1 -8 1 -14 2zM800 1211l7 4 25 -25 -10 -2 -18 -3 -13 3 -5 5 2 8 4 4zM655 1078l-2 1 6 0 12 -3 7 -4 11 -10 -13 -4z" fill="#fed9c9" stroke="#fc9b7c"/></g>
<use href="#v0_8" opacity="0.8"/>
<g opacity="0.5" fill-rule="evenodd" stroke-width="1.2" stroke-linejoin="round"><path d="M544.2 1079.4 771.1 1151.1 897.6 1029.1 675.4 961.8z" fill="#ffede5"/><path d="M604 1098l56 18 1 -5 0 -12 -5 -7 -9 -3 -12 -1 -11 3 -6 1zM707 1017l3 3 6 5 10 3 10 -3 5 -4 0 -7 -1 0 -7 -4 -10 -2 -13 3z" fill="#fed9c9" stroke="#fc9b7c"/></g>
<use href="#v0_7" opacity="0.8"/>
<g opacity="0.5" fill-rule="evenodd" stroke-width="1.2" stroke-linejoin="round"><path d="M542.4 978.9 771.6 1049.5 899.3 929.6 675 863.4z" fill="#ffede5"/><path d="M554 969l-3 2 8 4 18 7 19 5 31 7 12 1 13 -1 18 -3 9 -4 8 -4 7 -4 11 -10 5 -6 2 -5 0 -6 -2 -1 -5 -4 -9 -4 -67 -18 -22 -3z" fill="#fed9c9" stroke="#fc9b7c"/><path d="M559 964l-2 2 9 3 10 3 23 2 15 0 18 -1 11 -3 6 -5 1 -6 -4 -5 -5 -5 -17 -9 -17 -6 -11 -2z" fill="#fcbba1" stroke="#fb7a5a"/><path d="M565 959l-4 4 9 3 11 2 11 -1 14 -2 8 -4 5 -5 -1 -7 -8 -7 -8 -4 -10 -3z" fill="#fc9b7c" stroke="#f6583e"/><path d="M565 959l-2 2 9 3 12 1 14 -2 9 -4 3 -6 -3 -8 -7 -5 -10 -3z" fill="#fb7a5a" stroke="#e83429"/><path d="M571 954l-6 5 10 3 12 0 7 -1 8 -4 4 -5 -2 -5 -7 -5 -9 -3z" fill="#f6583e" stroke="#ca181d"/><path d="M571 954l-4 4 9 2 13 0 10 -4 2 -6 -6 -6 -9 -3z" fill="#e83429" stroke="#ac1117"/><path d="M571 954l-2 2 9 3 7 0 10 -4 2 -6 -3 -4 -10 -3z" fill="#ca181d" stroke="#7e0610"/><path d="M571 954l-1 1 11 2 11 -3 1 -6 -1 -1 -9 -3z" fill="#ac1117" stroke="#7e0610"/><path d="M576 949l-3 3 10 3 6 -2 0 -4 -9 -3z" fill="#7e0610" stroke="#7e0610"/></g>
<use href="#v0_6" opacity="0.8"/>
<g opacity="0.5" fill-rule="evenodd" stroke-width="1.2" stroke-linejoin="round"><path d="M540.7 876.5 772.1 945.8 901.1 828.1 674.6 763.1z" fill="#ffede5"/><path d="M541 877l175 52 11 -10 7 -5 10 -3 15 -1 11 2 30 9 16 -16 -8 -3 -15 -10 -9 -4 -9 -3 -20 -5 -8 -4 -6 -6 -4 -8 -4 -13 -1 -16 -5 -8 -9 -3 -59 -3 -52 1z" fill="#fed9c9" stroke="#fc9b7c"/><path d="M541 877l67 20 20 -1 32 -4 14 -2 11 -3 8 -5 5 -5 3 -5 0 -7 -2 -7 -4 -5 -6 -5 -8 -4 -9 -4 -20 -4 -10 -2 -23 -2 -24 -2z" fill="#fcbba1" stroke="#fb7a5a"/><path d="M552 873l3 2 9 4 21 4 11 1 26 -1 21 -2 13 -3 9 -4 7 -4 2 -6 -1 -2 -5 -7 -8 -4 -9 -4 -39 -10 -22 -2 -43 36z" fill="#fc9b7c" stroke="#f6583e"/><path d="M552 867l7 5 9 3 11 2 12 0 14 -1 14 -2 11 -4 8 -4 3 -6 -9 -9 -14 -7 -9 -4 -11 -2 -12 0z" fill="#fb7a5a" stroke="#e83429"/><path d="M558 862l-3 2 7 5 10 3 11 1 12 0 14 -3 8 -4 5 -5 1 -6 -3 -3 -6 -5 -9 -4 -10 -2 -11 -1z" fill="#f6583e" stroke="#ca181d"/><path d="M559 862l6 5 9 3 13 1 15 -3 9 -3 5 -5 -2 -7 -3 -4 -8 -4 -10 -2 -12 -1 -23 20z" fill="#e83429" stroke="#ac1117"/><path d="M566 865l10 3 13 0 8 -1 9 -4 4 -5 -2 -6 -7 -5 -10 -3 -12 0 -18 15z" fill="#ca181d" stroke="#7e0610"/><path d="M564 857l5 6 10 3 13 0 10 -4 4 -5 -1 -3 -6 -5 -10 -3 -13 1z" fill="#ac1117" stroke="#7e0610"/><path d="M568 859l3 2 10 3 6 0 11 -3 2 -6 -4 -4 -9 -3 -8 1 -9 2 -2 2z" fill="#7e0610" stroke="#7e0610"/></g>
<use href="#v0_5" opacity="0.8"/>
<g opacity="0.5" fill-rule="evenodd" stroke-width="1.2" stroke-linejoin="round"><path d="M538.8 772.1 772.6 840 902.8 724.6 674.1 660.9z" fill="#ffede5"/><path d="M539 772l234 68 32 -29 -3 -9 -7 -5 -9 -3 -30 -8 -18 -7 -13 -11 -12 -12 -13 -11 -9 -3 -10 -2 -23 -3 -25 0 -27 1 -31 5zM744 729l6 6 10 3 11 1 12 1 16 -1 1 -2 -3 -5 -13 -4 -30 -2z" fill="#fed9c9" stroke="#fc9b7c"/><path d="M539 772l195 57 14 -3 7 -4 -1 -7 -2 -3 -7 -6 -25 -14 -33 -25 -16 -8 -19 -6 -21 -4 -11 -1 -13 0 -27 1 -16 3z" fill="#fcbba1" stroke="#fb7a5a"/><path d="M544 774l144 42 22 -1 7 -4 -6 -8 -26 -23 -7 -5 -16 -9 -18 -6 -10 -3 -10 -2 -23 -2 -13 -1 -21 2 -10 4 -13 10z" fill="#fc9b7c" stroke="#f6583e"/><path d="M548 768l2 7 96 28 27 1 10 -3 -1 -7 -5 -7 -7 -6 -7 -4 -25 -12 -19 -6 -10 -2 -12 -1 -12 -1 -12 1 -13 3 -8 4z" fill="#fb7a5a" stroke="#e83429"/><path d="M553 770l2 7 78 22 16 -1 8 -5 1 -6 -3 -4 -7 -5 -15 -9 -8 -4 -19 -5 -11 -2 -13 -1 -15 3 -11 4z" fill="#f6583e" stroke="#ca181d"/><path d="M556 771l3 6 2 1 65 20 16 -2 6 -5 -5 -8 -7 -6 -14 -9 -9 -4 -9 -3 -11 -2 -9 0 -16 2 -9 4z" fill="#e83429" stroke="#ac1117"/><path d="M559 772l2 3 6 5 53 16 7 0 11 -1 5 -6 -2 -4 -9 -5 -13 -10 -8 -4 -9 -3 -11 -2 -13 0 -7 1 -9 4z" fill="#ca181d" stroke="#7e0610"/><path d="M563 773l6 6 8 4 37 11 15 1 6 -1 4 -6 -1 -2 -21 -14 -8 -4 -9 -4 -11 -1 -14 0 -10 4z" fill="#ac1117" stroke="#7e0610"/><path d="M568 774l3 3 19 6 17 8 23 2 3 0 1 -3 0 -3 -5 -4 -8 -3 -6 -6 -9 -4 -9 -3 -10 -3 -7 1 -8 1 -4 2 -1 2z" fill="#7e0610" stroke="#7e0610"/></g>
<use href="#v0_4" opacity="0.8"/>
<g opacity="0.5" fill-rule="evenodd" stroke-width="1.2" stroke-linejoin="round"><path d="M537 665.5 773.1 732.1 904.6 619 673.6 556.7z" fill="#ffede5"/><path d="M537 666l236 66 72 -62 -24 -1 -33 -6 -13 0 -28 2 -12 -1 -10 -3 -7 -4 -5 -5 -3 -7 1 -6 4 -5 12 -7 21 -7 55 -13 19 -4 12 -1 11 2 8 4 7 5 24 24 21 -18 -231 -62z" fill="#fed9c9" stroke="#fc9b7c"/><path d="M537 666l145 40 35 -15 7 -5 0 -2 1 -4 -5 -4 -2 -4 -3 -2 -10 -14 -5 -8 -3 -7 1 -6 3 -5 9 -9 4 -6 1 -5 -1 -4 -6 -5 -8 -4 -11 -2 -12 -1 -14 1 -29 5 -16 1zM745 724l28 8 43 -37 -30 -4 -20 1 -8 4 -3 5 -6 17zM668 561l-5 4 10 2 16 0 10 -4 -25 -6z" fill="#fcbba1" stroke="#fb7a5a"/><path d="M573 669l15 8 17 7 10 3 10 2 13 1 16 -2 26 -8 10 -3 6 -5 3 -5 -1 -7 -3 -6 -9 -14 -3 -2 -1 -7 1 -10 -1 -2 -4 -4 -10 -3 -10 0 -32 4 -29 1 -44 36 11 11z" fill="#fc9b7c" stroke="#f6583e"/><path d="M593 669l13 4 21 5 11 1 14 -1 14 -2 12 -3 8 -4 4 -5 0 -6 -4 -7 -6 -6 -14 -10 -9 -4 -10 -2 -11 -1 -31 0 -14 2 -11 4 -7 4 -5 5 0 6 5 8 7 6z" fill="#fb7a5a" stroke="#e83429"/><path d="M590 661l11 6 9 3 10 2 24 2 14 -1 12 -2 8 -4 5 -5 0 -6 -7 -8 -6 -5 -9 -4 -20 -5 -11 -1 -13 0 -13 1 -13 3 -8 4 -4 5 0 6 6 6z" fill="#f6583e" stroke="#ca181d"/><path d="M589 655l7 5 8 4 19 6 12 1 13 0 15 -2 10 -3 5 -5 -1 -7 -4 -4 -7 -5 -8 -3 -10 -3 -22 -3 -13 1 -14 2 -9 4 -4 5z" fill="#e83429" stroke="#ac1117"/><path d="M598 657l8 5 10 3 10 3 12 1 19 -1 11 -4 5 -5 -2 -7 -7 -5 -9 -3 -9 -3 -11 -2 -13 0 -17 2 -9 3 -3 6 0 2z" fill="#ca181d" stroke="#7e0610"/><path d="M610 661l8 3 8 1 14 2 12 -1 11 -3 5 -5 -1 -3 -3 -4 -11 -6 -9 -2 -12 -2 -13 0 -8 1 -9 4 -3 5 3 5z" fill="#ac1117" stroke="#7e0610"/><path d="M605 653l7 5 9 3 10 2 12 2 15 -3 4 -5 -4 -5 -6 -4 -11 -4 -25 0 -9 3z" fill="#7e0610" stroke="#7e0610"/></g>
<use href="#v0_3" opacity="0.8"/>
<g opacity="0.5" fill-rule="evenodd" stroke-width="1.2" stroke-linejoin="round"><path d="M535.1 556.8 773.7 621.9 906.5 511.3 673.2 450.4z" fill="#fed9c9"/><path d="M535 557l239 65 132 -111 -233 -61zM724 543l-7 -5 15 -2 10 3 0 6 -8 0z" fill="#fcbba1" stroke="#fb7a5a"/><path d="M535 557l239 65 82 -69 -9 -3 -1 -1 -1 -7 5 -4 12 -3 3 0 11 1 30 -25 -233 -61zM713 541l-2 -4 9 -4 3 0 11 1 10 3 11 6 -3 5 -9 1 -12 -1 -10 -3z" fill="#fc9b7c" stroke="#f6583e"/><path d="M535 557l239 65 69 -58 -9 -3 -8 -4 -6 -6 -2 -3 2 -6 4 -5 7 -4 8 -4 11 -3 16 -3 13 0 11 2 16 -14 -233 -61zM711 543l-5 -7 9 -4 10 -1 12 2 10 2 9 3 8 5 3 3 -5 5 -18 1 -15 -2 -10 -3z" fill="#fb7a5a" stroke="#e83429"/><path d="M535 557l239 65 58 -49 -18 -7 -16 -8 -9 -4 -30 2 -22 -2 -11 -2 -9 -3 -9 -4 -4 -4 -1 -2 -1 -4 8 -4 4 -1 13 0 12 1 21 4 18 6 12 2 5 -2 13 -8 8 -4 32 -12 18 -5 15 -1 13 0 11 2 1 -2 -233 -61z" fill="#f6583e" stroke="#ca181d"/><path d="M535 557l239 65 43 -36 -27 -11 -16 -9 -9 -3 -32 -6 -18 -7 -9 -4 -6 -5 -1 -1 -1 -6 8 -4 11 -2 13 -1 35 4 15 0 18 -6 29 -11 16 -8 13 -8 -81 -21 -41 6 -14 1 -11 -2 -39 -10 -20 -4z" fill="#e83429" stroke="#ac1117"/><path d="M541 552l6 6 4 3 102 28 39 1 2 4 10 8 12 1 23 3 12 -3 -1 -6 -8 -5 -13 0 -4 -2 16 -8 4 -5 1 -6 -9 -7 -5 -3 -20 -8 -8 -5 -7 -5 -3 -5 1 -5 7 -5 12 -2 6 -1 34 -1 46 -11 9 -4 6 -4 2 -6 -6 -5 -11 -2 -13 0 -16 3 -27 9 -10 0 -22 -4 -49 -12 -32 -5z" fill="#ca181d" stroke="#7e0610"/><path d="M571 560l15 9 13 5 22 6 14 2 21 2 22 -1 17 -1 13 -3 8 -4 4 -5 -1 -6 -11 -10 -7 -3 -6 -6 -5 -6 0 -2 1 -5 7 -5 10 -3 14 -2 8 -4 -7 -6 -8 -3 -19 -6 -40 -9 -33 -5 -67 52 5 11zM706 597l2 2 5 0 -1 -3zM732 598l1 2 6 0 -3 -2z" fill="#ac1117" stroke="#7e0610"/><path d="M602 569l16 5 11 3 24 2 26 -2 13 -2 8 -4 3 -6 -1 -6 -7 -8 -4 -3 -4 -7 -2 -5 3 -5 6 -5 17 -7 -3 -5 -8 -4 -9 -3 -19 -5 -32 -6 -23 -2 -49 38 6 15 5 7 6 5 7 5z" fill="#7e0610" stroke="#7e0610"/></g>
<use href="#v0_2" opacity="0.8"/>
<circle cx="721" cy="486" r="14.5" fill="#00f" fill-opacity="0.5"/>
<g opacity="0.5" fill-rule="evenodd" stroke-width="1.2" stroke-linejoin="round"><path d="M533.2 445.8 774.2 509.4 908.3 401.5 672.7 342.1z" fill="#fed9c9"/><path d="M533 446l241 63 134 -108 -235 -59zM866 404l-2 -2 4 -5 7 -1 9 4 0 1 -5 4 -2 1z" fill="#fcbba1" stroke="#fb7a5a"/><path d="M533 446l241 63 134 -108 -9 -2 0 6 -5 4 -9 4 -5 0 -12 0 -10 -3 -8 -4 -2 -3 0 -6 4 -4 9 -3 -188 -48zM721 424l-1 -1 2 -5 10 -2 7 5 0 1 -5 3 -5 0z" fill="#fc9b7c" stroke="#f6583e"/><path d="M547 450l227 59 112 -90 -13 0 -11 -2 -10 -2 -8 -4 -5 -4 -3 -7 1 -5 4 -5 7 -4 -175 -44 -130 96 12 2 2 6zM718 426l-5 -5 3 -5 4 -1 8 -2 7 0 9 4 0 6 -7 4 -8 1z" fill="#fb7a5a" stroke="#e83429"/><path d="M562 454l212 55 105 -84 -10 -2 -20 -5 -9 -4 -8 -4 -7 -7 -2 -6 1 -5 4 -5 6 -4 -161 -41 -122 90 11 3 6 5 2 4 -1 5zM716 428l-7 -5 0 -3 4 -5 8 -3 5 -1 12 0 9 3 3 5 -1 6 -6 4 -16 2zM755 492l6 -5 15 -2 12 2 2 2 -3 5 -11 3 -13 -1z" fill="#f6583e" stroke="#ca181d"/><path d="M579 452l-5 5 116 30 12 -3 45 -7 26 -5 33 -10 16 -2 12 1 40 -32 -38 -12 -9 -3 -13 -8 -6 -7 -3 -7 0 -2 -2 -4 0 -5 -2 -7 -128 -32 -116 86 10 3 7 4 4 5 3 6zM706 426l-1 -7 4 -5 7 -4 13 -2 13 0 9 4 5 6 0 2 -2 6 -5 4 -12 3 -14 0 -10 -3z" fill="#e83429" stroke="#ac1117"/><path d="M590 461l47 12 42 -1 33 1 15 -1 16 -1 12 -3 10 -4 7 -4 9 -9 8 -4 17 -2 33 1 14 0 17 -14 -18 -7 -47 -15 -24 -11 -9 -4 -37 -12 -69 -16 -22 -4 -81 60 9 4 8 4 6 5 4 7 1 6zM710 433l-7 -5 -3 -4 1 -6 4 -5 6 -4 7 -2 17 -3 12 0 9 4 5 6 0 8 -1 5 -4 5 -10 3 -14 1 -12 -1z" fill="#ca181d" stroke="#7e0610"/><path d="M614 461l4 2 9 3 12 1 13 0 30 -2 42 1 15 -3 9 -3 5 -5 1 -5 -5 -6 -33 -6 -9 -3 -8 -4 -2 -2 -3 -5 0 -2 2 -5 5 -5 17 -13 0 -3 -7 -4 -19 -6 -19 -5 -21 -4 -23 -2 -57 42 14 9 12 11 4 7 3 9 5 6zM768 429l5 7 10 2 36 3 21 1 17 -1 7 -5 -6 -5 -8 -4 -9 -3 -31 -7 -21 -4 -15 0 -4 5z" fill="#ac1117" stroke="#7e0610"/><path d="M620 457l3 2 9 3 13 1 18 -1 13 -3 16 -2 22 0 11 -3 0 -2 -3 -5 -20 -8 -8 -4 -6 -6 0 -3 0 -5 3 -5 8 -10 2 -5 0 -2 -8 -4 -9 -3 -19 -5 -22 -3 -25 -1 -33 25 3 4 19 19 5 6 3 8 0 4 2 4zM778 426l3 4 8 3 22 4 12 1 24 0 6 -4 -6 -4 -9 -4 -31 -7 -15 -1 -13 3z" fill="#7e0610" stroke="#7e0610"/></g>
<use href="#v0_1" opacity="0.8"/>
<g opacity="0.5" fill-rule="evenodd" stroke-width="1.2" stroke-linejoin="round"><path d="M531.2 332.6 774.8 394.5 910.3 289.3 672.2 231.5z" fill="#ffede5"/><path d="M531 333l244 61 135 -105 -238 -57zM720 363l-8 -4 1 -4 6 -2 11 3 7 4 0 1 -1 1zM811 294l-1 -1 0 -6 5 -4 13 -2 8 4 2 3 -1 6 -9 3 -8 0z" fill="#fed9c9" stroke="#fc9b7c"/><path d="M531 333l130 33 1 -6 4 -5 5 -5 6 -4 7 -4 17 -8 38 -13 6 -5 7 -9 5 -13 8 -12 6 -21 5 -4 -93 -23 -13 2 -5 0zM738 385l37 9 87 -68 -12 5 -35 9 -7 4 -4 5 -3 10 -4 5 -6 5 -8 4 -19 7zM735 343l5 5 16 0 2 -3 -1 -2 -5 -4 -7 1zM907 288l-1 4 4 -3 -3 -1z" fill="#fcbba1" stroke="#fb7a5a"/><path d="M531 333l71 18 13 -3 21 -7 28 -10 17 -8 21 -11 20 -7 7 -4 2 -5 0 -6 5 -10 1 -5 -1 -4 -5 -6 -8 -4 -9 -3 -21 -4 -48 -3z" fill="#fc9b7c" stroke="#f6583e"/><path d="M534 333l35 9 19 -1 12 -3 43 -18 30 -16 8 -3 16 -1 12 1 8 -3 -1 -3 -7 -5 -1 -5 2 -5 -2 -7 -8 -5 -9 -3 -21 -4 -19 -2 -17 0 -41 29 1 2 -1 6 -5 4 -7 4 -24 10 -25 18z" fill="#fb7a5a" stroke="#e83429"/><path d="M537 328l-4 3 9 4 10 2 10 2 15 0 1 0 8 -4 7 -10 -4 -5 -12 -1 -16 4 -14 -2zM622 280l4 4 8 4 10 2 14 0 13 -3 8 -4 3 -5 -4 -4 -8 -3 -10 -2 -20 -1 -14 2 -6 4 1 4z" fill="#f6583e" stroke="#ca181d"/><path d="M537 328l-2 2 8 4 10 2 12 2 8 -1 5 -4 -2 -4 -8 -3 -11 -2 -14 0z" fill="#e83429" stroke="#ac1117"/><path d="M537 328l7 5 10 3 14 0 3 -5 -5 -4 -11 -2 -7 0z" fill="#ca181d" stroke="#7e0610"/><path d="M541 329l4 3 10 3 9 0 0 -6 0 0 -11 -3z" fill="#ac1117" stroke="#7e0610"/><path d="M544 330l2 1 10 3 4 0 0 -3 -10 -2z" fill="#7e0610" stroke="#7e0610"/></g>
<use href="#v0_0" opacity="0.8"/>
</g>
<g transform="translate(1289.8,0)">
<g opacity="0.5" stroke-width="5.6" stroke-linejoin="miter">
<polygon points="516.1,306.9 668.6,198.8 673.3,1169.3 534.6,1300.4" fill="#f2f2f2" stroke="#f2f2f2"/>
<polygon points="668.6,198.8 924.2,260.2 906.3,1243.9 673.3,1169.3" fill="#e6e6e6" stroke="#e6e6e6"/>
<polygon points="534.6,1300.4 772.9,1380.2 906.3,1243.9 673.3,1169.3" fill="#ececec" stroke="#ececec"/>
</g>
<polyline points="534.6,1300.4 772.9,1380.2" fill="none" stroke="#000" stroke-width="5.6" stroke-linecap="square"/>
<g fill="none" stroke="#b0b0b0" stroke-width="4.4" stroke-linejoin="round"><polyline points="539.3,1302 677.8,1170.8 673.6,200"/><polyline points="629.9,1332.3 766.4,1199.2 770.7,223.4"/><polyline points="721.8,1363.1 856.3,1227.9 869.4,247.1"/></g>
<g fill="none" stroke="#000" stroke-width="5.6" stroke-linecap="square"><polyline points="538.2,1303 541.6,1299.8"/><polyline points="628.7,1333.4 632.1,1330.1"/><polyline points="720.7,1364.2 724,1360.8"/></g>
<polyline points="906.3,1243.9 772.9,1380.2" fill="none" stroke="#000" stroke-width="5.6" stroke-linecap="square"/>
<g fill="none" stroke="#b0b0b0" stroke-width="4.4" stroke-linejoin="round"><polyline points="519.3,304.6 537.5,1297.7 775.7,1377.4"/><polyline points="578.8,262.4 591.5,1246.6 827.6,1324.3"/><polyline points="636.7,221.4 644.2,1196.8 878.3,1272.5"/></g>
<g fill="none" stroke="#000" stroke-width="5.6" stroke-linecap="square"><polyline points="777.6,1378 771.8,1376.1"/><polyline points="829.6,1324.9 823.8,1323"/><polyline points="880.2,1273.1 874.5,1271.3"/></g>
<polyline points="906.3,1243.9 924.2,260.2" fill="none" stroke="#000" stroke-width="5.6" stroke-linecap="square"/>
<g fill="none" stroke="#b0b0b0" stroke-width="4.4" stroke-linejoin="round"><polyline points="923.8,281.8 668.7,220 516.5,328.7"/><polyline points="920.1,484.7 669.7,419.9 520.4,533.8"/><polyline points="916.6,680.2 670.6,612.8 524,731.4"/><polyline points="913.1,868.9 671.5,798.9 527.6,921.9"/><polyline points="909.8,1051 672.4,978.7 531,1105.7"/><polyline points="906.6,1226.9 673.2,1152.4 534.3,1283.2"/></g>
<g fill="none" stroke="#000" stroke-width="5.6" stroke-linecap="square"><polyline points="925.9,282.3 919.7,280.8"/><polyline points="922.2,485.2 916,483.6"/><polyline points="918.6,680.8 912.5,679.1"/><polyline points="915.1,869.5 909.2,867.8"/><polyline points="911.7,1051.6 905.9,1049.8"/><polyline points="908.5,1227.5 902.8,1225.6"/></g>

<g font-family="'DejaVu Sans','Liberation Sans',sans-serif" font-size="44.4" text-anchor="middle" fill="#000">
<text x="525.8" y="1451.1">0</text>
<text x="617.1" y="1482">150</text>
<text x="707.4" y="1512.9">300</text>
<text x="802.5" y="1521.1">0</text>
<text x="854.5" y="1466.9">150</text>
<text x="904.1" y="1414">300</text>
<text x="968.2" y="311.9">0.0</text>
<text x="964.1" y="515">0.3</text>
<text x="960.8" y="710.3">0.6</text>
<text x="956.5" y="897.5">0.9</text>
<text x="953.8" y="1080.1">1.2</text>
<text x="949.2" y="1256.9">1.5</text>
</g>
<g font-family="'DejaVu Sans','Liberation Sans',sans-serif" font-size="55.6" text-anchor="middle" fill="#000">
<text transform="translate(623.7,1582.4) rotate(17.9)" y="11.1">x (µm)</text>
<text transform="translate(896,1535.7) rotate(-45.4)" y="11.1">y (µm)</text>
<text transform="translate(1061,757.5) rotate(-90)" y="11.1">z (µm)</text>
</g>
<g transform="translate(1083.5,347) rotate(-90)" font-family="'DejaVu Sans','Liberation Sans',sans-serif" fill="#000"><text x="-5.2" y="1.5" font-size="38" font-weight="200">×</text><text x="27.7" y="0" font-size="44.4">10</text><text x="85" y="-16.8" font-size="31.1">3</text></g>
<use href="#v1_10" opacity="0.55"/>
<g opacity="0.5" fill-rule="evenodd" stroke-width="1.2" stroke-linejoin="round"><path d="M547.5 1274.5 770.2 1348.5 894.3 1222.7 676.3 1153.2z" fill="#fc9b7c"/><path d="M548 1274l222 74 124 -125 -218 -70zM628 1233l0 -2 4 -5 5 -1 8 -2 5 0 9 4 1 1 0 7 -7 5 -9 1 -10 -2z" fill="#fb7a5a" stroke="#e83429"/><path d="M548 1274l222 74 124 -125 -160 -51 -7 4 -9 4 -15 4 -14 2 -9 -3 -2 -3 -10 -8 -7 -4 -29 27 30 0 7 -1 10 2 6 6 4 7 2 11 -6 16 -4 6 -5 5 -7 5 -25 5 -8 4 -11 -2 -48 -12zM807 1249l-7 -5 -5 -6 -2 -7 3 -6 6 -5 9 -4 20 -2 11 0 10 2 9 4 6 6 0 1 2 8 -2 6 -4 5 -6 5 -9 4 -12 2 -11 -1 -10 -3z" fill="#f6583e" stroke="#ca181d"/><path d="M702 1305l5 7 8 4 11 1 10 -1 8 -5 6 -5 21 4 10 -1 12 -3 5 -5 0 -7 -4 -8 -1 -1 0 -7 2 -6 -2 -7 -19 -20 -7 -16 -6 -7 -8 -4 -9 -3 -12 0 -6 1 -12 3 -7 4 -5 5 -2 7 -1 13 -6 12 -3 6 0 2 1 5 2 4 6 6 7 5 0 4 -4 5zM649 1266l1 4 10 3 9 0 7 -5 -4 -6 -10 -3 -8 2z" fill="#e83429" stroke="#ac1117"/><path d="M710 1307l0 1 8 5 11 0 10 -3 2 -7 -6 -7 -11 -1 -5 1 -9 4zM719 1282l3 2 11 2 13 -2 6 -5 2 -6 -2 -6 -8 -4 -10 -2 -10 2 -8 4 -4 6 3 6zM761 1296l5 7 10 2 8 -2 4 -5 -1 -4 -8 -4 -13 1zM716 1246l4 4 9 3 14 -1 5 -2 7 -5 4 -5 0 -7 -3 -6 -8 -4 -9 -3 -12 0 -5 1 -9 4 -4 5 0 8 4 7z" fill="#ca181d" stroke="#7e0610"/><path d="M715 1302l0 1 6 8 13 -3 -2 -8 -14 1zM719 1275l6 7 11 1 4 -1 7 -5 -1 -4 -7 -5 -12 0 -5 1zM717 1240l0 1 8 4 12 0 10 -2 5 -5 0 -6 -6 -7 -10 -2 -7 0 -11 4 -4 5z" fill="#ac1117" stroke="#7e0610"/><path d="M722 1304l2 3 5 -1 -1 -2zM724 1277l3 3 7 0 8 -4 -6 -6 -8 1zM719 1234l2 4 8 3 11 0 6 -5 -3 -8 -10 -2 -10 2z" fill="#7e0610" stroke="#7e0610"/></g>
<use href="#v1_9" opacity="0.55"/>
<g opacity="0.5" fill-rule="evenodd" stroke-width="1.2" stroke-linejoin="round"><path d="M545.9 1177.9 770.6 1250.8 896 1126.8 675.9 1058.4z" fill="#fc9b7c"/><path d="M546 1178l225 73 125 -124 -220 -69zM693 1144l-5 -3 -2 -1 1 -6 8 -4 12 1 8 6 -3 5 -6 2z" fill="#fb7a5a" stroke="#e83429"/><path d="M546 1178l225 73 51 -51 -9 -5 3 -1 12 0 68 -67 -220 -69zM668 1145l-4 -4 -1 -8 4 -5 7 -4 12 -3 9 -1 12 0 10 2 9 3 8 5 3 7 -2 6 -6 5 -10 3 -10 2 -13 1 -11 -2 -9 -3z" fill="#f6583e" stroke="#ca181d"/><path d="M637 1193l2 3 7 4 10 3 14 1 23 0 12 -2 20 -8 15 1 13 -1 9 -2 10 -4 7 -4 4 -6 0 -7 -2 -4 -7 -5 -10 -3 -10 -2 -14 2 -33 8 -27 -1 -17 1 -10 4 -8 4 -5 6 -4 5zM588 1157l2 3 7 5 10 2 15 1 14 -2 8 -5 2 -6 -1 -7 -2 -3 -6 -5 -9 -4 -11 -1 -10 1 -12 3 -6 5 -3 6zM782 1144l6 4 18 6 31 6 11 2 12 0 21 -21 -9 -2 -31 -7 -33 -3 -10 0 -14 3 -6 4 3 7zM720 1078l4 3 10 2 13 -3 -29 -9 0 5z" fill="#e83429" stroke="#ac1117"/><path d="M595 1152l1 2 7 6 10 2 9 -1 10 -3 4 -6 -4 -8 -8 -4 -12 0 -8 2 -7 4zM731 1175l1 3 7 6 10 2 12 -1 2 -1 7 -3 2 -6 -5 -7 -9 -3 -15 1 -9 4zM801 1143l2 2 9 4 9 3 22 3 17 0 9 -2 3 -2 -6 -7 -9 -3 -21 -4 -11 -1 -6 0 -16 1z" fill="#ca181d" stroke="#7e0610"/><path d="M606 1156l11 2 8 -3 3 -6 0 -1 -8 -4 -9 0 -8 4zM746 1173l0 3 10 3 4 -1 0 -3 -9 -3zM822 1144l5 2 12 3 1 -4 -10 -1z" fill="#ac1117" stroke="#7e0610"/><path d="M611 1151l0 1 4 0 -1 -3z" fill="#7e0610" stroke="#7e0610"/></g>
<use href="#v1_8" opacity="0.55"/>
<g opacity="0.5" fill-rule="evenodd" stroke-width="1.2" stroke-linejoin="round"><path d="M544.2 1079.4 771.1 1151.1 897.6 1029.1 675.4 961.8z" fill="#fed9c9"/><path d="M544 1079l227 72 127 -122 -223 -67zM684 1044l-1 -2 4 -5 7 -3 13 0 8 4 1 1 1 7 -8 4 -9 1 -10 -2z" fill="#fcbba1" stroke="#fb7a5a"/><path d="M544 1079l227 72 127 -122 -223 -67zM678 1049l-2 -2 -2 -8 4 -5 9 -4 13 -2 11 1 9 4 6 6 1 3 -2 6 -7 5 -10 3 -12 0 -10 -3z" fill="#fc9b7c" stroke="#f6583e"/><path d="M544 1079l227 72 127 -122 -223 -67zM682 1056l-8 -4 -6 -5 -2 -4 0 -6 4 -6 8 -4 15 -4 13 0 10 2 9 4 7 5 2 4 1 4 -3 9 -5 5 -10 3 -15 2 -10 -2z" fill="#fb7a5a" stroke="#e83429"/><path d="M544 1079l227 72 127 -122 -223 -67zM663 1051l-7 -5 -3 -7 1 -6 3 -6 6 -4 11 -3 15 -3 12 0 12 0 10 2 8 4 7 5 6 6 -4 15 1 4 -3 6 -8 4 -12 3 -10 1 -11 -2 -18 -6z" fill="#f6583e" stroke="#ca181d"/><path d="M544 1079l119 38 8 -4 21 -14 7 -5 4 -6 -1 -3 1 -3 -5 -6 -1 -3 -12 -8 -17 -7 -19 -5 -8 -4 -15 -9 -10 -3 -21 -2zM755 1058l12 1 8 -2 6 -5 -1 -6 -3 -8 18 -8 4 -5 0 -6 0 -2 -7 -5 -8 -4 -11 -1 -10 1 -10 3 -4 5 2 7 8 8 3 2 -14 9 -3 6 2 6zM823 1059l3 3 8 4 11 2 13 0 24 -24 -6 -6 -9 -3 -11 -2 -13 1 -8 2 -9 4 -5 5 -2 6 1 5zM655 1001l9 4 10 3 11 0 13 -1 13 -2 9 -4 6 -5 2 -5 0 -7 -1 -2 -6 -6 -5 -2 -13 -4 -11 -1 -11 1 -13 2 -8 4 -11 10 0 6 1 3z" fill="#e83429" stroke="#ac1117"/><path d="M544 1079l63 20 12 -3 12 -5 13 -1 13 1 17 -4 10 -5 3 -5 -5 -9 -8 -4 -9 -4 -14 -1 -19 1 -4 1 -21 -4 -11 -1 -13 0 -16 3zM750 1049l0 2 9 4 7 -1 7 -4 -2 -6 -10 -3 -9 3zM831 1055l1 1 8 4 14 2 12 -3 5 -5 0 -7 -2 -2 -8 -5 -11 -1 -4 1 -11 3 -5 5zM676 987l2 6 9 2 9 -1 5 -5 -3 -4 -9 -2 -6 0z" fill="#ca181d" stroke="#7e0610"/><path d="M555 1076l-1 6 37 12 12 -3 8 -4 4 -6 0 -7 -8 -6 -10 -3 -11 -1 -17 3 -9 4zM641 1083l10 2 13 0 4 -1 9 -4 3 -5 -1 -4 -7 -5 -9 -3 -13 0 -6 0 -9 4 -5 6 3 5zM756 1045l0 1 7 5 5 -3 -1 -1 -10 -3zM837 1050l0 1 7 5 14 0 6 -5 -1 -1 -6 -6 -12 0 -3 1z" fill="#ac1117" stroke="#7e0610"/><path d="M567 1080l0 1 7 6 11 1 5 -1 8 -4 0 -7 -8 -4 -13 0 -6 2zM642 1076l3 3 9 3 6 0 12 -3 2 -6 -5 -5 -9 -3 -9 1 -8 4z" fill="#7e0610" stroke="#7e0610"/></g>
<use href="#v1_7" opacity="0.55"/>
<g opacity="0.5" fill-rule="evenodd" stroke-width="1.2" stroke-linejoin="round"><path d="M542.4 978.9 771.6 1049.5 899.3 929.6 675 863.4z" fill="#ffede5"/><path d="M611 1000l161 49 127 -119 -224 -67 -79 70 20 4 17 7 7 5 7 5 4 7 2 5 -1 6 -3 6 -5 5 -7 5z" fill="#fed9c9" stroke="#fc9b7c"/><path d="M704 995l5 5 8 5 9 3 10 3 12 1 25 0 26 -2 17 -2 83 -78 -129 -39 -20 7 -26 11 -15 9 -5 5 -3 5 -3 6 0 8 -3 4 -6 5 -1 6 2 4 7 5 0 13 2 8z" fill="#fcbba1" stroke="#fb7a5a"/><path d="M738 979l3 4 9 3 11 2 84 -7 54 -51 -99 -30 -14 3 -11 3 -9 3 -8 4 -6 5 -20 20 -3 5 1 4 2 9 2 2 2 18zM696 953l0 2 6 5 14 -1 -1 -7 -2 -2 -13 2z" fill="#fc9b7c" stroke="#f6583e"/><path d="M703 955l3 3 4 -1 -1 -3zM745 954l1 2 9 2 11 2 19 5 11 2 35 3 25 0 43 -40 -75 -23 -13 0 -14 2 -17 4 -9 4 -6 5 -11 9 -9 4 -6 5 -3 5 2 6z" fill="#fb7a5a" stroke="#e83429"/><path d="M740 947l1 1 7 6 10 2 11 -1 4 -1 12 0 10 3 21 4 19 1 17 0 15 -2 22 -21 -5 -7 -7 -5 -17 -7 -20 -5 -23 -2 -13 1 -13 3 -10 3 -6 5 -5 5 -7 4 -7 0 -6 2 -8 4z" fill="#f6583e" stroke="#ca181d"/><path d="M744 948l5 4 11 2 4 0 11 -4 7 -4 19 5 11 2 19 1 18 -1 12 -3 7 -4 1 -6 -2 -3 -7 -6 -8 -4 -9 -4 -9 -2 -11 -2 -12 0 -9 1 -11 3 -7 4 -8 11 -9 -2 -13 2 -10 3 0 5z" fill="#e83429" stroke="#ac1117"/><path d="M748 949l2 2 12 1 10 -2 3 -6 -1 -2 -9 -4 -8 1 -10 3zM792 936l6 6 9 3 12 1 7 0 13 -2 5 -5 -1 -3 -7 -6 -8 -3 -11 -2 -15 1 -8 4z" fill="#ca181d" stroke="#7e0610"/><path d="M750 943l2 7 13 0 4 -1 1 -4 -3 -4 -4 -1z" fill="#ac1117" stroke="#7e0610"/><path d="M754 944l1 3 10 1 -4 -6z" fill="#7e0610" stroke="#7e0610"/></g>
<use href="#v1_6" opacity="0.55"/>
<g opacity="0.5" fill-rule="evenodd" stroke-width="1.2" stroke-linejoin="round"><path d="M540.7 876.5 772.1 945.8 901.1 828.1 674.6 763.1z" fill="#ffede5"/><path d="M541 877l158 47 19 0 31 7 36 3 116 -106 -226 -65z" fill="#fed9c9" stroke="#fc9b7c"/><path d="M648 863l5 5 8 4 10 3 11 2 11 1 13 0 30 -3 28 -3 29 -6 11 -3 20 -7 16 -8 7 -4 5 -5 4 -5 1 -6 1 -12 -156 -45 -20 7 -15 7 -6 5 -5 5 -4 5 -7 17 -4 11 -1 7 0 6 1 7 2 7z" fill="#fcbba1" stroke="#fb7a5a"/><path d="M687 848l9 4 11 2 12 1 47 -3 15 -2 12 -3 10 -3 7 -4 6 -5 4 -5 1 -6 -1 -7 -2 -5 0 -8 -72 -20 -22 0 -24 5 -9 3 -8 4 -5 5 -4 5 -2 6 1 16 3 9 5 7z" fill="#fc9b7c" stroke="#f6583e"/><path d="M692 824l6 5 8 4 9 3 11 2 12 0 13 0 14 -2 18 -4 8 -4 5 -5 3 -6 3 -11 5 -5 -23 -6 -43 -3 -13 0 -15 1 -12 3 -8 3 -5 5 -3 6 1 6z" fill="#fb7a5a" stroke="#e83429"/><path d="M696 819l7 5 9 3 12 2 12 0 29 -2 13 -3 7 -4 4 -5 0 -11 -8 -4 -10 -2 -11 -1 -36 -1 -15 2 -10 3 -5 5 -2 6z" fill="#f6583e" stroke="#ca181d"/><path d="M698 813l2 3 7 5 9 3 12 1 40 -4 10 -3 4 -5 0 -3 -5 -6 -10 -3 -34 -2 -13 0 -6 0 -10 4 -5 4z" fill="#e83429" stroke="#ac1117"/><path d="M706 816l4 3 9 2 13 0 29 -3 10 -2 3 -6 -2 -2 -9 -3 -33 -4 -9 0 -12 3 -6 5 1 4z" fill="#ca181d" stroke="#7e0610"/><path d="M708 810l5 6 10 3 12 -1 24 -6 -2 -2 -19 -5 -11 -2 -14 2z" fill="#ac1117" stroke="#7e0610"/><path d="M714 812l2 2 10 2 11 -4 -3 -3 -10 -3 -5 1z" fill="#7e0610" stroke="#7e0610"/></g>
<use href="#v1_5" opacity="0.55"/>
<circle cx="721.5" cy="822.5" r="14.5" fill="#00f" fill-opacity="0.5"/>
<g opacity="0.5" fill-rule="evenodd" stroke-width="1.2" stroke-linejoin="round"><path d="M538.8 772.1 772.6 840 902.8 724.6 674.1 660.9z" fill="#ffede5"/><path d="M539 772l234 68 130 -115 -229 -64 -43 36 10 2 7 4 6 6 0 7 -3 6 -4 5 -6 4 -9 4 -13 3 -13 0 -10 -2 -9 -4z" fill="#fed9c9" stroke="#fc9b7c"/><path d="M781 823l6 4 116 -102 -175 -49 -7 4 -23 24 -12 15 -9 16 -1 6 0 7 3 4 3 4 10 7 57 29 15 10 6 6z" fill="#fcbba1" stroke="#fb7a5a"/><path d="M737 765l12 4 10 3 23 3 11 0 15 -1 15 -2 33 -6 41 -36 -26 -11 -7 -5 -120 -34 -7 4 -2 6 1 3 4 4 2 7 -21 13 -5 4 -5 5 -3 6 -1 5 1 7 2 4 4 4 9 7z" fill="#fc9b7c" stroke="#f6583e"/><path d="M734 745l2 2 7 5 8 4 10 3 11 2 18 0 17 -1 25 -7 13 0 22 3 24 -21 -9 -4 -21 -3 -7 -5 -5 -7 -5 -7 -5 -2 -23 -7 -12 0 -9 1 -13 2 -9 4 -31 16 -6 4 -4 5 -1 6zM748 687l2 5 11 1 4 -1 0 -2 -4 -5 -3 -1z" fill="#fb7a5a" stroke="#e83429"/><path d="M758 740l7 5 9 2 12 1 17 -3 29 -9 7 -5 3 -5 -1 -6 -3 -6 -2 -2 -5 -3 -9 -3 -11 -1 -17 1 -10 4 -7 4 -5 5 -9 9 -4 6zM851 741l3 4 8 5 11 1 13 -12 -8 -4 -12 0 -10 1z" fill="#f6583e" stroke="#ca181d"/><path d="M786 729l6 4 11 1 15 -2 9 -4 5 -5 0 -4 0 -2 -5 -4 -9 -4 -15 0 -10 3 -7 5 -2 5 0 6z" fill="#e83429" stroke="#ac1117"/><path d="M796 719l4 6 11 2 6 -2 6 -4 -1 -4 -8 -4 -13 2z" fill="#ca181d" stroke="#7e0610"/></g>
<use href="#v1_4" opacity="0.55"/>
<g opacity="0.5" fill-rule="evenodd" stroke-width="1.2" stroke-linejoin="round"><path d="M537 665.5 773.1 732.1 904.6 619 673.6 556.7z" fill="#ffede5"/><path d="M537 666l57 16 4 -6 0 -6 -3 -7 -8 -6 -11 -6 -14 -5zM675 635l1 2 7 5 10 3 10 2 27 -1 16 -3 8 -4 1 -3 3 -3 1 -5 -8 -10 -7 -5 -9 -3 -21 -4 0 -3 -3 -4 -8 -4 -11 -2 -12 1 -7 4 -4 5 3 6 3 2 3 4 1 3 -5 5 -2 5zM765 654l4 4 8 4 10 2 13 0 16 -2 10 -4 6 -4 5 -11 30 -4 9 -4 5 -4 1 -6 -3 -6 -3 -2 -5 -3 -9 -2 -34 -4 -13 0 -14 1 -12 3 -7 4 -4 5 0 6 2 6 -6 5 -7 4 -3 5z" fill="#fed9c9" stroke="#fc9b7c"/><path d="M701 630l5 4 10 3 8 -1 11 -3 3 -5 -4 -6 -10 -3 -15 1 -8 4 -1 4zM785 653l10 4 5 0 12 -2 3 -6 -4 -5 -11 -2 -7 1 -8 4zM686 602l3 4 7 -2 -2 -3zM792 625l1 1 7 6 10 2 12 -1 12 -3 6 -4 -2 -5 -5 -3 -12 -4 -13 0 -7 1 -7 4z" fill="#fcbba1" stroke="#fb7a5a"/><path d="M803 621l2 6 11 1 7 -1 2 -5 -9 -4 -4 0z" fill="#fc9b7c" stroke="#f6583e"/></g>
<use href="#v1_3" opacity="0.55"/>
<g opacity="0.5" fill-rule="evenodd" stroke-width="1.2" stroke-linejoin="round"><path d="M535.1 556.8 773.7 621.9 906.5 511.3 673.2 450.4z" fill="#ffede5"/><path d="M757 617l17 5 7 -6 -12 -2zM691 562l5 3 11 2 14 -3 30 -22 4 -5 0 -6 -1 -2 -4 -7 -7 -5 -9 -3 -11 -2 -14 1 -13 2 -9 4 -5 4 -3 5 1 7 3 9 2 4 0 5 4 8z" fill="#fed9c9" stroke="#fc9b7c"/><path d="M705 535l11 4 2 0 14 -3 4 -4 -4 -6 -10 -3 -13 1 -6 5z" fill="#fcbba1" stroke="#fb7a5a"/></g>
<use href="#v1_2" opacity="0.55"/>
<g opacity="0.5" fill-rule="evenodd" stroke-width="1.2" stroke-linejoin="round"><path d="M533.2 445.8 774.2 509.4 908.3 401.5 672.7 342.1z" fill="#ffede5"/><path d="M688 427l11 4 11 2 14 -1 15 -4 8 -4 4 -5 -2 -6 -7 -5 -10 -3 -11 -1 -10 -1 -16 2 -11 3 -5 4 -1 6 5 5z" fill="#fed9c9" stroke="#fc9b7c"/></g>
<use href="#v1_1" opacity="0.55"/>
<g opacity="0.5" fill-rule="evenodd" stroke-width="1.2" stroke-linejoin="round"><path d="M531.2 332.6 774.8 394.5 910.3 289.3 672.2 231.5z" fill="#ffede5"/><path d="M678 323l0 1 7 4 13 0 35 -5 32 -7 10 -4 7 -3 4 -5 1 -5 -1 -6 -4 -7 -5 -6 -7 -5 -11 -2 -18 4 -35 13 -8 3 -6 5 -5 4 -6 10 -2 5z" fill="#fed9c9" stroke="#fc9b7c"/></g>
<use href="#v1_0" opacity="0.55"/>
</g>
<g transform="translate(2579.6,0)">
<g opacity="0.5" stroke-width="5.6" stroke-linejoin="miter">
<polygon points="516.1,306.9 668.6,198.8 673.3,1169.3 534.6,1300.4" fill="#f2f2f2" stroke="#f2f2f2"/>
<polygon points="668.6,198.8 924.2,260.2 906.3,1243.9 673.3,1169.3" fill="#e6e6e6" stroke="#e6e6e6"/>
<polygon points="534.6,1300.4 772.9,1380.2 906.3,1243.9 673.3,1169.3" fill="#ececec" stroke="#ececec"/>
</g>
<polyline points="534.6,1300.4 772.9,1380.2" fill="none" stroke="#000" stroke-width="5.6" stroke-linecap="square"/>
<g fill="none" stroke="#b0b0b0" stroke-width="4.4" stroke-linejoin="round"><polyline points="539.3,1302 677.8,1170.8 673.6,200"/><polyline points="629.9,1332.3 766.4,1199.2 770.7,223.4"/><polyline points="721.8,1363.1 856.3,1227.9 869.4,247.1"/></g>
<g fill="none" stroke="#000" stroke-width="5.6" stroke-linecap="square"><polyline points="538.2,1303 541.6,1299.8"/><polyline points="628.7,1333.4 632.1,1330.1"/><polyline points="720.7,1364.2 724,1360.8"/></g>
<polyline points="906.3,1243.9 772.9,1380.2" fill="none" stroke="#000" stroke-width="5.6" stroke-linecap="square"/>
<g fill="none" stroke="#b0b0b0" stroke-width="4.4" stroke-linejoin="round"><polyline points="519.3,304.6 537.5,1297.7 775.7,1377.4"/><polyline points="578.8,262.4 591.5,1246.6 827.6,1324.3"/><polyline points="636.7,221.4 644.2,1196.8 878.3,1272.5"/></g>
<g fill="none" stroke="#000" stroke-width="5.6" stroke-linecap="square"><polyline points="777.6,1378 771.8,1376.1"/><polyline points="829.6,1324.9 823.8,1323"/><polyline points="880.2,1273.1 874.5,1271.3"/></g>
<polyline points="906.3,1243.9 924.2,260.2" fill="none" stroke="#000" stroke-width="5.6" stroke-linecap="square"/>
<g fill="none" stroke="#b0b0b0" stroke-width="4.4" stroke-linejoin="round"><polyline points="923.8,281.8 668.7,220 516.5,328.7"/><polyline points="920.1,484.7 669.7,419.9 520.4,533.8"/><polyline points="916.6,680.2 670.6,612.8 524,731.4"/><polyline points="913.1,868.9 671.5,798.9 527.6,921.9"/><polyline points="909.8,1051 672.4,978.7 531,1105.7"/><polyline points="906.6,1226.9 673.2,1152.4 534.3,1283.2"/></g>
<g fill="none" stroke="#000" stroke-width="5.6" stroke-linecap="square"><polyline points="925.9,282.3 919.7,280.8"/><polyline points="922.2,485.2 916,483.6"/><polyline points="918.6,680.8 912.5,679.1"/><polyline points="915.1,869.5 909.2,867.8"/><polyline points="911.7,1051.6 905.9,1049.8"/><polyline points="908.5,1227.5 902.8,1225.6"/></g>

<g font-family="'DejaVu Sans','Liberation Sans',sans-serif" font-size="44.4" text-anchor="middle" fill="#000">
<text x="525.8" y="1451.1">0</text>
<text x="617.1" y="1482">150</text>
<text x="707.4" y="1512.9">300</text>
<text x="802.5" y="1521.1">0</text>
<text x="854.5" y="1466.9">150</text>
<text x="904.1" y="1414">300</text>
<text x="968.2" y="311.9">0.0</text>
<text x="964.1" y="515">0.3</text>
<text x="960.8" y="710.3">0.6</text>
<text x="956.5" y="897.5">0.9</text>
<text x="953.8" y="1080.1">1.2</text>
<text x="949.2" y="1256.9">1.5</text>
</g>
<g font-family="'DejaVu Sans','Liberation Sans',sans-serif" font-size="55.6" text-anchor="middle" fill="#000">
<text transform="translate(623.7,1582.4) rotate(17.9)" y="11.1">x (µm)</text>
<text transform="translate(896,1535.7) rotate(-45.4)" y="11.1">y (µm)</text>
<text transform="translate(1061,757.5) rotate(-90)" y="11.1">z (µm)</text>
</g>
<g transform="translate(1083.5,347) rotate(-90)" font-family="'DejaVu Sans','Liberation Sans',sans-serif" fill="#000"><text x="-5.2" y="1.5" font-size="38" font-weight="200">×</text><text x="27.7" y="0" font-size="44.4">10</text><text x="85" y="-16.8" font-size="31.1">3</text></g>
<use href="#v2_10" opacity="0.7"/>
<g opacity="0.5" fill-rule="evenodd" stroke-width="1.2" stroke-linejoin="round"><path d="M547.5 1274.5 770.2 1348.5 894.3 1222.7 676.3 1153.2z" fill="#ffede5"/></g>
<use href="#v2_9" opacity="0.7"/>
<g opacity="0.5" fill-rule="evenodd" stroke-width="1.2" stroke-linejoin="round"><path d="M545.9 1177.9 770.6 1250.8 896 1126.8 675.9 1058.4z" fill="#ffede5"/></g>
<use href="#v2_8" opacity="0.7"/>
<g opacity="0.5" fill-rule="evenodd" stroke-width="1.2" stroke-linejoin="round"><path d="M544.2 1079.4 771.1 1151.1 897.6 1029.1 675.4 961.8z" fill="#ffede5"/><path d="M723 989l3 4 8 4 10 3 10 1 9 0 18 -2 14 -1 -73 -22 -2 6z" fill="#fed9c9" stroke="#fc9b7c"/></g>
<use href="#v2_7" opacity="0.7"/>
<g opacity="0.5" fill-rule="evenodd" stroke-width="1.2" stroke-linejoin="round"><path d="M542.4 978.9 771.6 1049.5 899.3 929.6 675 863.4z" fill="#ffede5"/><path d="M760 1046l12 3 7 -7 -8 0zM724 942l7 4 8 4 10 2 12 1 13 -1 16 -4 9 -3 6 -5 5 -5 4 -12 -3 -7 -3 -5 -7 -6 -8 -4 -9 -3 -10 -2 -12 -1 -17 2 -12 2 -10 4 -7 4 -5 5 -2 6 0 6 5 8 3 4zM830 974l7 3 11 1 25 -24 -7 -5 -11 -1 -13 0 -8 1 -8 4 -5 5 -1 6 2 3 6 6z" fill="#fed9c9" stroke="#fc9b7c"/><path d="M756 938l5 4 6 -1 13 -2 4 -5 10 -10 0 -7 -3 -3 -8 -4 -15 0 -11 3 -5 5 -1 6 1 3 0 4 2 5zM835 962l1 3 8 5 12 0 8 -8 -6 -6 -11 -1 -7 2z" fill="#fcbba1" stroke="#fb7a5a"/><path d="M762 934l3 4 7 -1 3 -6 12 -9 -1 -3 -8 -4 -12 1 -4 5 2 6 3 2z" fill="#fc9b7c" stroke="#f6583e"/></g>
<use href="#v2_6" opacity="0.7"/>
<circle cx="721.6" cy="868" r="14.5" fill="#00f" fill-opacity="0.5"/>
<g opacity="0.5" fill-rule="evenodd" stroke-width="1.2" stroke-linejoin="round"><path d="M540.7 876.5 772.1 945.8 901.1 828.1 674.6 763.1z" fill="#ffede5"/><path d="M689 875l23 8 30 8 21 5 53 10 56 -51 -14 -10 -9 -5 -18 -6 -11 -2 -33 -3 -52 -11 -11 -1 -31 1 -14 2 -12 3 -10 4 -6 4 -4 6 0 6 3 7 5 5 5 5 17 9z" fill="#fed9c9" stroke="#fc9b7c"/><path d="M739 870l29 10 31 6 27 10 27 -24 -6 -15 -6 -9 -7 -5 -11 -2 -8 0 -21 0 -38 3 -16 1 -15 2 -8 4 0 6 6 5z" fill="#fcbba1" stroke="#fb7a5a"/><path d="M761 864l6 5 8 4 10 2 35 4 7 5 9 3 3 -2 -6 -6 1 -7 2 -6 0 -2 4 -9 -2 -4 -7 -5 -11 -2 -13 1 -2 1 -12 1 -14 3 -10 3 -7 4z" fill="#fc9b7c" stroke="#f6583e"/><path d="M777 862l5 5 9 3 17 1 12 -3 12 -9 3 -6 -5 -6 -11 -2 -8 1 -12 5 -8 2 -10 3z" fill="#fb7a5a" stroke="#e83429"/><path d="M797 861l2 2 4 0 25 -5 5 -5 -4 -6 -15 0 -7 4 -3 6z" fill="#f6583e" stroke="#ca181d"/><path d="M811 853l6 5 9 -1 5 -5 -3 -4 -10 0z" fill="#e83429" stroke="#ac1117"/><path d="M816 854l3 3 4 -1 6 -5 -2 -2 -6 0z" fill="#ca181d" stroke="#7e0610"/><path d="M824 850l-3 5 6 -4 -1 -1z" fill="#ac1117" stroke="#7e0610"/></g>
<use href="#v2_5" opacity="0.7"/>
<g opacity="0.5" fill-rule="evenodd" stroke-width="1.2" stroke-linejoin="round"><path d="M538.8 772.1 772.6 840 902.8 724.6 674.1 660.9z" fill="#ffede5"/><path d="M673 791l8 3 11 2 12 1 22 -3 11 -3 7 -5 4 -5 1 -6 -2 -4 -5 -6 -8 -5 -9 -3 -12 -2 -10 0 -15 2 -12 3 -9 4 -6 5 -3 5 0 7 6 6z" fill="#fed9c9" stroke="#fc9b7c"/></g>
<use href="#v2_4" opacity="0.7"/>
<g opacity="0.5" fill-rule="evenodd" stroke-width="1.2" stroke-linejoin="round"><path d="M537 665.5 773.1 732.1 904.6 619 673.6 556.7z" fill="#ffede5"/><path d="M564 667l5 4 10 3 14 -1 9 -2 8 -4 1 -6 -1 -2 -7 -4 -11 -2 -9 0 -13 3 -6 4 -1 5z" fill="#fed9c9" stroke="#fc9b7c"/></g>
<use href="#v2_3" opacity="0.7"/>
<g opacity="0.5" fill-rule="evenodd" stroke-width="1.2" stroke-linejoin="round"><path d="M535.1 556.8 773.7 621.9 906.5 511.3 673.2 450.4z" fill="#ffede5"/></g>
<use href="#v2_2" opacity="0.7"/>
<g opacity="0.5" fill-rule="evenodd" stroke-width="1.2" stroke-linejoin="round"><path d="M533.2 445.8 774.2 509.4 908.3 401.5 672.7 342.1z" fill="#ffede5"/></g>
<use href="#v2_1" opacity="0.7"/>
<g opacity="0.5" fill-rule="evenodd" stroke-width="1.2" stroke-linejoin="round"><path d="M531.2 332.6 774.8 394.5 910.3 289.3 672.2 231.5z" fill="#ffede5"/></g>
<use href="#v2_0" opacity="0.7"/>
</g>
<g transform="translate(0,1666.6)">
<g opacity="0.5" stroke-width="5.6" stroke-linejoin="miter">
<polygon points="516.1,306.9 668.6,198.8 673.3,1169.3 534.6,1300.4" fill="#f2f2f2" stroke="#f2f2f2"/>
<polygon points="668.6,198.8 924.2,260.2 906.3,1243.9 673.3,1169.3" fill="#e6e6e6" stroke="#e6e6e6"/>
<polygon points="534.6,1300.4 772.9,1380.2 906.3,1243.9 673.3,1169.3" fill="#ececec" stroke="#ececec"/>
</g>
<polyline points="534.6,1300.4 772.9,1380.2" fill="none" stroke="#000" stroke-width="5.6" stroke-linecap="square"/>
<g fill="none" stroke="#b0b0b0" stroke-width="4.4" stroke-linejoin="round"><polyline points="539.3,1302 677.8,1170.8 673.6,200"/><polyline points="629.9,1332.3 766.4,1199.2 770.7,223.4"/><polyline points="721.8,1363.1 856.3,1227.9 869.4,247.1"/></g>
<g fill="none" stroke="#000" stroke-width="5.6" stroke-linecap="square"><polyline points="538.2,1303 541.6,1299.8"/><polyline points="628.7,1333.4 632.1,1330.1"/><polyline points="720.7,1364.2 724,1360.8"/></g>
<polyline points="906.3,1243.9 772.9,1380.2" fill="none" stroke="#000" stroke-width="5.6" stroke-linecap="square"/>
<g fill="none" stroke="#b0b0b0" stroke-width="4.4" stroke-linejoin="round"><polyline points="519.3,304.6 537.5,1297.7 775.7,1377.4"/><polyline points="578.8,262.4 591.5,1246.6 827.6,1324.3"/><polyline points="636.7,221.4 644.2,1196.8 878.3,1272.5"/></g>
<g fill="none" stroke="#000" stroke-width="5.6" stroke-linecap="square"><polyline points="777.6,1378 771.8,1376.1"/><polyline points="829.6,1324.9 823.8,1323"/><polyline points="880.2,1273.1 874.5,1271.3"/></g>
<polyline points="906.3,1243.9 924.2,260.2" fill="none" stroke="#000" stroke-width="5.6" stroke-linecap="square"/>
<g fill="none" stroke="#b0b0b0" stroke-width="4.4" stroke-linejoin="round"><polyline points="923.8,281.8 668.7,220 516.5,328.7"/><polyline points="920.1,484.7 669.7,419.9 520.4,533.8"/><polyline points="916.6,680.2 670.6,612.8 524,731.4"/><polyline points="913.1,868.9 671.5,798.9 527.6,921.9"/><polyline points="909.8,1051 672.4,978.7 531,1105.7"/><polyline points="906.6,1226.9 673.2,1152.4 534.3,1283.2"/></g>
<g fill="none" stroke="#000" stroke-width="5.6" stroke-linecap="square"><polyline points="925.9,282.3 919.7,280.8"/><polyline points="922.2,485.2 916,483.6"/><polyline points="918.6,680.8 912.5,679.1"/><polyline points="915.1,869.5 909.2,867.8"/><polyline points="911.7,1051.6 905.9,1049.8"/><polyline points="908.5,1227.5 902.8,1225.6"/></g>

<g font-family="'DejaVu Sans','Liberation Sans',sans-serif" font-size="44.4" text-anchor="middle" fill="#000">
<text x="525.8" y="1451.1">0</text>
<text x="617.1" y="1482">150</text>
<text x="707.4" y="1512.9">300</text>
<text x="802.5" y="1521.1">0</text>
<text x="854.5" y="1466.9">150</text>
<text x="904.1" y="1414">300</text>
<text x="968.2" y="311.9">0.0</text>
<text x="964.1" y="515">0.3</text>
<text x="960.8" y="710.3">0.6</text>
<text x="956.5" y="897.5">0.9</text>
<text x="953.8" y="1080.1">1.2</text>
<text x="949.2" y="1256.9">1.5</text>
</g>
<g font-family="'DejaVu Sans','Liberation Sans',sans-serif" font-size="55.6" text-anchor="middle" fill="#000">
<text transform="translate(623.7,1582.4) rotate(17.9)" y="11.1">x (µm)</text>
<text transform="translate(896,1535.7) rotate(-45.4)" y="11.1">y (µm)</text>
<text transform="translate(1061,757.5) rotate(-90)" y="11.1">z (µm)</text>
</g>
<g transform="translate(1083.5,347) rotate(-90)" font-family="'DejaVu Sans','Liberation Sans',sans-serif" fill="#000"><text x="-5.2" y="1.5" font-size="38" font-weight="200">×</text><text x="27.7" y="0" font-size="44.4">10</text><text x="85" y="-16.8" font-size="31.1">3</text></g>
<use href="#v0_10"/>

<use href="#v0_9"/>

<use href="#v0_8"/>

<use href="#v0_7"/>

<use href="#v0_6"/>
<polyline points="595.6,873.2 605.1,876.1 571,872.5 580.4,875.3 589.9,878.1 599.4,880.9 608.9,883.8 565.3,877.3 574.7,880.1 584.2,883 593.7,885.8" fill="none" stroke="none" marker-start="url(#dm)" marker-mid="url(#dm)" marker-end="url(#dm)"/>
<use href="#v0_5"/>
<polyline points="601.8,720.4 611.2,723.1 620.7,725.8 596.1,725 605.6,727.7 615,730.4 590.5,729.7 599.9,732.4 609.4,735.1 584.8,734.3 594.3,737 603.7,739.8 613.2,742.5 579.1,739 588.6,741.7 598.1,744.4 607.6,747.2 582.9,746.4 592.4,749.1 601.9,751.9 577.2,751.1 586.7,753.9 596.2,756.6 571.4,755.8 581,758.6 590.5,761.3 600,764.1 556.2,757.8 565.7,760.6 575.2,763.3 584.8,766.1 594.3,768.8 550.4,762.6 559.9,765.3 569.5,768.1 579,770.8 588.6,773.6 544.6,767.3 554.2,770.1 563.7,772.8 573.3,775.6 582.8,778.4 592.4,781.2 538.8,772.1 548.4,774.9 557.9,777.6 567.5,780.4 577.1,783.2 586.7,786" fill="none" stroke="none" marker-start="url(#dm)" marker-mid="url(#dm)" marker-end="url(#dm)"/>
<use href="#v0_4"/>
<polyline points="673.3,557 682.7,559.5 692.1,562.1 701.6,564.6 711.1,567.2 720.5,569.7 854.9,606 864.6,608.6 874.4,611.2 884.1,613.9 893.9,616.5 903.6,619.1 667.8,561.4 677.2,563.9 686.6,566.5 696.1,569 705.6,571.6 715.1,574.2 724.6,576.7 830.2,605.3 839.9,607.9 849.6,610.5 859.3,613.1 869,615.8 878.8,618.4 888.6,621 898.3,623.7 671.7,568.3 681.1,570.9 690.6,573.5 700.1,576 709.6,578.6 719.1,581.2 834.5,612.4 844.2,615 854,617.7 863.7,620.3 873.5,622.9 883.2,625.6 893,628.2 666.2,572.7 675.6,575.3 685.1,577.9 694.6,580.5 704.1,583 713.6,585.6 838.9,619.6 848.6,622.2 858.4,624.9 868.1,627.5 877.9,630.2 887.7,632.8 660.6,577.2 670.1,579.7 679.6,582.3 689.1,584.9 698.6,587.5 708.2,590.1 717.7,592.7 833.5,624.1 843.2,626.8 853,629.4 862.8,632.1 872.6,634.7 882.4,637.4 655.1,581.6 664.6,584.2 674.1,586.8 683.6,589.4 693.1,592 702.6,594.5 712.2,597.2 837.8,631.3 847.6,634 857.4,636.7 867.2,639.3 877,642 649.5,586.1 659,588.6 668.5,591.2 678,593.8 687.6,596.4 697.1,599 706.7,601.6 842.2,638.6 852,641.3 861.8,643.9 871.7,646.6 643.9,590.5 653.4,593.1 662.9,595.7 672.5,598.3 682,600.9 691.6,603.5 701.1,606.1 846.6,645.9 856.4,648.6 866.3,651.2 638.3,595 647.8,597.6 657.4,600.2 666.9,602.8 676.4,605.4 686,608 851,653.2 860.9,655.9 632.7,599.5 642.2,602.1 651.8,604.7 661.3,607.3 670.9,609.9 855.5,660.5 627.1,604 636.6,606.6 646.1,609.2 655.7,611.8 830.3,659.8 840.2,662.5 621.4,608.5 631,611.1 640.5,613.7 650.1,616.4 824.9,664.5 834.7,667.2 615.8,613 625.3,615.6 634.9,618.3 644.4,620.9 654,623.5 809.5,666.4 819.4,669.1 829.3,671.8 839.1,674.6 610.1,617.5 619.7,620.2 629.2,622.8 638.8,625.5 648.4,628.1 804,671.1 813.9,673.8 823.8,676.5 833.7,679.3 594.9,619.4 604.4,622.1 614,624.7 623.5,627.4 633.1,630 642.7,632.7 652.4,635.3 798.5,675.8 808.4,678.5 818.3,681.3 828.2,684 589.1,624 598.7,626.6 608.3,629.3 617.9,631.9 627.5,634.6 637.1,637.3 646.7,639.9 783.1,677.8 793,680.5 802.9,683.2 812.8,686 822.7,688.7 583.4,628.6 593,631.2 602.6,633.9 612.1,636.5 621.8,639.2 631.4,641.9 641,644.5 650.7,647.2 777.6,682.5 787.5,685.2 797.4,688 807.3,690.7 817.2,693.5 577.7,633.1 587.2,635.8 596.8,638.5 606.4,641.1 616,643.8 625.7,646.5 635.3,649.2 645,651.9 762.2,684.5 772,687.2 781.9,689.9 791.8,692.7 801.7,695.5 811.6,698.2 571.9,637.7 581.5,640.4 591.1,643.1 600.7,645.7 610.3,648.4 620,651.1 629.6,653.8 639.3,656.5 649,659.2 746.7,686.4 756.6,689.2 766.4,691.9 776.3,694.7 786.2,697.5 796.2,700.2 806.1,703 566.1,642.3 575.7,645 585.3,647.7 594.9,650.4 604.6,653.1 614.2,655.7 623.9,658.4 633.6,661.2 643.3,663.9 653,666.6 662.7,669.3 741.1,691.2 750.9,693.9 760.8,696.7 770.7,699.5 780.7,702.2 790.6,705 800.5,707.8 560.3,646.9 569.9,649.6 579.5,652.3 589.2,655 598.8,657.7 608.5,660.4 618.1,663.1 627.8,665.8 637.5,668.5 647.3,671.3 657,674 666.7,676.7 676.5,679.4 686.3,682.2 696.1,684.9 705.9,687.7 715.7,690.4 725.6,693.2 735.4,695.9 745.3,698.7 755.2,701.5 765.1,704.2 775.1,707 785,709.8 795,712.6 554.5,651.6 564.1,654.3 573.8,657 583.4,659.7 593,662.4 602.7,665.1 612.4,667.8 622.1,670.5 631.8,673.2 641.5,675.9 651.3,678.7 661,681.4 670.8,684.2 680.6,686.9 690.4,689.6 700.2,692.4 710.1,695.2 719.9,697.9 729.8,700.7 739.7,703.5 749.6,706.2 759.5,709 769.4,711.8 779.4,714.6 789.4,717.4 548.7,656.2 558.3,658.9 567.9,661.6 577.6,664.3 587.2,667 596.9,669.7 606.6,672.5 616.3,675.2 626,677.9 635.8,680.7 645.5,683.4 655.3,686.1 665.1,688.9 674.9,691.6 684.7,694.4 694.5,697.2 704.4,699.9 714.3,702.7 724.1,705.5 734,708.2 743.9,711 753.9,713.8 763.8,716.6 773.8,719.4 783.8,722.2 542.9,660.9 552.5,663.6 562.1,666.3 571.8,669 581.4,671.7 591.1,674.4 600.8,677.2 610.5,679.9 620.3,682.6 630,685.4 639.8,688.1 649.6,690.9 659.4,693.6 669.2,696.4 679,699.1 688.8,701.9 698.7,704.7 708.6,707.5 718.4,710.3 728.4,713 738.3,715.8 748.2,718.6 758.2,721.4 768.1,724.2 778.1,727 537,665.5 546.6,668.2 556.3,671 565.9,673.7 575.6,676.4 585.3,679.1 595,681.9 604.7,684.6 614.5,687.4 624.2,690.1 634,692.9 643.8,695.6 653.6,698.4 663.4,701.1 673.3,703.9 683.1,706.7 693,709.5 702.9,712.3 712.8,715.1 722.7,717.8 732.6,720.6 742.5,723.5 752.5,726.3 762.5,729.1 772.5,731.9" fill="none" stroke="none" marker-start="url(#dm)" marker-mid="url(#dm)" marker-end="url(#dm)"/>
<use href="#v0_3"/>
<polyline points="672.8,450.7 682.3,453.2 691.8,455.7 701.4,458.2 711,460.7 720.5,463.2 730.1,465.7 739.7,468.2 749.4,470.7 759,473.2 768.7,475.7 778.3,478.3 788,480.8 797.7,483.3 807.4,485.9 817.2,488.4 826.9,490.9 836.7,493.5 846.5,496 856.3,498.6 866.1,501.2 875.9,503.7 885.7,506.3 895.6,508.9 905.5,511.4 667.2,455 676.8,457.5 686.3,460 695.9,462.5 705.4,465 715,467.5 724.6,470 734.2,472.5 743.9,475 753.5,477.6 763.2,480.1 772.9,482.6 782.6,485.2 792.3,487.7 802,490.2 811.7,492.8 821.5,495.3 831.3,497.9 841.1,500.5 850.9,503 860.7,505.6 870.5,508.2 880.4,510.7 890.2,513.3 900.1,515.9 661.7,459.3 671.2,461.8 680.7,464.3 690.3,466.8 699.9,469.3 709.5,471.8 719.1,474.3 728.7,476.9 738.4,479.4 748,481.9 757.7,484.5 767.4,487 777.1,489.5 786.8,492.1 796.6,494.6 806.3,497.2 816.1,499.7 825.8,502.3 835.6,504.9 845.5,507.4 855.3,510 865.1,512.6 875,515.2 884.9,517.8 894.8,520.4 656.1,463.6 665.6,466.1 675.2,468.6 684.8,471.1 694.3,473.6 703.9,476.2 713.6,478.7 723.2,481.2 732.9,483.8 742.5,486.3 752.2,488.8 761.9,491.4 771.6,493.9 781.3,496.5 791.1,499 800.8,501.6 810.6,504.2 820.4,506.7 830.2,509.3 840,511.9 849.9,514.5 859.7,517 869.6,519.6 879.5,522.2 889.4,524.8 650.5,467.9 660,470.4 669.6,472.9 679.2,475.5 688.8,478 698.4,480.5 708,483 717.7,485.6 727.3,488.1 737,490.7 746.7,493.2 756.4,495.8 766.1,498.3 775.9,500.9 785.6,503.4 795.4,506 805.2,508.6 815,511.2 824.8,513.7 834.6,516.3 844.5,518.9 854.3,521.5 864.2,524.1 874.1,526.7 884,529.3 644.8,472.3 654.4,474.8 664,477.3 673.6,479.8 683.2,482.3 692.8,484.9 702.5,487.4 712.1,490 721.8,492.5 731.5,495.1 741.2,497.6 750.9,500.2 760.6,502.7 770.3,505.3 780.1,507.9 789.9,510.4 799.7,513 809.5,515.6 819.3,518.2 829.2,520.8 839,523.4 848.9,526 858.8,528.6 868.7,531.2 878.6,533.8 639.2,476.6 648.8,479.1 658.4,481.6 668,484.2 677.6,486.7 687.2,489.3 696.9,491.8 706.5,494.4 716.2,496.9 725.9,499.5 735.6,502 774.6,512.3 784.4,514.9 794.2,517.5 804,520.1 813.8,522.7 823.7,525.3 833.6,527.9 843.4,530.5 853.3,533.1 863.2,535.7 873.2,538.3 633.6,480.9 643.1,483.5 652.7,486 662.4,488.6 672,491.1 681.6,493.6 691.3,496.2 700.9,498.8 710.6,501.3 788.7,521.9 798.5,524.5 808.4,527.1 818.2,529.7 828.1,532.4 838,535 847.9,537.6 857.8,540.2 867.7,542.8 627.9,485.3 637.5,487.8 647.1,490.4 656.7,492.9 666.3,495.5 676,498 685.7,500.6 695.3,503.2 793,529 802.8,531.6 812.7,534.2 822.6,536.9 832.5,539.5 842.4,542.1 852.3,544.7 862.3,547.4 622.2,489.7 631.8,492.2 641.4,494.8 651.1,497.3 660.7,499.9 670.4,502.5 680,505 787.5,533.5 797.3,536.1 807.2,538.8 817.1,541.4 827,544 836.9,546.6 846.9,549.3 856.8,551.9 616.5,494.1 626.1,496.6 635.8,499.2 645.4,501.7 655,504.3 664.7,506.9 674.4,509.4 791.8,540.7 801.7,543.3 811.6,545.9 821.5,548.5 831.4,551.2 841.4,553.8 851.4,556.5 610.8,498.5 620.4,501 630.1,503.6 639.7,506.2 649.4,508.7 659,511.3 668.7,513.9 786.2,545.2 796.1,547.8 806.1,550.5 816,553.1 825.9,555.7 835.9,558.4 845.9,561.1 605.1,502.9 614.7,505.5 624.4,508 634,510.6 643.7,513.2 653.4,515.8 663.1,518.3 780.7,549.7 790.6,552.4 800.5,555 810.4,557.7 820.4,560.3 830.4,563 840.3,565.6 599.3,507.3 609,509.9 618.6,512.5 628.3,515 638,517.6 647.7,520.2 657.4,522.8 775.1,554.3 785,556.9 794.9,559.6 804.9,562.2 814.8,564.9 824.8,567.6 834.8,570.2 593.6,511.7 603.2,514.3 612.9,516.9 622.6,519.5 632.2,522.1 641.9,524.7 651.7,527.3 661.4,529.9 769.5,558.8 779.4,561.5 789.4,564.2 799.3,566.8 809.3,569.5 819.3,572.2 829.3,574.9 587.8,516.2 597.5,518.8 607.1,521.4 616.8,524 626.5,526.6 636.2,529.2 645.9,531.8 655.7,534.4 665.4,537 754,560.8 763.9,563.4 773.8,566.1 783.8,568.8 793.7,571.4 803.7,574.1 813.7,576.8 823.7,579.5 582,520.7 591.7,523.2 601.4,525.8 611,528.5 620.7,531.1 630.5,533.7 640.2,536.3 650,538.9 659.7,541.5 669.5,544.2 728.5,560 738.4,562.7 748.3,565.3 758.3,568 768.2,570.7 778.2,573.4 788.1,576 798.1,578.7 808.1,581.4 818.2,584.1 576.2,525.1 585.9,527.7 595.6,530.3 605.3,532.9 615,535.6 624.7,538.2 634.4,540.8 644.2,543.4 654,546.1 663.8,548.7 673.6,551.3 683.4,554 693.2,556.6 703.1,559.3 713,561.9 722.9,564.6 732.8,567.3 742.7,569.9 752.6,572.6 762.6,575.3 772.5,578 782.5,580.7 792.5,583.4 802.5,586.1 812.6,588.8 570.4,529.6 580.1,532.2 589.8,534.8 599.5,537.5 609.2,540.1 618.9,542.7 628.7,545.3 638.4,548 648.2,550.6 658,553.3 667.8,555.9 677.7,558.6 687.5,561.2 697.4,563.9 707.3,566.5 717.2,569.2 727.1,571.9 737,574.6 747,577.2 756.9,579.9 766.9,582.6 776.9,585.3 786.9,588 796.9,590.7 807,593.4 564.6,534.1 574.2,536.7 583.9,539.3 593.7,542 603.4,544.6 613.1,547.2 622.9,549.9 632.7,552.5 642.5,555.2 652.3,557.8 662.1,560.5 671.9,563.1 681.8,565.8 691.7,568.5 701.6,571.1 711.5,573.8 721.4,576.5 731.3,579.2 741.3,581.9 751.2,584.6 761.2,587.3 771.2,590 781.3,592.7 791.3,595.4 801.3,598.1 558.7,538.6 568.4,541.2 578.1,543.9 587.8,546.5 597.6,549.1 607.3,551.8 617.1,554.4 626.9,557.1 636.7,559.7 646.5,562.4 656.3,565.1 666.2,567.7 676,570.4 685.9,573.1 695.8,575.8 705.7,578.4 715.7,581.1 725.6,583.8 735.6,586.5 745.6,589.2 755.6,591.9 765.6,594.6 775.6,597.4 785.7,600.1 795.7,602.8 552.8,543.1 562.5,545.8 572.2,548.4 582,551.1 591.7,553.7 601.5,556.3 611.3,559 621.1,561.7 630.9,564.3 640.7,567 650.6,569.7 660.4,572.3 670.3,575 680.2,577.7 690.1,580.4 700,583.1 709.9,585.8 719.9,588.5 729.9,591.2 739.9,593.9 749.9,596.6 759.9,599.3 769.9,602 780,604.8 790.1,607.5 546.9,547.7 556.7,550.3 566.4,553 576.1,555.6 585.9,558.3 595.7,560.9 605.4,563.6 615.2,566.2 625.1,568.9 634.9,571.6 644.8,574.3 654.6,576.9 664.5,579.6 674.4,582.3 684.3,585 694.3,587.7 704.2,590.4 714.2,593.1 724.2,595.8 734.2,598.6 744.2,601.3 754.2,604 764.2,606.7 774.3,609.5 784.4,612.2 541,552.2 550.8,554.9 560.5,557.5 570.2,560.2 580,562.8 589.8,565.5 599.6,568.2 609.4,570.8 619.2,573.5 629.1,576.2 638.9,578.9 648.8,581.6 658.7,584.3 668.6,587 678.5,589.7 688.5,592.4 698.4,595.1 708.4,597.8 718.4,600.5 728.4,603.3 738.4,606 748.5,608.7 758.5,611.5 768.6,614.2 778.7,616.9 535.1,556.8 544.8,559.4 554.6,562.1 564.3,564.8 574.1,567.4 583.9,570.1 593.7,572.8 603.5,575.5 613.4,578.1 623.2,580.8 633.1,583.5 643,586.2 652.9,588.9 662.8,591.6 672.8,594.3 682.7,597.1 692.7,599.8 702.7,602.5 712.7,605.2 722.7,608 732.7,610.7 742.8,613.4 752.8,616.2 762.9,618.9 773,621.7" fill="none" stroke="none" marker-start="url(#dm)" marker-mid="url(#dm)" marker-end="url(#dm)"/>
<use href="#v0_2"/>
<circle cx="721" cy="486" r="14.5" fill="#00f" fill-opacity="1"/>
<polyline points="672.3,342.3 681.9,344.8 691.5,347.2 701.2,349.6 710.8,352.1 720.5,354.5 730.2,356.9 739.9,359.4 749.6,361.8 759.4,364.3 769.1,366.7 778.9,369.2 788.7,371.7 798.5,374.1 808.3,376.6 818.1,379.1 828,381.6 837.8,384.1 847.7,386.5 857.6,389 867.5,391.5 877.4,394 887.4,396.5 897.3,399.1 907.3,401.6 666.7,346.5 676.3,348.9 685.9,351.4 695.6,353.8 705.3,356.3 715,358.7 724.7,361.2 734.4,363.6 744.1,366.1 753.8,368.5 763.6,371 773.4,373.5 783.2,375.9 793,378.4 802.8,380.9 812.6,383.4 822.5,385.9 832.4,388.4 842.3,390.8 852.2,393.3 862.1,395.9 872,398.4 882,400.9 891.9,403.4 901.9,405.9 661.1,350.7 670.7,353.1 680.3,355.6 690,358 699.7,360.5 709.4,362.9 719.1,365.4 728.8,367.8 738.5,370.3 748.3,372.8 758.1,375.2 767.9,377.7 777.7,380.2 787.5,382.7 797.3,385.2 807.2,387.7 817,390.2 826.9,392.7 836.8,395.2 846.7,397.7 856.6,400.2 866.6,402.7 876.5,405.2 886.5,407.7 896.5,410.3 655.4,354.9 665.1,357.3 674.7,359.8 684.4,362.2 694.1,364.7 703.8,367.2 713.5,369.6 723.2,372.1 733,374.6 742.7,377 752.5,379.5 762.3,382 772.1,384.5 781.9,387 791.8,389.5 801.6,392 811.5,394.5 821.4,397 831.3,399.5 841.2,402 851.2,404.5 861.1,407 871.1,409.6 881.1,412.1 891.1,414.6 649.8,359.1 659.4,361.6 669.1,364 678.7,366.5 688.4,368.9 698.2,371.4 707.9,373.9 717.6,376.3 727.4,378.8 737.2,381.3 746.9,383.8 756.7,386.3 766.6,388.8 776.4,391.3 786.3,393.8 796.1,396.3 806,398.8 815.9,401.3 825.8,403.8 835.8,406.3 845.7,408.9 855.7,411.4 865.6,413.9 875.6,416.5 885.7,419 644.1,363.3 653.7,365.8 663.4,368.3 673.1,370.7 682.8,373.2 692.5,375.7 702.3,378.1 712,380.6 721.8,383.1 731.6,385.6 770.8,395.6 780.7,398.1 790.6,400.6 800.5,403.1 810.4,405.6 820.3,408.2 830.2,410.7 840.2,413.2 850.2,415.8 860.2,418.3 870.2,420.8 880.2,423.4 638.4,367.6 648.1,370 657.7,372.5 667.4,375 677.1,377.4 686.9,379.9 696.6,382.4 706.4,384.9 785,404.9 794.9,407.5 804.8,410 814.8,412.5 824.7,415.1 834.7,417.6 844.7,420.1 854.7,422.7 864.7,425.2 874.7,427.8 632.7,371.8 642.4,374.3 652,376.8 661.8,379.2 671.5,381.7 681.2,384.2 691,386.7 789.4,411.8 799.3,414.3 809.2,416.9 819.2,419.4 829.2,422 839.2,424.5 849.2,427.1 859.2,429.6 869.2,432.2 627,376.1 636.6,378.5 646.3,381 656.1,383.5 665.8,386 675.5,388.5 793.7,418.7 803.7,421.3 813.6,423.8 823.6,426.4 833.6,428.9 843.6,431.5 853.7,434.1 863.7,436.6 621.2,380.3 630.9,382.8 640.6,385.3 650.3,387.8 660.1,390.3 669.8,392.8 788.1,423.1 798.1,425.7 808.1,428.2 818.1,430.8 828.1,433.4 838.1,435.9 848.2,438.5 858.2,441.1 615.5,384.6 625.2,387.1 634.9,389.6 644.6,392.1 654.4,394.6 664.1,397.1 792.5,430.1 802.5,432.6 812.5,435.2 822.5,437.8 832.6,440.4 842.6,442.9 852.7,445.5 609.7,388.9 619.4,391.4 629.1,393.9 638.9,396.4 648.6,398.9 658.4,401.4 786.9,434.5 796.9,437.1 806.9,439.6 816.9,442.2 827,444.8 837.1,447.4 847.1,450 603.9,393.2 613.6,395.7 623.4,398.2 633.1,400.7 642.9,403.3 652.7,405.8 781.3,438.9 791.3,441.5 801.3,444.1 811.4,446.7 821.4,449.3 831.5,451.9 841.6,454.5 598.1,397.5 607.8,400 617.6,402.6 627.3,405.1 637.1,407.6 646.9,410.1 656.7,412.7 785.7,446 795.7,448.5 805.7,451.1 815.8,453.7 825.9,456.3 836,459 592.3,401.9 602,404.4 611.8,406.9 621.5,409.4 631.3,412 641.1,414.5 650.9,417 770,447.8 780,450.4 790.1,453 800.1,455.6 810.2,458.2 820.3,460.8 830.4,463.5 586.5,406.2 596.2,408.7 606,411.3 615.7,413.8 625.5,416.3 635.3,418.9 645.2,421.4 655,424 764.3,452.3 774.4,454.9 784.4,457.5 794.5,460.1 804.6,462.7 814.7,465.3 824.8,468 580.6,410.6 590.4,413.1 600.1,415.6 609.9,418.2 619.7,420.7 629.5,423.3 639.4,425.8 649.2,428.4 748.6,454.2 758.6,456.8 768.7,459.4 778.7,462 788.8,464.6 798.9,467.2 809,469.9 819.2,472.5 574.7,414.9 584.5,417.5 594.3,420 604.1,422.6 613.9,425.1 623.7,427.7 633.6,430.2 643.4,432.8 653.3,435.4 663.2,437.9 732.9,456.1 742.9,458.7 752.9,461.3 763,463.9 773.1,466.5 783.1,469.1 793.3,471.8 803.4,474.4 813.5,477 568.9,419.3 578.6,421.8 588.4,424.4 598.2,427 608,429.5 617.9,432.1 627.7,434.6 637.6,437.2 647.5,439.8 657.4,442.4 667.3,445 677.2,447.5 697.1,452.7 707.1,455.3 717.1,457.9 727.1,460.6 737.2,463.2 747.2,465.8 757.3,468.4 767.4,471 777.5,473.7 787.6,476.3 797.7,478.9 807.9,481.6 563,423.7 572.7,426.2 582.5,428.8 592.3,431.4 602.2,433.9 612,436.5 621.9,439.1 631.8,441.7 641.6,444.2 651.6,446.8 661.5,449.4 671.4,452 681.4,454.6 691.4,457.2 701.4,459.8 711.4,462.4 721.4,465.1 731.4,467.7 741.5,470.3 751.6,472.9 761.6,475.6 771.8,478.2 781.9,480.9 792,483.5 802.2,486.2 557,428.1 566.8,430.7 576.6,433.2 586.5,435.8 596.3,438.4 606.1,440.9 616,443.5 625.9,446.1 635.8,448.7 645.7,451.3 655.7,453.9 665.6,456.5 675.6,459.1 685.6,461.7 695.6,464.3 705.6,467 715.6,469.6 725.7,472.2 735.7,474.8 745.8,477.5 755.9,480.1 766,482.8 776.2,485.4 786.3,488.1 796.5,490.7 551.1,432.5 560.9,435.1 570.7,437.6 580.5,440.2 590.4,442.8 600.3,445.4 610.1,448 620,450.6 629.9,453.2 639.9,455.8 649.8,458.4 659.8,461 669.8,463.6 679.7,466.2 689.8,468.8 699.8,471.5 709.8,474.1 719.9,476.7 730,479.4 740.1,482 750.2,484.7 760.3,487.3 770.4,490 780.6,492.7 790.8,495.3 545.2,436.9 555,439.5 564.8,442.1 574.6,444.7 584.5,447.3 594.4,449.9 604.2,452.4 614.1,455.1 624.1,457.7 634,460.3 644,462.9 653.9,465.5 663.9,468.1 673.9,470.7 683.9,473.4 694,476 704,478.7 714.1,481.3 724.2,483.9 734.3,486.6 744.4,489.3 754.5,491.9 764.7,494.6 774.9,497.3 785.1,499.9 539.2,441.4 549,444 558.8,446.5 568.7,449.1 578.5,451.7 588.4,454.3 598.3,456.9 608.2,459.5 618.2,462.2 628.1,464.8 638.1,467.4 648.1,470 658.1,472.6 668.1,475.3 678.1,477.9 688.1,480.6 698.2,483.2 708.3,485.9 718.4,488.5 728.5,491.2 738.6,493.8 748.8,496.5 758.9,499.2 769.1,501.9 779.3,504.5 533.2,445.8 543,448.4 552.9,451 562.7,453.6 572.6,456.2 582.5,458.8 592.4,461.4 602.3,464 612.3,466.7 622.2,469.3 632.2,471.9 642.2,474.6 652.2,477.2 662.2,479.8 672.2,482.5 682.3,485.1 692.4,487.8 702.5,490.4 712.6,493.1 722.7,495.8 732.8,498.4 743,501.1 753.2,503.8 763.3,506.5 773.6,509.2" fill="none" stroke="none" marker-start="url(#dm)" marker-mid="url(#dm)" marker-end="url(#dm)"/>
<use href="#v0_1"/>
<polyline points="671.8,231.8 681.5,234.1 691.2,236.5 701,238.9 710.7,241.2 720.5,243.6 730.3,246 740.1,248.4 749.9,250.7 759.8,253.1 769.6,255.5 779.5,257.9 789.4,260.3 799.3,262.7 809.2,265.1 819.1,267.6 829.1,270 839,272.4 849,274.8 859,277.2 869,279.7 879,282.1 889.1,284.6 899.1,287 909.2,289.4 666.1,235.8 675.9,238.2 685.6,240.6 695.3,242.9 705.1,245.3 714.9,247.7 724.7,250.1 734.5,252.5 744.3,254.9 754.2,257.3 764,259.7 773.9,262.1 783.8,264.5 793.7,266.9 803.6,269.3 813.6,271.7 823.5,274.1 833.5,276.6 843.5,279 853.5,281.4 863.5,283.9 873.6,286.3 883.6,288.8 893.7,291.2 903.8,293.7 660.4,239.9 670.2,242.3 679.9,244.7 689.7,247 699.5,249.4 709.2,251.8 719.1,254.2 728.9,256.6 738.7,259 748.6,261.4 758.4,263.8 768.3,266.2 778.2,268.6 788.1,271.1 798.1,273.5 808,275.9 818,278.3 828,280.8 838,283.2 848,285.6 858,288.1 868.1,290.5 878.1,293 888.2,295.5 898.3,297.9 654.7,244 664.5,246.4 674.2,248.8 684,251.2 693.8,253.5 703.6,255.9 713.4,258.3 723.2,260.7 733.1,263.1 742.9,265.5 752.8,268 762.7,270.4 772.6,272.8 782.6,275.2 792.5,277.7 802.5,280.1 812.4,282.5 822.4,285 832.4,287.4 842.5,289.9 852.5,292.3 862.6,294.8 872.6,297.2 882.7,299.7 892.8,302.2 649,248.1 658.8,250.5 668.5,252.9 678.3,255.3 688.1,257.7 697.9,260.1 707.7,262.5 717.6,264.9 727.4,267.3 737.3,269.7 747.2,272.1 757.1,274.6 767,277 777,279.4 786.9,281.8 796.9,284.3 806.9,286.7 816.9,289.2 826.9,291.6 836.9,294.1 847,296.5 857,299 867.1,301.5 877.2,303.9 887.3,306.4 643.3,252.2 653,254.6 662.8,257 672.6,259.4 682.4,261.8 692.2,264.2 702.1,266.6 711.9,269 721.8,271.5 731.7,273.9 741.6,276.3 751.5,278.7 761.4,281.2 771.3,283.6 781.3,286.1 791.3,288.5 801.3,291 811.3,293.4 821.3,295.9 831.4,298.3 841.4,300.8 851.5,303.3 861.6,305.7 871.7,308.2 881.8,310.7 637.5,256.3 647.3,258.7 657.1,261.1 666.9,263.5 676.7,266 686.5,268.4 696.4,270.8 706.2,273.2 716.1,275.6 726,278.1 735.9,280.5 745.8,282.9 755.8,285.4 765.7,287.8 775.7,290.3 785.7,292.7 795.7,295.2 805.7,297.6 815.7,300.1 825.8,302.6 835.9,305.1 845.9,307.5 856,310 866.2,312.5 876.3,315 631.8,260.5 641.5,262.9 651.3,265.3 661.1,267.7 671,270.1 680.8,272.5 690.7,275 700.5,277.4 710.4,279.8 720.3,282.3 730.2,284.7 740.2,287.1 760.1,292 770,294.5 780,297 790.1,299.4 800.1,301.9 810.1,304.4 820.2,306.8 830.3,309.3 840.4,311.8 850.5,314.3 860.6,316.8 870.8,319.3 626,264.6 635.8,267 645.6,269.4 655.4,271.9 665.2,274.3 675.1,276.7 684.9,279.1 694.8,281.6 704.7,284 774.4,301.2 784.4,303.7 794.5,306.2 804.5,308.6 814.6,311.1 824.7,313.6 834.8,316.1 844.9,318.6 855.1,321.1 865.2,323.6 620.2,268.8 630,271.2 639.8,273.6 649.6,276 659.5,278.5 669.3,280.9 679.2,283.3 689.1,285.8 778.8,307.9 788.8,310.4 798.9,312.9 809,315.4 819.1,317.9 829.2,320.4 839.3,322.9 849.5,325.4 859.6,327.9 614.4,272.9 624.2,275.4 634,277.8 643.8,280.2 653.7,282.7 663.5,285.1 673.4,287.6 683.3,290 783.2,314.7 793.2,317.2 803.3,319.7 813.4,322.2 823.6,324.7 833.7,327.2 843.9,329.7 854,332.3 608.6,277.1 618.4,279.6 628.2,282 638,284.4 647.9,286.9 657.8,289.3 667.6,291.8 677.5,294.2 787.6,321.5 797.7,324 807.8,326.5 817.9,329 828.1,331.6 838.3,334.1 848.4,336.6 602.7,281.3 612.5,283.8 622.4,286.2 632.2,288.6 642.1,291.1 652,293.5 661.9,296 671.8,298.5 781.9,325.8 792,328.3 802.1,330.9 812.3,333.4 822.4,335.9 832.6,338.4 842.8,341 596.8,285.5 606.7,288 616.5,290.4 626.4,292.9 636.2,295.3 646.1,297.8 656,300.3 666,302.7 786.3,332.7 796.5,335.2 806.6,337.7 816.8,340.3 827,342.8 837.2,345.3 591,289.7 600.8,292.2 610.6,294.6 620.5,297.1 630.4,299.6 640.3,302 650.2,304.5 660.1,307 780.6,337 790.8,339.6 800.9,342.1 811.1,344.6 821.3,347.2 831.5,349.7 585.1,294 594.9,296.4 604.8,298.9 614.6,301.4 624.5,303.8 634.4,306.3 644.4,308.8 654.3,311.3 664.3,313.8 774.9,341.4 785.1,343.9 795.2,346.5 805.4,349 815.6,351.6 825.9,354.1 579.2,298.2 589,300.7 598.9,303.1 608.8,305.6 618.7,308.1 628.6,310.6 638.5,313.1 648.5,315.6 658.4,318 668.4,320.5 769.2,345.8 779.3,348.3 789.5,350.9 799.7,353.4 809.9,356 820.2,358.5 573.2,302.5 583.1,304.9 593,307.4 602.9,309.9 612.8,312.4 622.7,314.9 632.6,317.4 642.6,319.9 652.6,322.4 662.6,324.9 672.6,327.4 753.3,347.6 763.4,350.2 773.6,352.7 783.8,355.3 794,357.8 804.2,360.4 814.5,363 567.3,306.7 577.1,309.2 587,311.7 596.9,314.2 606.9,316.7 616.8,319.2 626.7,321.7 636.7,324.2 646.7,326.7 656.7,329.2 666.7,331.7 676.8,334.2 686.8,336.8 747.5,352 757.7,354.6 767.8,357.1 778,359.7 788.3,362.2 798.5,364.8 808.8,367.4 561.3,311 571.2,313.5 581.1,316 591,318.5 600.9,321 610.9,323.5 620.8,326 630.8,328.5 640.8,331 650.8,333.5 660.9,336.1 670.9,338.6 681,341.1 691,343.7 701.1,346.2 711.2,348.7 721.4,351.3 731.5,353.8 741.7,356.4 751.9,359 762.1,361.5 772.3,364.1 782.5,366.7 792.8,369.3 803,371.8 555.3,315.3 565.2,317.8 575.1,320.3 585.1,322.8 595,325.3 604.9,327.8 614.9,330.3 624.9,332.8 634.9,335.4 644.9,337.9 655,340.4 665,342.9 675.1,345.5 685.2,348 695.3,350.6 705.4,353.1 715.5,355.7 725.7,358.3 735.9,360.8 746.1,363.4 756.3,366 766.5,368.5 776.7,371.1 787,373.7 797.3,376.3 549.3,319.6 559.2,322.1 569.1,324.6 579.1,327.1 589,329.6 599,332.1 609,334.7 619,337.2 629,339.7 639,342.2 649.1,344.8 659.1,347.3 669.2,349.9 679.3,352.4 689.4,355 699.6,357.5 709.7,360.1 719.9,362.7 730,365.2 740.2,367.8 750.5,370.4 760.7,373 771,375.6 781.2,378.2 791.5,380.8 543.3,323.9 553.2,326.4 563.2,328.9 573.1,331.4 583.1,333.9 593,336.5 603,339 613,341.5 623,344.1 633.1,346.6 643.1,349.2 653.2,351.7 663.3,354.3 673.4,356.8 683.5,359.4 693.7,362 703.8,364.5 714,367.1 724.2,369.7 734.4,372.3 744.6,374.9 754.9,377.5 765.1,380.1 775.4,382.7 785.7,385.3 537.3,328.2 547.2,330.7 557.1,333.3 567.1,335.8 577.1,338.3 587,340.8 597,343.4 607.1,345.9 617.1,348.5 627.1,351 637.2,353.6 647.3,356.1 657.4,358.7 667.5,361.2 677.6,363.8 687.8,366.4 698,369 708.1,371.6 718.3,374.1 728.6,376.7 738.8,379.3 749.1,381.9 759.3,384.5 769.6,387.2 779.9,389.8 531.2,332.6 541.2,335.1 551.1,337.6 561.1,340.1 571,342.7 581,345.2 591,347.8 601.1,350.3 611.1,352.9 621.2,355.4 631.2,358 641.3,360.5 651.5,363.1 661.6,365.7 671.7,368.3 681.9,370.8 692.1,373.4 702.3,376 712.5,378.6 722.7,381.2 732.9,383.8 743.2,386.4 753.5,389 763.8,391.7 774.1,394.3" fill="none" stroke="none" marker-start="url(#dm)" marker-mid="url(#dm)" marker-end="url(#dm)"/>
<use href="#v0_0"/>
</g>
<g transform="translate(1289.8,1666.6)">
<g opacity="0.5" stroke-width="5.6" stroke-linejoin="miter">
<polygon points="516.1,306.9 668.6,198.8 673.3,1169.3 534.6,1300.4" fill="#f2f2f2" stroke="#f2f2f2"/>
<polygon points="668.6,198.8 924.2,260.2 906.3,1243.9 673.3,1169.3" fill="#e6e6e6" stroke="#e6e6e6"/>
<polygon points="534.6,1300.4 772.9,1380.2 906.3,1243.9 673.3,1169.3" fill="#ececec" stroke="#ececec"/>
</g>
<polyline points="534.6,1300.4 772.9,1380.2" fill="none" stroke="#000" stroke-width="5.6" stroke-linecap="square"/>
<g fill="none" stroke="#b0b0b0" stroke-width="4.4" stroke-linejoin="round"><polyline points="539.3,1302 677.8,1170.8 673.6,200"/><polyline points="629.9,1332.3 766.4,1199.2 770.7,223.4"/><polyline points="721.8,1363.1 856.3,1227.9 869.4,247.1"/></g>
<g fill="none" stroke="#000" stroke-width="5.6" stroke-linecap="square"><polyline points="538.2,1303 541.6,1299.8"/><polyline points="628.7,1333.4 632.1,1330.1"/><polyline points="720.7,1364.2 724,1360.8"/></g>
<polyline points="906.3,1243.9 772.9,1380.2" fill="none" stroke="#000" stroke-width="5.6" stroke-linecap="square"/>
<g fill="none" stroke="#b0b0b0" stroke-width="4.4" stroke-linejoin="round"><polyline points="519.3,304.6 537.5,1297.7 775.7,1377.4"/><polyline points="578.8,262.4 591.5,1246.6 827.6,1324.3"/><polyline points="636.7,221.4 644.2,1196.8 878.3,1272.5"/></g>
<g fill="none" stroke="#000" stroke-width="5.6" stroke-linecap="square"><polyline points="777.6,1378 771.8,1376.1"/><polyline points="829.6,1324.9 823.8,1323"/><polyline points="880.2,1273.1 874.5,1271.3"/></g>
<polyline points="906.3,1243.9 924.2,260.2" fill="none" stroke="#000" stroke-width="5.6" stroke-linecap="square"/>
<g fill="none" stroke="#b0b0b0" stroke-width="4.4" stroke-linejoin="round"><polyline points="923.8,281.8 668.7,220 516.5,328.7"/><polyline points="920.1,484.7 669.7,419.9 520.4,533.8"/><polyline points="916.6,680.2 670.6,612.8 524,731.4"/><polyline points="913.1,868.9 671.5,798.9 527.6,921.9"/><polyline points="909.8,1051 672.4,978.7 531,1105.7"/><polyline points="906.6,1226.9 673.2,1152.4 534.3,1283.2"/></g>
<g fill="none" stroke="#000" stroke-width="5.6" stroke-linecap="square"><polyline points="925.9,282.3 919.7,280.8"/><polyline points="922.2,485.2 916,483.6"/><polyline points="918.6,680.8 912.5,679.1"/><polyline points="915.1,869.5 909.2,867.8"/><polyline points="911.7,1051.6 905.9,1049.8"/><polyline points="908.5,1227.5 902.8,1225.6"/></g>

<g font-family="'DejaVu Sans','Liberation Sans',sans-serif" font-size="44.4" text-anchor="middle" fill="#000">
<text x="525.8" y="1451.1">0</text>
<text x="617.1" y="1482">150</text>
<text x="707.4" y="1512.9">300</text>
<text x="802.5" y="1521.1">0</text>
<text x="854.5" y="1466.9">150</text>
<text x="904.1" y="1414">300</text>
<text x="968.2" y="311.9">0.0</text>
<text x="964.1" y="515">0.3</text>
<text x="960.8" y="710.3">0.6</text>
<text x="956.5" y="897.5">0.9</text>
<text x="953.8" y="1080.1">1.2</text>
<text x="949.2" y="1256.9">1.5</text>
</g>
<g font-family="'DejaVu Sans','Liberation Sans',sans-serif" font-size="55.6" text-anchor="middle" fill="#000">
<text transform="translate(623.7,1582.4) rotate(17.9)" y="11.1">x (µm)</text>
<text transform="translate(896,1535.7) rotate(-45.4)" y="11.1">y (µm)</text>
<text transform="translate(1061,757.5) rotate(-90)" y="11.1">z (µm)</text>
</g>
<g transform="translate(1083.5,347) rotate(-90)" font-family="'DejaVu Sans','Liberation Sans',sans-serif" fill="#000"><text x="-5.2" y="1.5" font-size="38" font-weight="200">×</text><text x="27.7" y="0" font-size="44.4">10</text><text x="85" y="-16.8" font-size="31.1">3</text></g>
<use href="#v1_10"/>
<polyline points="783.7,1187.8 792.8,1190.7 801.9,1193.6 810.9,1196.5 820.1,1199.4 829.2,1202.3 838.3,1205.3 847.5,1208.2 856.6,1211.1 865.8,1214 875,1216.9 884.2,1219.9 893.4,1222.8 733.4,1178.4 742.4,1181.3 751.5,1184.2 760.5,1187 769.5,1189.9 778.6,1192.8 787.7,1195.7 796.8,1198.6 805.9,1201.5 815,1204.4 824.1,1207.4 833.2,1210.3 842.4,1213.2 851.6,1216.1 860.8,1219.1 870,1222 879.2,1224.9 888.4,1227.9 719.3,1180.5 728.3,1183.4 737.3,1186.2 746.3,1189.1 755.4,1192 764.4,1194.9 773.5,1197.8 782.6,1200.7 791.7,1203.6 800.8,1206.5 809.9,1209.5 819,1212.4 828.2,1215.3 837.3,1218.2 846.5,1221.2 855.7,1224.1 864.9,1227.1 874.1,1230 883.4,1233 705.1,1182.6 714.1,1185.4 723.1,1188.3 732.1,1191.2 741.2,1194.1 750.2,1197 759.3,1199.9 768.4,1202.8 777.4,1205.7 786.5,1208.7 795.7,1211.6 804.8,1214.5 813.9,1217.4 823.1,1220.4 832.3,1223.3 841.5,1226.3 850.7,1229.2 859.9,1232.2 869.1,1235.1 878.3,1238.1 699.9,1187.5 708.9,1190.4 717.9,1193.3 727,1196.2 736,1199.1 745.1,1202 754.1,1204.9 763.2,1207.8 772.3,1210.8 781.4,1213.7 790.5,1216.6 799.7,1219.6 808.8,1222.5 818,1225.4 827.2,1228.4 836.4,1231.3 845.6,1234.3 854.8,1237.2 864,1240.2 873.3,1243.2 685.7,1189.6 694.7,1192.5 703.7,1195.4 712.7,1198.3 721.8,1201.2 730.8,1204.1 739.9,1207 749,1210 758.1,1212.9 767.2,1215.8 776.3,1218.7 785.4,1221.7 794.6,1224.6 803.7,1227.6 812.9,1230.5 822.1,1233.5 831.3,1236.4 840.5,1239.4 849.7,1242.4 859,1245.3 868.2,1248.3 680.5,1194.6 689.5,1197.5 698.5,1200.4 707.5,1203.3 716.6,1206.2 725.6,1209.1 734.7,1212.1 752.9,1217.9 762,1220.9 771.1,1223.8 780.3,1226.7 789.4,1229.7 798.6,1232.6 807.8,1235.6 817,1238.6 826.2,1241.5 835.4,1244.5 844.6,1247.5 853.9,1250.5 863.2,1253.4 675.2,1199.6 684.2,1202.5 693.3,1205.4 702.3,1208.3 711.4,1211.3 720.4,1214.2 729.5,1217.1 756.8,1225.9 766,1228.9 775.1,1231.8 784.3,1234.8 793.4,1237.7 802.6,1240.7 811.8,1243.7 821.1,1246.7 830.3,1249.6 839.5,1252.6 848.8,1255.6 858.1,1258.6 661,1201.7 670,1204.6 679,1207.5 688,1210.4 697.1,1213.4 706.1,1216.3 715.2,1219.2 760.8,1234 769.9,1236.9 779.1,1239.9 788.3,1242.9 797.5,1245.8 806.7,1248.8 815.9,1251.8 825.2,1254.8 834.4,1257.8 843.7,1260.8 853,1263.8 655.7,1206.7 664.7,1209.6 673.7,1212.6 682.8,1215.5 691.8,1218.4 700.9,1221.4 773.9,1245 783.1,1248 792.3,1251 801.5,1253.9 810.8,1256.9 820,1259.9 829.3,1262.9 838.6,1265.9 847.9,1268.9 650.4,1211.7 659.4,1214.7 668.4,1217.6 677.5,1220.5 686.6,1223.5 695.6,1226.4 796.4,1259.1 805.6,1262.1 814.9,1265.1 824.1,1268.1 833.4,1271.1 842.7,1274.1 645.1,1216.8 654.1,1219.7 663.2,1222.7 672.2,1225.6 681.3,1228.6 690.4,1231.5 791.2,1264.3 800.5,1267.3 809.7,1270.3 819,1273.3 828.3,1276.3 837.6,1279.3 630.7,1218.9 639.8,1221.8 648.8,1224.8 657.9,1227.7 666.9,1230.7 676,1233.6 685.1,1236.6 795.3,1272.5 804.5,1275.5 813.8,1278.5 823.1,1281.5 832.4,1284.6 625.4,1224 634.4,1226.9 643.5,1229.9 652.5,1232.8 661.6,1235.8 670.7,1238.7 679.8,1241.7 688.9,1244.7 698,1247.7 799.3,1280.7 808.6,1283.7 817.9,1286.7 827.3,1289.8 620,1229 629.1,1232 638.1,1235 647.2,1237.9 656.3,1240.9 665.4,1243.9 674.5,1246.8 683.6,1249.8 692.7,1252.8 701.9,1255.8 794.1,1285.9 803.4,1288.9 812.8,1292 822.1,1295 605.6,1231.2 614.7,1234.1 623.7,1237.1 632.8,1240.1 641.9,1243 650.9,1246 660,1249 669.2,1252 678.3,1255 687.4,1257.9 696.6,1260.9 798.2,1294.2 807.6,1297.2 816.9,1300.3 591.2,1233.3 600.3,1236.3 609.3,1239.2 618.4,1242.2 627.4,1245.2 636.5,1248.2 645.6,1251.1 654.7,1254.1 663.8,1257.1 673,1260.1 682.1,1263.1 691.3,1266.1 700.5,1269.1 793,1299.4 585.8,1238.4 594.9,1241.4 603.9,1244.4 613,1247.3 622,1250.3 631.1,1253.3 640.2,1256.3 649.3,1259.3 658.5,1262.3 667.6,1265.3 676.8,1268.3 686,1271.3 695.1,1274.3 580.4,1243.5 589.4,1246.5 598.5,1249.5 607.6,1252.5 616.6,1255.5 625.7,1258.4 634.9,1261.4 644,1264.4 653.1,1267.4 662.3,1270.5 671.4,1273.5 680.6,1276.5 689.8,1279.5 575,1248.7 584,1251.6 593.1,1254.6 602.1,1257.6 611.2,1260.6 620.3,1263.6 629.5,1266.6 638.6,1269.6 647.7,1272.6 656.9,1275.7 666.1,1278.7 675.3,1281.7 684.5,1284.7 569.5,1253.8 578.6,1256.8 587.6,1259.8 596.7,1262.8 605.8,1265.8 614.9,1268.8 624.1,1271.8 633.2,1274.8 642.3,1277.8 651.5,1280.9 660.7,1283.9 669.9,1286.9 679.1,1290 564,1258.9 573.1,1261.9 582.2,1264.9 591.3,1268 600.4,1271 609.5,1274 618.6,1277 627.8,1280 636.9,1283.1 646.1,1286.1 655.3,1289.1 664.5,1292.2 673.7,1295.2 558.5,1264.1 567.6,1267.1 576.7,1270.1 585.8,1273.1 594.9,1276.2 604.1,1279.2 613.2,1282.2 622.4,1285.2 631.5,1288.3 640.7,1291.3 649.9,1294.4 659.1,1297.4 668.3,1300.5 553.1,1269.3 562.1,1272.3 571.2,1275.3 580.3,1278.3 589.5,1281.4 598.6,1284.4 607.7,1287.4 616.9,1290.5 626.1,1293.5 635.3,1296.6 644.5,1299.6 653.7,1302.7 662.9,1305.7 547.5,1274.5 556.6,1277.5 565.7,1280.5 574.8,1283.6 584,1286.6 593.1,1289.6 602.3,1292.7 611.5,1295.7 620.6,1298.8 629.8,1301.8 639.1,1304.9 648.3,1308 657.5,1311" fill="none" stroke="none" marker-start="url(#dm)" marker-mid="url(#dm)" marker-end="url(#dm)"/>
<use href="#v1_9"/>
<polyline points="802.6,1098.2 811.8,1101.1 821,1103.9 830.2,1106.8 839.4,1109.7 848.6,1112.5 857.9,1115.4 867.1,1118.3 797.5,1103.1 806.7,1106 815.9,1108.9 825.1,1111.7 834.3,1114.6 843.5,1117.5 852.8,1120.4 862.1,1123.3 871.4,1126.2 880.7,1129.1 890,1132 792.3,1108.1 801.5,1110.9 810.7,1113.8 819.9,1116.7 829.2,1119.6 838.4,1122.5 847.7,1125.4 857,1128.3 866.3,1131.2 875.6,1134.1 884.9,1137 796.4,1115.9 805.6,1118.8 814.8,1121.7 824.1,1124.6 833.3,1127.5 842.6,1130.4 851.9,1133.3 861.2,1136.2 870.5,1139.1 879.8,1142 800.4,1123.8 809.7,1126.6 818.9,1129.5 828.2,1132.4 837.5,1135.4 846.8,1138.3 856.1,1141.2 865.4,1144.1 874.7,1147 804.5,1131.6 813.8,1134.5 823,1137.5 832.3,1140.4 841.6,1143.3 850.9,1146.2 860.3,1149.1 869.6,1152.1 808.6,1139.6 817.9,1142.5 827.2,1145.4 836.5,1148.3 845.8,1151.3 855.1,1154.2 864.5,1157.1 812.7,1147.5 822,1150.4 831.3,1153.4 840.7,1156.3 850,1159.3 859.4,1162.2 816.8,1155.5 826.2,1158.4 835.5,1161.4 844.9,1164.3 854.2,1167.3 821,1163.5 830.3,1166.5 839.7,1169.4 849.1,1172.4 815.8,1168.6 825.1,1171.6 834.5,1174.5 843.9,1177.5 819.9,1176.7 829.3,1179.7 838.7,1182.6 588.2,1184.6 597.4,1187.6 606.6,1190.6" fill="none" stroke="none" marker-start="url(#dm)" marker-mid="url(#dm)" marker-end="url(#dm)"/>
<use href="#v1_8"/>

<use href="#v1_7"/>

<use href="#v1_6"/>

<use href="#v1_5"/>
<circle cx="721.5" cy="822.5" r="14.5" fill="#00f" fill-opacity="1"/>
<polyline points="784.4,817.3 778.8,822.2 788.7,825" fill="none" stroke="none" marker-start="url(#dm)" marker-mid="url(#dm)" marker-end="url(#dm)"/>
<use href="#v1_4"/>
<polyline points="682.7,559.5 692.1,562.1 701.6,564.6 711.1,567.2 720.5,569.7 816.2,595.6 825.9,598.2 835.5,600.8 845.2,603.4 854.9,606 864.6,608.6 874.4,611.2 884.1,613.9 893.9,616.5 903.6,619.1 667.8,561.4 677.2,563.9 686.6,566.5 696.1,569 705.6,571.6 715.1,574.2 724.6,576.7 791.6,594.8 801.2,597.4 810.9,600 820.5,602.7 830.2,605.3 839.9,607.9 849.6,610.5 859.3,613.1 869,615.8 878.8,618.4 888.6,621 898.3,623.7 662.2,565.8 671.7,568.3 681.1,570.9 690.6,573.5 700.1,576 709.6,578.6 719.1,581.2 728.7,583.8 766.9,594.1 776.6,596.7 786.2,599.3 795.8,601.9 805.5,604.5 815.1,607.2 824.8,609.8 834.5,612.4 844.2,615 854,617.7 863.7,620.3 873.5,622.9 883.2,625.6 893,628.2 656.7,570.2 666.2,572.7 675.6,575.3 685.1,577.9 694.6,580.5 704.1,583 713.6,585.6 723.2,588.2 732.7,590.8 742.3,593.4 751.9,596 761.5,598.6 771.1,601.2 780.8,603.8 790.4,606.4 800.1,609.1 809.7,611.7 819.4,614.3 829.1,616.9 838.9,619.6 848.6,622.2 858.4,624.9 868.1,627.5 877.9,630.2 887.7,632.8 651.2,574.6 660.6,577.2 670.1,579.7 679.6,582.3 689.1,584.9 698.6,587.5 708.2,590.1 717.7,592.7 727.3,595.3 736.8,597.9 746.4,600.5 756.1,603.1 765.7,605.7 775.3,608.3 785,610.9 794.6,613.6 804.3,616.2 814,618.8 823.7,621.5 833.5,624.1 843.2,626.8 853,629.4 862.8,632.1 872.6,634.7 882.4,637.4 645.6,579 655.1,581.6 664.6,584.2 674.1,586.8 683.6,589.4 693.1,592 702.6,594.5 712.2,597.2 721.8,599.8 731.4,602.4 798.9,620.7 808.6,623.4 818.3,626 828.1,628.7 837.8,631.3 847.6,634 857.4,636.7 867.2,639.3 877,642 649.5,586.1 659,588.6 668.5,591.2 678,593.8 687.6,596.4 697.1,599 706.7,601.6 803.2,628 812.9,630.6 822.7,633.3 832.4,635.9 842.2,638.6 852,641.3 861.8,643.9 871.7,646.6 643.9,590.5 653.4,593.1 662.9,595.7 672.5,598.3 682,600.9 807.5,635.2 817.2,637.9 827,640.5 836.8,643.2 846.6,645.9 856.4,648.6 866.3,651.2 638.3,595 647.8,597.6 657.4,600.2 666.9,602.8 811.8,642.5 821.6,645.1 831.4,647.8 841.2,650.5 851,653.2 860.9,655.9 632.7,599.5 642.2,602.1 651.8,604.7 806.3,647.1 816.1,649.8 826,652.4 835.8,655.1 845.6,657.8 855.5,660.5 800.9,651.7 810.7,654.4 820.5,657.1 830.3,659.8 840.2,662.5 850,665.2 795.4,656.3 805.2,659 815,661.7 824.9,664.5 834.7,667.2 844.6,669.9 789.9,661 799.7,663.7 809.5,666.4 819.4,669.1 829.3,671.8 839.1,674.6 794.2,668.4 804,671.1 813.9,673.8 823.8,676.5 833.7,679.3 788.7,673.1 798.5,675.8 808.4,678.5 818.3,681.3 828.2,684 773.3,675 783.1,677.8 793,680.5 802.9,683.2 812.8,686 822.7,688.7 767.7,679.7 777.6,682.5 787.5,685.2 797.4,688 807.3,690.7 817.2,693.5 762.2,684.5 772,687.2 781.9,689.9 791.8,692.7 801.7,695.5 811.6,698.2 746.7,686.4 756.6,689.2 766.4,691.9 776.3,694.7 786.2,697.5 796.2,700.2 806.1,703 721.4,685.7 731.2,688.4 741.1,691.2 750.9,693.9 760.8,696.7 770.7,699.5 780.7,702.2 790.6,705 800.5,707.8 705.9,687.7 715.7,690.4 725.6,693.2 735.4,695.9 745.3,698.7 755.2,701.5 765.1,704.2 775.1,707 785,709.8 795,712.6 690.4,689.6 700.2,692.4 710.1,695.2 719.9,697.9 729.8,700.7 739.7,703.5 749.6,706.2 759.5,709 769.4,711.8 779.4,714.6 789.4,717.4 684.7,694.4 694.5,697.2 704.4,699.9 714.3,702.7 724.1,705.5 734,708.2 743.9,711 753.9,713.8 763.8,716.6 773.8,719.4 783.8,722.2 679,699.1 688.8,701.9 698.7,704.7 708.6,707.5 718.4,710.3 728.4,713 738.3,715.8 748.2,718.6 758.2,721.4 768.1,724.2 778.1,727 702.9,712.3 712.8,715.1 722.7,717.8 732.6,720.6 742.5,723.5 752.5,726.3 762.5,729.1 772.5,731.9" fill="none" stroke="none" marker-start="url(#dm)" marker-mid="url(#dm)" marker-end="url(#dm)"/>
<use href="#v1_3"/>
<polyline points="846.5,496 856.3,498.6 866.1,501.2 875.9,503.7 885.7,506.3 895.6,508.9 905.5,511.4 850.9,503 860.7,505.6 870.5,508.2 880.4,510.7 890.2,513.3 900.1,515.9 855.3,510 865.1,512.6 875,515.2 884.9,517.8 894.8,520.4 859.7,517 869.6,519.6 879.5,522.2 889.4,524.8 864.2,524.1 874.1,526.7 884,529.3 858.8,528.6 868.7,531.2 878.6,533.8 853.3,533.1 863.2,535.7 873.2,538.3 857.8,540.2 852.3,544.7" fill="none" stroke="none" marker-start="url(#dm)" marker-mid="url(#dm)" marker-end="url(#dm)"/>
<use href="#v1_2"/>
<polyline points="798.5,374.1 808.3,376.6 818.1,379.1 828,381.6 837.8,384.1 847.7,386.5 857.6,389 867.5,391.5 877.4,394 887.4,396.5 897.3,399.1 907.3,401.6 802.8,380.9 812.6,383.4 822.5,385.9 832.4,388.4 842.3,390.8 852.2,393.3 862.1,395.9 872,398.4 882,400.9 891.9,403.4 901.9,405.9 817,390.2 826.9,392.7 836.8,395.2 846.7,397.7 856.6,400.2 866.6,402.7 876.5,405.2 886.5,407.7 896.5,410.3 841.2,402 851.2,404.5 861.1,407" fill="none" stroke="none" marker-start="url(#dm)" marker-mid="url(#dm)" marker-end="url(#dm)"/>
<use href="#v1_1"/>
<polyline points="869,279.7 879,282.1 889.1,284.6 899.1,287 909.2,289.4 773.9,262.1 783.8,264.5 793.7,266.9 803.6,269.3 813.6,271.7 823.5,274.1 833.5,276.6 843.5,279 853.5,281.4 863.5,283.9 873.6,286.3 883.6,288.8 893.7,291.2 903.8,293.7 778.2,268.6 788.1,271.1 798.1,273.5 808,275.9 818,278.3 828,280.8 838,283.2 848,285.6 858,288.1 868.1,290.5 878.1,293 888.2,295.5 898.3,297.9 792.5,277.7 802.5,280.1 812.4,282.5 822.4,285 832.4,287.4 842.5,289.9 852.5,292.3 862.6,294.8 872.6,297.2 882.7,299.7 892.8,302.2 796.9,284.3 806.9,286.7 816.9,289.2 826.9,291.6 836.9,294.1 847,296.5 857,299 867.1,301.5 877.2,303.9 887.3,306.4 811.3,293.4 821.3,295.9 831.4,298.3 841.4,300.8 851.5,303.3 861.6,305.7 871.7,308.2 881.8,310.7 815.7,300.1 825.8,302.6 835.9,305.1 845.9,307.5 856,310 866.2,312.5 876.3,315 820.2,306.8 830.3,309.3 840.4,311.8 850.5,314.3 860.6,316.8 870.8,319.3 814.6,311.1 824.7,313.6 834.8,316.1 844.9,318.6 855.1,321.1 865.2,323.6 819.1,317.9 829.2,320.4 839.3,322.9 849.5,325.4 859.6,327.9 823.6,324.7 833.7,327.2 817.9,329 812.3,333.4 822.4,335.9 806.6,337.7 816.8,340.3 800.9,342.1 811.1,344.6 795.2,346.5 805.4,349 789.5,350.9 799.7,353.4 773.6,352.7 783.8,355.3 794,357.8 767.8,357.1 778,359.7 788.3,362.2 762.1,361.5 772.3,364.1 782.5,366.7 756.3,366 766.5,368.5 776.7,371.1 750.5,370.4 760.7,373 771,375.6 744.6,374.9 754.9,377.5 765.1,380.1 749.1,381.9 759.3,384.5" fill="none" stroke="none" marker-start="url(#dm)" marker-mid="url(#dm)" marker-end="url(#dm)"/>
<use href="#v1_0"/>
</g>
<g transform="translate(2579.6,1666.6)">
<g opacity="0.5" stroke-width="5.6" stroke-linejoin="miter">
<polygon points="516.1,306.9 668.6,198.8 673.3,1169.3 534.6,1300.4" fill="#f2f2f2" stroke="#f2f2f2"/>
<polygon points="668.6,198.8 924.2,260.2 906.3,1243.9 673.3,1169.3" fill="#e6e6e6" stroke="#e6e6e6"/>
<polygon points="534.6,1300.4 772.9,1380.2 906.3,1243.9 673.3,1169.3" fill="#ececec" stroke="#ececec"/>
</g>
<polyline points="534.6,1300.4 772.9,1380.2" fill="none" stroke="#000" stroke-width="5.6" stroke-linecap="square"/>
<g fill="none" stroke="#b0b0b0" stroke-width="4.4" stroke-linejoin="round"><polyline points="539.3,1302 677.8,1170.8 673.6,200"/><polyline points="629.9,1332.3 766.4,1199.2 770.7,223.4"/><polyline points="721.8,1363.1 856.3,1227.9 869.4,247.1"/></g>
<g fill="none" stroke="#000" stroke-width="5.6" stroke-linecap="square"><polyline points="538.2,1303 541.6,1299.8"/><polyline points="628.7,1333.4 632.1,1330.1"/><polyline points="720.7,1364.2 724,1360.8"/></g>
<polyline points="906.3,1243.9 772.9,1380.2" fill="none" stroke="#000" stroke-width="5.6" stroke-linecap="square"/>
<g fill="none" stroke="#b0b0b0" stroke-width="4.4" stroke-linejoin="round"><polyline points="519.3,304.6 537.5,1297.7 775.7,1377.4"/><polyline points="578.8,262.4 591.5,1246.6 827.6,1324.3"/><polyline points="636.7,221.4 644.2,1196.8 878.3,1272.5"/></g>
<g fill="none" stroke="#000" stroke-width="5.6" stroke-linecap="square"><polyline points="777.6,1378 771.8,1376.1"/><polyline points="829.6,1324.9 823.8,1323"/><polyline points="880.2,1273.1 874.5,1271.3"/></g>
<polyline points="906.3,1243.9 924.2,260.2" fill="none" stroke="#000" stroke-width="5.6" stroke-linecap="square"/>
<g fill="none" stroke="#b0b0b0" stroke-width="4.4" stroke-linejoin="round"><polyline points="923.8,281.8 668.7,220 516.5,328.7"/><polyline points="920.1,484.7 669.7,419.9 520.4,533.8"/><polyline points="916.6,680.2 670.6,612.8 524,731.4"/><polyline points="913.1,868.9 671.5,798.9 527.6,921.9"/><polyline points="909.8,1051 672.4,978.7 531,1105.7"/><polyline points="906.6,1226.9 673.2,1152.4 534.3,1283.2"/></g>
<g fill="none" stroke="#000" stroke-width="5.6" stroke-linecap="square"><polyline points="925.9,282.3 919.7,280.8"/><polyline points="922.2,485.2 916,483.6"/><polyline points="918.6,680.8 912.5,679.1"/><polyline points="915.1,869.5 909.2,867.8"/><polyline points="911.7,1051.6 905.9,1049.8"/><polyline points="908.5,1227.5 902.8,1225.6"/></g>

<g font-family="'DejaVu Sans','Liberation Sans',sans-serif" font-size="44.4" text-anchor="middle" fill="#000">
<text x="525.8" y="1451.1">0</text>
<text x="617.1" y="1482">150</text>
<text x="707.4" y="1512.9">300</text>
<text x="802.5" y="1521.1">0</text>
<text x="854.5" y="1466.9">150</text>
<text x="904.1" y="1414">300</text>
<text x="968.2" y="311.9">0.0</text>
<text x="964.1" y="515">0.3</text>
<text x="960.8" y="710.3">0.6</text>
<text x="956.5" y="897.5">0.9</text>
<text x="953.8" y="1080.1">1.2</text>
<text x="949.2" y="1256.9">1.5</text>
</g>
<g font-family="'DejaVu Sans','Liberation Sans',sans-serif" font-size="55.6" text-anchor="middle" fill="#000">
<text transform="translate(623.7,1582.4) rotate(17.9)" y="11.1">x (µm)</text>
<text transform="translate(896,1535.7) rotate(-45.4)" y="11.1">y (µm)</text>
<text transform="translate(1061,757.5) rotate(-90)" y="11.1">z (µm)</text>
</g>
<g transform="translate(1083.5,347) rotate(-90)" font-family="'DejaVu Sans','Liberation Sans',sans-serif" fill="#000"><text x="-5.2" y="1.5" font-size="38" font-weight="200">×</text><text x="27.7" y="0" font-size="44.4">10</text><text x="85" y="-16.8" font-size="31.1">3</text></g>
<use href="#v2_10"/>

<use href="#v2_9"/>

<use href="#v2_8"/>

<use href="#v2_7"/>

<use href="#v2_6"/>
<circle cx="721.6" cy="868" r="14.5" fill="#00f" fill-opacity="1"/>

<use href="#v2_5"/>
<polyline points="758.3,684.7 767.7,687.4 777.2,690 786.7,692.7 796.2,695.3 805.8,698 752.9,689.3 762.4,691.9 771.9,694.6 781.4,697.2 790.9,699.9 800.4,702.5 738.1,691.2 747.5,693.8 757,696.5 766.5,699.1 776,701.8 785.5,704.5 795.1,707.1 732.6,695.8 742.1,698.4 751.6,701.1 761.1,703.7 770.6,706.4 780.2,709.1 789.7,711.7 727.2,700.3 736.7,703 746.2,705.6 755.7,708.3 765.2,711 774.8,713.7 784.4,716.3 712.3,702.2 721.8,704.9 731.3,707.6 740.8,710.2 750.3,712.9 759.8,715.6 769.4,718.3 779,721 706.8,706.8 716.3,709.5 725.8,712.2 735.3,714.9 744.9,717.5 754.4,720.2 764,722.9 773.6,725.6 720.4,716.8 729.9,719.5 739.4,722.2 749,724.9 758.6,727.6" fill="none" stroke="none" marker-start="url(#dm)" marker-mid="url(#dm)" marker-end="url(#dm)"/>
<use href="#v2_4"/>

<use href="#v2_3"/>

<use href="#v2_2"/>
<polyline points="828,381.6 837.8,384.1 847.7,386.5 857.6,389 867.5,391.5 877.4,394 822.5,385.9 832.4,388.4 842.3,390.8 852.2,393.3 862.1,395.9 872,398.4 882,400.9 826.9,392.7 836.8,395.2 846.7,397.7 856.6,400.2 866.6,402.7" fill="none" stroke="none" marker-start="url(#dm)" marker-mid="url(#dm)" marker-end="url(#dm)"/>
<use href="#v2_1"/>
<polyline points="828,280.8 838,283.2 848,285.6 858,288.1 832.4,287.4 842.5,289.9 852.5,292.3 862.6,294.8 836.9,294.1 847,296.5 857,299 841.4,300.8 851.5,303.3" fill="none" stroke="none" marker-start="url(#dm)" marker-mid="url(#dm)" marker-end="url(#dm)"/>
<use href="#v2_0"/>
</g>
<g font-family="'DejaVu Sans','Liberation Sans',sans-serif" font-size="55.6" fill="#000">
<text x="178" y="289">(a)</text>
<text x="1467.8" y="289">(b)</text>
<text x="2757.6" y="289">(c)</text>
</g>
<defs><linearGradient id="cb1" x1="0" y1="0" x2="0" y2="1"><stop offset="0%" stop-color="#67000d"/><stop offset="6.2%" stop-color="#840711"/><stop offset="12.5%" stop-color="#a30f15"/><stop offset="18.8%" stop-color="#b71319"/><stop offset="25%" stop-color="#ca181d"/><stop offset="31.2%" stop-color="#dc2924"/><stop offset="37.5%" stop-color="#ee3a2c"/><stop offset="43.8%" stop-color="#f5523a"/><stop offset="50%" stop-color="#fb694a"/><stop offset="56.2%" stop-color="#fb7d5d"/><stop offset="62.5%" stop-color="#fc9272"/><stop offset="68.8%" stop-color="#fca689"/><stop offset="75%" stop-color="#fcbba1"/><stop offset="81.2%" stop-color="#fdcdb9"/><stop offset="87.5%" stop-color="#fee0d2"/><stop offset="93.8%" stop-color="#feeae1"/><stop offset="100%" stop-color="#fff5f0"/></linearGradient></defs>
<rect x="4010" y="416.8" width="44" height="800.2" fill="url(#cb1)" stroke="#000" stroke-width="5.5" stroke-linejoin="miter"/>
<g stroke="#000" stroke-width="6" fill="none">
<path d="M4054 1217H4037"/>
<path d="M4054 1117H4037"/>
<path d="M4054 1017H4037"/>
<path d="M4054 916.9H4037"/>
<path d="M4054 816.9H4037"/>
<path d="M4054 716.9H4037"/>
<path d="M4054 616.9H4037"/>
<path d="M4054 516.8H4037"/>
<path d="M4054 416.8H4037"/>
</g>
<g font-family="'DejaVu Sans','Liberation Sans',sans-serif" font-size="44.4" fill="#000">
<text x="4077" y="1234.2">0</text>
<text x="4077" y="1134.2">5</text>
<text x="4077" y="1034.2">10</text>
<text x="4077" y="934.1">15</text>
<text x="4077" y="834.1">20</text>
<text x="4077" y="734.1">25</text>
<text x="4077" y="634.1">30</text>
<text x="4077" y="534">35</text>
<text x="4077" y="434">40</text>
</g>
<text transform="translate(4197,814.9) rotate(-90)" font-family="'DejaVu Sans','Liberation Sans',sans-serif" font-size="55.6" text-anchor="middle" fill="#000">Tissue PO<tspan dy="8.9" font-size="38.9">2</tspan><tspan dy="-8.9"> drop (mmHg)</tspan></text>
<defs><linearGradient id="cb2" x1="0" y1="0" x2="0" y2="1"><stop offset="0%" stop-color="#000000"/><stop offset="6.2%" stop-color="#111111"/><stop offset="12.5%" stop-color="#242424"/><stop offset="18.8%" stop-color="#3a3a3a"/><stop offset="25%" stop-color="#515151"/><stop offset="31.2%" stop-color="#626262"/><stop offset="37.5%" stop-color="#727272"/><stop offset="43.8%" stop-color="#848484"/><stop offset="50%" stop-color="#959595"/><stop offset="56.2%" stop-color="#a9a9a9"/><stop offset="62.5%" stop-color="#bdbdbd"/><stop offset="68.8%" stop-color="#cbcbcb"/><stop offset="75%" stop-color="#d9d9d9"/><stop offset="81.2%" stop-color="#e4e4e4"/><stop offset="87.5%" stop-color="#f0f0f0"/><stop offset="93.8%" stop-color="#f7f7f7"/><stop offset="100%" stop-color="#ffffff"/></linearGradient></defs>
<rect x="4010" y="2083.4" width="44" height="800.2" fill="url(#cb2)" stroke="#000" stroke-width="5.5" stroke-linejoin="miter"/>
<g stroke="#000" stroke-width="6" fill="none">
<path d="M4054 2883.6H4037"/>
<path d="M4054 2723.6H4037"/>
<path d="M4054 2563.5H4037"/>
<path d="M4054 2403.5H4037"/>
<path d="M4054 2243.4H4037"/>
<path d="M4054 2083.4H4037"/>
</g>
<g font-family="'DejaVu Sans','Liberation Sans',sans-serif" font-size="44.4" fill="#000">
<text x="4077" y="2900.8">0.0</text>
<text x="4077" y="2740.8">0.2</text>
<text x="4077" y="2580.7">0.4</text>
<text x="4077" y="2420.7">0.6</text>
<text x="4077" y="2260.6">0.8</text>
<text x="4077" y="2100.6">1.0</text>
</g>
<text transform="translate(4209,2481.5) rotate(-90)" font-family="'DejaVu Sans','Liberation Sans',sans-serif" font-size="55.6" text-anchor="middle" fill="#000">Relative perfusion drop</text>
</svg></body></html>
